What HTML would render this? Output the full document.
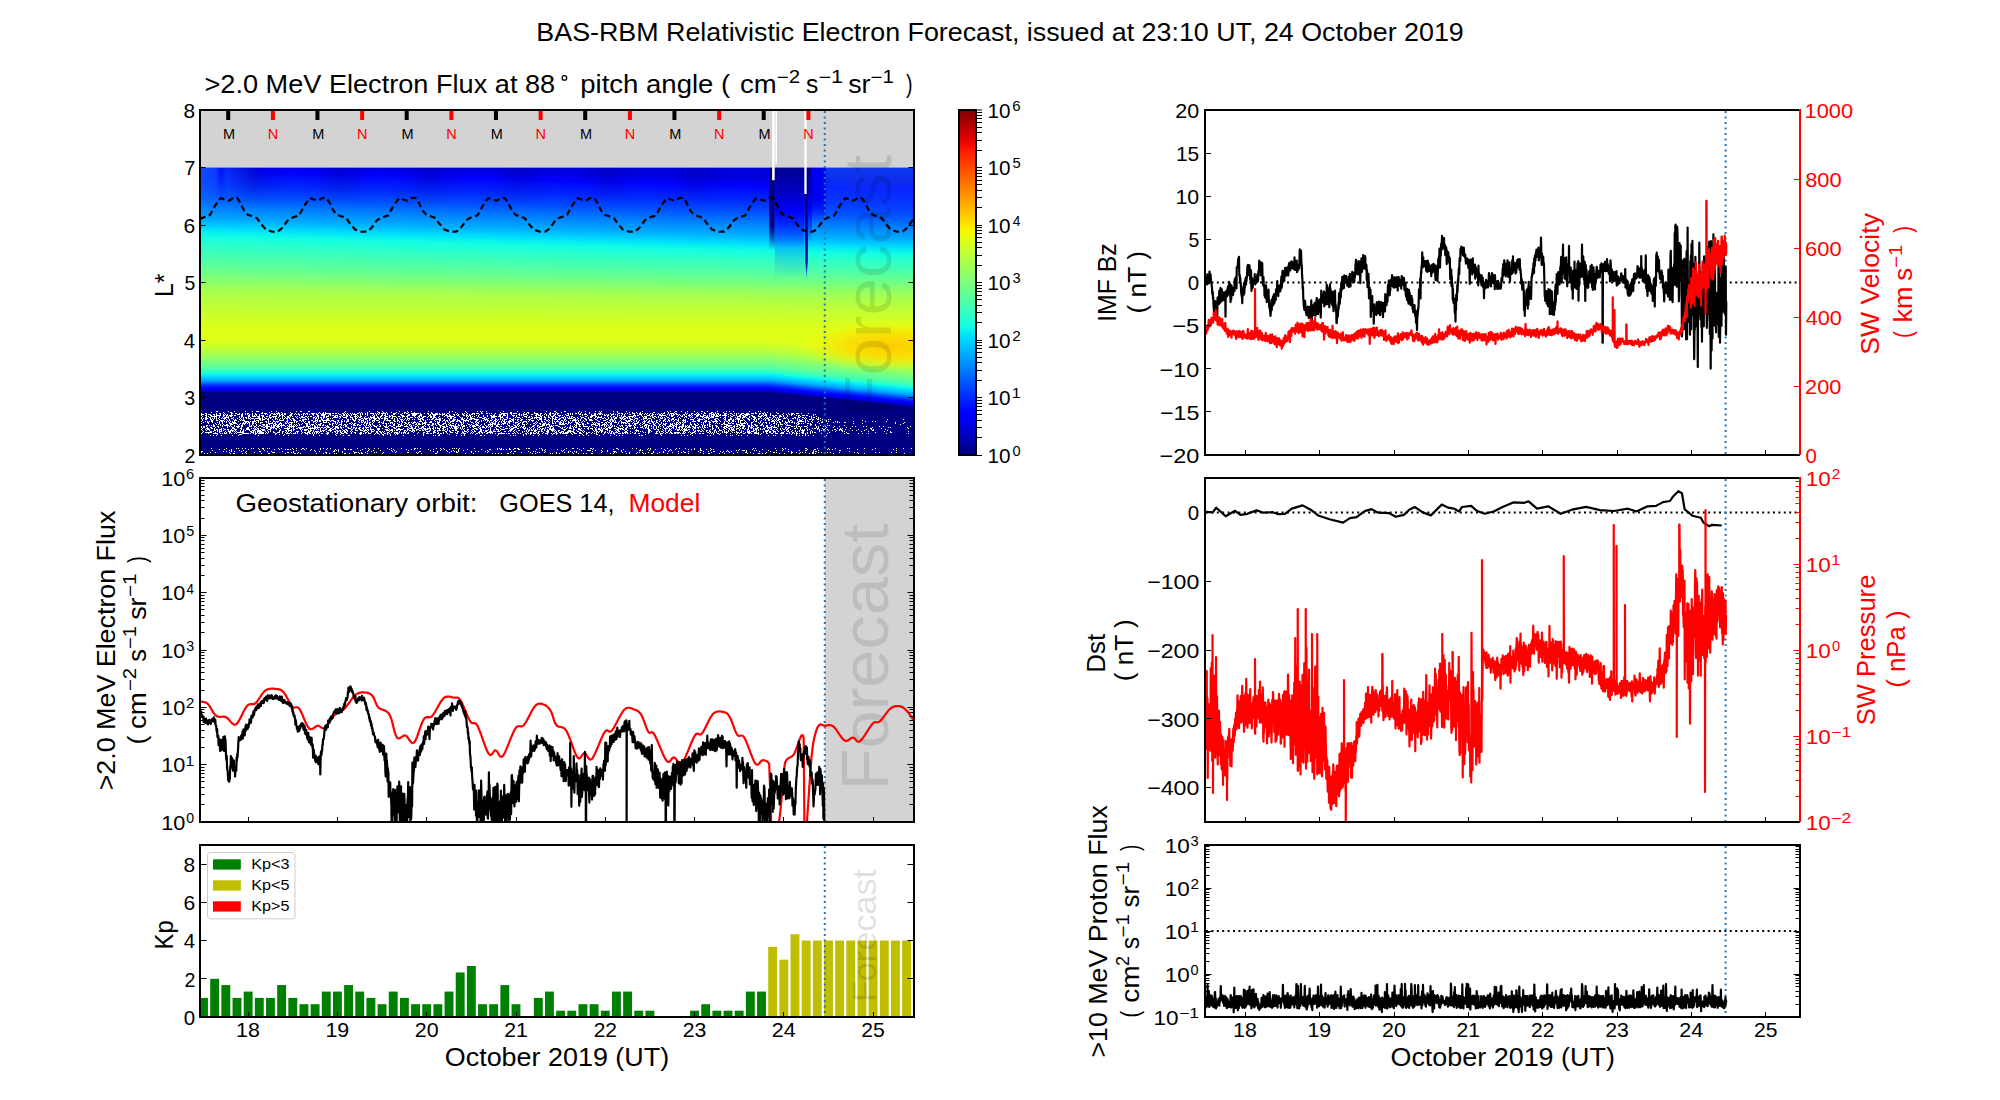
<!DOCTYPE html><html><head><meta charset="utf-8"><title>BAS-RBM Relativistic Electron Forecast</title><style>html,body{margin:0;padding:0;background:#fff;overflow:hidden}svg{display:block}text{font-family:"Liberation Sans",sans-serif}</style></head><body><svg width="2000" height="1100" viewBox="0 0 2000 1100" font-family="Liberation Sans, sans-serif"><defs><linearGradient id="gbase" gradientUnits="userSpaceOnUse" x1="0" y1="167.5" x2="0" y2="455"><stop offset="0.0000" stop-color="#0000e2"/><stop offset="0.0165" stop-color="#0000ff"/><stop offset="0.0261" stop-color="#0000ff"/><stop offset="0.0322" stop-color="#000aff"/><stop offset="0.0730" stop-color="#0028ff"/><stop offset="0.1148" stop-color="#0050ff"/><stop offset="0.1557" stop-color="#0081ff"/><stop offset="0.1965" stop-color="#00afff"/><stop offset="0.2243" stop-color="#00dbff"/><stop offset="0.2313" stop-color="#00e6f7"/><stop offset="0.2383" stop-color="#08f0ef"/><stop offset="0.2557" stop-color="#15ffe2"/><stop offset="0.2791" stop-color="#28ffce"/><stop offset="0.3617" stop-color="#64ff93"/><stop offset="0.4357" stop-color="#aaff4c"/><stop offset="0.5374" stop-color="#d6ff21"/><stop offset="0.5757" stop-color="#e1ff16"/><stop offset="0.6000" stop-color="#deff19"/><stop offset="0.6157" stop-color="#d2ff25"/><stop offset="0.6417" stop-color="#b3ff44"/><stop offset="0.6922" stop-color="#5fff98"/><stop offset="0.7070" stop-color="#3bffbb"/><stop offset="0.7165" stop-color="#15ffe2"/><stop offset="0.7243" stop-color="#00e5f7"/><stop offset="0.7278" stop-color="#00d9ff"/><stop offset="0.7426" stop-color="#009eff"/><stop offset="0.7548" stop-color="#0042ff"/><stop offset="0.7670" stop-color="#0000ff"/><stop offset="0.7696" stop-color="#0000ff"/><stop offset="0.7774" stop-color="#0000d1"/><stop offset="0.7826" stop-color="#000085"/><stop offset="0.7835" stop-color="#000080"/><stop offset="1.0000" stop-color="#000080"/></linearGradient><linearGradient id="gupm" gradientUnits="userSpaceOnUse" x1="0" y1="167.5" x2="0" y2="320"><stop offset="0" stop-color="#fff"/><stop offset="0.5" stop-color="#fff"/><stop offset="1" stop-color="#fff" stop-opacity="0"/></linearGradient><mask id="mupper" maskContentUnits="userSpaceOnUse"><rect x="200" y="167.5" width="714" height="155" fill="url(#gupm)"/></mask><clipPath id="cp1"><rect x="200" y="110" width="714" height="345"/></clipPath><linearGradient id="gper" gradientUnits="userSpaceOnUse" x1="200" y1="0" x2="289.25" y2="0" spreadMethod="repeat"><stop offset="0" stop-color="#0000a0" stop-opacity="0.05"/><stop offset="0.3" stop-color="#0000a0" stop-opacity="0.1"/><stop offset="0.55" stop-color="#0000a0" stop-opacity="0.45"/><stop offset="0.8" stop-color="#0000a0" stop-opacity="0.2"/><stop offset="1" stop-color="#0000a0" stop-opacity="0.05"/></linearGradient><linearGradient id="gvfade" x1="0" y1="0" x2="0" y2="1"><stop offset="0" stop-color="#fff"/><stop offset="0.35" stop-color="#fff" stop-opacity="0.6"/><stop offset="1" stop-color="#fff" stop-opacity="0"/></linearGradient><mask id="mtop" maskContentUnits="userSpaceOnUse"><rect x="200" y="167.5" width="714" height="40" fill="url(#gvfade)"/></mask><linearGradient id="gleft" x1="0" y1="0" x2="1" y2="0"><stop offset="0" stop-color="#2090ff" stop-opacity="0.55"/><stop offset="0.25" stop-color="#2090ff" stop-opacity="0.45"/><stop offset="0.35" stop-color="#2090ff" stop-opacity="0.1"/><stop offset="0.45" stop-color="#2090ff" stop-opacity="0.3"/><stop offset="1" stop-color="#2090ff" stop-opacity="0"/></linearGradient><linearGradient id="gvfade2" x1="0" y1="0" x2="0" y2="1"><stop offset="0" stop-color="#fff"/><stop offset="1" stop-color="#fff" stop-opacity="0"/></linearGradient><mask id="mleft" maskContentUnits="userSpaceOnUse"><rect x="200" y="167.5" width="60" height="60" fill="url(#gvfade2)"/></mask><radialGradient id="gorange"><stop offset="0" stop-color="#ffcc00" stop-opacity="1"/><stop offset="0.45" stop-color="#ffd800" stop-opacity="0.8"/><stop offset="0.75" stop-color="#ffe800" stop-opacity="0.35"/><stop offset="1" stop-color="#f0ff10" stop-opacity="0"/></radialGradient><linearGradient id="gd1" x1="0" y1="0" x2="0" y2="1"><stop offset="0" stop-color="#000080" stop-opacity="1"/><stop offset="0.7" stop-color="#000080" stop-opacity="1"/><stop offset="1" stop-color="#000080" stop-opacity="0"/></linearGradient><linearGradient id="gd2" x1="0" y1="0" x2="0" y2="1"><stop offset="0" stop-color="#000090"/><stop offset="0.3" stop-color="#0000c0"/><stop offset="0.55" stop-color="#0000ff"/><stop offset="1" stop-color="#0020ff" stop-opacity="0"/></linearGradient><linearGradient id="gd2b" x1="0" y1="0" x2="0" y2="1"><stop offset="0" stop-color="#0050ff" stop-opacity="0.75"/><stop offset="1" stop-color="#0050ff" stop-opacity="0"/></linearGradient><linearGradient id="gd3" x1="0" y1="0" x2="0" y2="1"><stop offset="0" stop-color="#000080"/><stop offset="0.75" stop-color="#000090"/><stop offset="0.88" stop-color="#0010e0" stop-opacity="0.9"/><stop offset="1" stop-color="#0050ff" stop-opacity="0.3"/></linearGradient><linearGradient id="gd4" x1="0" y1="0" x2="0" y2="1"><stop offset="0" stop-color="#0000f0" stop-opacity="1"/><stop offset="0.55" stop-color="#0000f0" stop-opacity="1"/><stop offset="1" stop-color="#0000f0" stop-opacity="0"/></linearGradient><linearGradient id="gftop" x1="0" y1="0" x2="0" y2="1"><stop offset="0" stop-color="#2080ff" stop-opacity="0.45"/><stop offset="0.6" stop-color="#2080ff" stop-opacity="0.2"/><stop offset="1" stop-color="#2080ff" stop-opacity="0"/></linearGradient><linearGradient id="gcb" x1="0" y1="0" x2="0" y2="1"><stop offset="0.000" stop-color="#800000"/><stop offset="0.025" stop-color="#9c0000"/><stop offset="0.050" stop-color="#b90000"/><stop offset="0.075" stop-color="#d60000"/><stop offset="0.100" stop-color="#f30900"/><stop offset="0.125" stop-color="#ff2100"/><stop offset="0.150" stop-color="#ff3900"/><stop offset="0.175" stop-color="#ff5000"/><stop offset="0.200" stop-color="#ff6800"/><stop offset="0.225" stop-color="#ff8000"/><stop offset="0.250" stop-color="#ff9700"/><stop offset="0.275" stop-color="#ffaf00"/><stop offset="0.300" stop-color="#ffc600"/><stop offset="0.325" stop-color="#ffde00"/><stop offset="0.350" stop-color="#f7f600"/><stop offset="0.375" stop-color="#e2ff15"/><stop offset="0.400" stop-color="#ceff29"/><stop offset="0.425" stop-color="#b9ff3e"/><stop offset="0.450" stop-color="#a5ff52"/><stop offset="0.475" stop-color="#90ff67"/><stop offset="0.500" stop-color="#7bff7b"/><stop offset="0.525" stop-color="#67ff90"/><stop offset="0.550" stop-color="#52ffa5"/><stop offset="0.575" stop-color="#3effb9"/><stop offset="0.600" stop-color="#29ffce"/><stop offset="0.625" stop-color="#15ffe2"/><stop offset="0.650" stop-color="#00e5f7"/><stop offset="0.675" stop-color="#00ccff"/><stop offset="0.700" stop-color="#00b3ff"/><stop offset="0.725" stop-color="#0099ff"/><stop offset="0.750" stop-color="#0080ff"/><stop offset="0.775" stop-color="#0066ff"/><stop offset="0.800" stop-color="#004cff"/><stop offset="0.825" stop-color="#0033ff"/><stop offset="0.850" stop-color="#001aff"/><stop offset="0.875" stop-color="#0000ff"/><stop offset="0.900" stop-color="#0000f3"/><stop offset="0.925" stop-color="#0000d6"/><stop offset="0.950" stop-color="#0000b9"/><stop offset="0.975" stop-color="#00009c"/><stop offset="1.000" stop-color="#000080"/></linearGradient><clipPath id="cp2"><rect x="200" y="478" width="714" height="344"/></clipPath><clipPath id="cp3"><rect x="200" y="845" width="714" height="172"/></clipPath><clipPath id="cp4"><rect x="1205" y="110" width="595" height="345"/></clipPath><clipPath id="cp5"><rect x="1205" y="478" width="595" height="344"/></clipPath><clipPath id="cp6"><rect x="1205" y="845" width="595" height="172"/></clipPath></defs><rect width="2000" height="1100" fill="#fff"/><text x="536.35" y="40.7" font-size="25.8" fill="#000" textLength="927.39" lengthAdjust="spacingAndGlyphs">BAS-RBM Relativistic Electron Forecast, issued at 23:10 UT, 24 October 2019</text><g clip-path="url(#cp1)"><rect x="200" y="167.5" width="714" height="287.5" fill="url(#gbase)"/><g mask="url(#mupper)"><g transform="translate(0,-4) translate(200,0) skewY(1.58) translate(-200,0)"><rect x="200" y="150" width="714" height="180" fill="url(#gbase)"/></g></g><g transform="translate(770,0) skewY(5.71) translate(-770,0)"><rect x="770" y="335" width="145" height="140" fill="url(#gbase)"/></g><ellipse cx="890" cy="346" rx="95" ry="26" fill="url(#gorange)"/><rect x="200" y="167.5" width="625" height="40" fill="url(#gper)" mask="url(#mtop)"/><rect x="200" y="167.5" width="60" height="60" fill="url(#gleft)" mask="url(#mleft)"/><rect x="825" y="167.5" width="89" height="55" fill="url(#gftop)"/><rect x="769.3" y="167.5" width="5.5" height="82.5" fill="url(#gd1)"/><rect x="774.8" y="200" width="29.7" height="80" fill="url(#gd2b)"/><rect x="774.8" y="167.5" width="29.7" height="80" fill="url(#gd2)"/><rect x="807.5" y="167.5" width="4.5" height="75" fill="url(#gd2)"/><path d="M804.3 167.5H807.8V262L806.5 280L805.3 262Z" fill="url(#gd3)"/><rect x="811.5" y="167.5" width="14.5" height="55" fill="url(#gd4)"/><rect x="200" y="110" width="714" height="57.5" fill="#d3d3d3"/></g><g clip-path="url(#cp1)"><path d="M216 411.5h1m0 0h1m10 0h1m5 0h1m10 0h1m6 0h1m3 0h1m0 0h1m0 0h1m12 0h1m4 0h1m19 0h1m3 0h1m0 0h1m6 0h1m0 0h1m35 0h1m23 0h1m7 0h1m4 0h1m16 0h1m7 0h1m3 0h1m16 0h1m20 0h1m2 0h1m12 0h1m11 0h1m2 0h1m1 0h1m3 0h1m16 0h1m13 0h1m28 0h1m7 0h1m0 0h1m8 0h1m0 0h1m13 0h1m5 0h1m9 0h1m3 0h1m1 0h1m11 0h1m3 0h1m8 0h1m15 0h1m24 0h1m2 0h1m4 0h1m0 0h1m4 0h1m5 0h1m6 0h1m6 0h1m0 0h1m4 0h1m9 0h1m8 0h1m2 0h1m3 0h1m15 0h1m8 0h1m1 0h1M211 412.5h1m11 0h1m6 0h1m0 0h1m30 0h1m6 0h1m8 0h1m2 0h1m8 0h1m28 0h1m3 0h1m1 0h1m18 0h1m14 0h1m1 0h1m5 0h1m10 0h1m0 0h1m3 0h1m2 0h1m4 0h1m4 0h1m7 0h1m0 0h1m2 0h1m5 0h1m16 0h1m17 0h1m5 0h1m10 0h1m14 0h1m18 0h1m9 0h1m0 0h1m12 0h1m2 0h1m0 0h1m5 0h1m15 0h1m5 0h1m4 0h1m16 0h1m2 0h1m7 0h1m10 0h1m16 0h1m11 0h1m2 0h1m3 0h1m3 0h1m12 0h1m0 0h1m9 0h1m3 0h1m5 0h1m10 0h1m11 0h1m6 0h1m6 0h1m0 0h1m2 0h1m7 0h1m31 0h1m8 0h1m2 0h1m8 0h1M201 413.5h1m3 0h1m0 0h1m9 0h1m2 0h1m0 0h1m3 0h1m6 0h1m0 0h1m2 0h1m0 0h1m2 0h1m2 0h1m2 0h1m1 0h1m0 0h1m3 0h1m2 0h1m5 0h1m0 0h1m1 0h1m0 0h1m0 0h1m4 0h1m0 0h1m1 0h1m1 0h1m0 0h1m0 0h1m0 0h1m2 0h1m1 0h1m0 0h1m5 0h1m0 0h1m2 0h1m2 0h1m4 0h1m0 0h1m1 0h1m0 0h1m3 0h1m0 0h1m0 0h1m0 0h1m1 0h1m1 0h1m1 0h1m1 0h1m0 0h1m1 0h1m0 0h1m0 0h1m0 0h1m0 0h1m0 0h1m1 0h1m0 0h1m1 0h1m0 0h1m1 0h1m3 0h1m0 0h1m1 0h1m1 0h1m2 0h1m1 0h1m1 0h1m2 0h1m0 0h1m1 0h1m1 0h1m2 0h1m1 0h1m2 0h1m0 0h1m0 0h1m0 0h1m1 0h1m1 0h1m1 0h1m1 0h1m0 0h1m0 0h1m0 0h1m0 0h1m1 0h1m5 0h1m0 0h1m0 0h1m2 0h1m3 0h1m1 0h1m1 0h1m0 0h1m3 0h1m0 0h1m0 0h1m0 0h1m0 0h1m0 0h1m0 0h1m0 0h1m1 0h1m3 0h1m2 0h1m0 0h1m2 0h1m0 0h1m2 0h1m0 0h1m0 0h1m1 0h1m2 0h1m1 0h1m2 0h1m0 0h1m8 0h1m4 0h1m1 0h1m2 0h1m4 0h1m0 0h1m0 0h1m1 0h1m0 0h1m0 0h1m2 0h1m0 0h1m3 0h1m0 0h1m1 0h1m1 0h1m3 0h1m5 0h1m0 0h1m0 0h1m0 0h1m0 0h1m0 0h1m0 0h1m2 0h1m0 0h1m1 0h1m0 0h1m0 0h1m0 0h1m2 0h1m3 0h1m2 0h1m1 0h1m5 0h1m0 0h1m0 0h1m0 0h1m2 0h1m0 0h1m3 0h1m3 0h1m0 0h1m1 0h1m0 0h1m1 0h1m1 0h1m0 0h1m8 0h1m0 0h1m1 0h1m1 0h1m2 0h1m0 0h1m1 0h1m1 0h1m4 0h1m3 0h1m4 0h1m0 0h1m2 0h1m0 0h1m0 0h1m0 0h1m8 0h1m2 0h1m4 0h1m0 0h1m1 0h1m0 0h1m2 0h1m1 0h1m4 0h1m0 0h1m0 0h1m2 0h1m1 0h1m0 0h1m1 0h1m2 0h1m1 0h1m2 0h1m1 0h1m5 0h1m2 0h1m1 0h1m0 0h1m3 0h1m1 0h1m0 0h1m0 0h1m0 0h1m1 0h1m0 0h1m8 0h1m1 0h1m3 0h1m0 0h1m3 0h1m1 0h1m2 0h1m2 0h1m0 0h1m3 0h1m0 0h1m0 0h1m1 0h1m1 0h1m1 0h1m0 0h1m5 0h1m0 0h1m0 0h1m3 0h1m0 0h1m2 0h1m1 0h1m1 0h1m2 0h1m0 0h1m0 0h1m2 0h1m0 0h1m0 0h1m2 0h1m0 0h1m0 0h1m1 0h1m0 0h1m2 0h1m0 0h1m1 0h1m0 0h1m1 0h1m4 0h1m6 0h1m0 0h1m4 0h1m4 0h1m2 0h1m0 0h1m0 0h1m2 0h1m0 0h1m0 0h1m2 0h1m6 0h1M201 414.5h1m0 0h1m0 0h1m2 0h1m1 0h1m0 0h1m0 0h1m2 0h1m0 0h1m1 0h1m3 0h1m2 0h1m1 0h1m1 0h1m3 0h1m5 0h1m0 0h1m0 0h1m1 0h1m0 0h1m2 0h1m1 0h1m1 0h1m2 0h1m2 0h1m0 0h1m2 0h1m5 0h1m1 0h1m2 0h1m2 0h1m0 0h1m0 0h1m1 0h1m1 0h1m1 0h1m0 0h1m1 0h1m0 0h1m4 0h1m0 0h1m2 0h1m1 0h1m1 0h1m0 0h1m1 0h1m1 0h1m1 0h1m1 0h1m1 0h1m2 0h1m0 0h1m2 0h1m0 0h1m3 0h1m0 0h1m0 0h1m0 0h1m0 0h1m3 0h1m0 0h1m8 0h1m0 0h1m2 0h1m0 0h1m1 0h1m1 0h1m2 0h1m1 0h1m0 0h1m0 0h1m0 0h1m3 0h1m1 0h1m2 0h1m1 0h1m5 0h1m2 0h1m1 0h1m3 0h1m2 0h1m1 0h1m5 0h1m0 0h1m5 0h1m0 0h1m6 0h1m0 0h1m2 0h1m0 0h1m0 0h1m0 0h1m0 0h1m3 0h1m0 0h1m6 0h1m1 0h1m1 0h1m0 0h1m0 0h1m0 0h1m0 0h1m0 0h1m1 0h1m0 0h1m1 0h1m0 0h1m0 0h1m1 0h1m2 0h1m3 0h1m0 0h1m1 0h1m1 0h1m3 0h1m0 0h1m2 0h1m2 0h1m1 0h1m0 0h1m1 0h1m4 0h1m14 0h1m4 0h1m0 0h1m0 0h1m1 0h1m0 0h1m2 0h1m3 0h1m6 0h1m0 0h1m1 0h1m1 0h1m0 0h1m0 0h1m0 0h1m4 0h1m0 0h1m3 0h1m0 0h1m0 0h1m1 0h1m3 0h1m1 0h1m2 0h1m0 0h1m3 0h1m0 0h1m1 0h1m7 0h1m2 0h1m1 0h1m1 0h1m6 0h1m0 0h1m1 0h1m1 0h1m0 0h1m0 0h1m4 0h1m2 0h1m0 0h1m1 0h1m1 0h1m0 0h1m1 0h1m1 0h1m1 0h1m1 0h1m2 0h1m0 0h1m0 0h1m1 0h1m1 0h1m4 0h1m1 0h1m4 0h1m0 0h1m3 0h1m4 0h1m0 0h1m0 0h1m2 0h1m1 0h1m2 0h1m2 0h1m0 0h1m1 0h1m1 0h1m1 0h1m0 0h1m1 0h1m4 0h1m1 0h1m1 0h1m1 0h1m0 0h1m1 0h1m0 0h1m1 0h1m3 0h1m0 0h1m1 0h1m2 0h1m1 0h1m2 0h1m0 0h1m1 0h1m0 0h1m0 0h1m3 0h1m5 0h1m1 0h1m0 0h1m0 0h1m0 0h1m1 0h1m1 0h1m1 0h1m3 0h1m0 0h1m2 0h1m3 0h1m3 0h1m3 0h1m0 0h1m2 0h1m0 0h1m0 0h1m0 0h1m0 0h1m0 0h1m9 0h1m3 0h1m1 0h1m0 0h1m3 0h1m11 0h1m3 0h1m2 0h1m1 0h1m0 0h1m1 0h1m18 0h1m1 0h1M201 415.5h1m3 0h1m0 0h1m3 0h1m0 0h1m2 0h1m1 0h1m0 0h1m0 0h1m0 0h1m0 0h1m2 0h1m0 0h1m1 0h1m0 0h1m1 0h1m0 0h1m0 0h1m0 0h1m1 0h1m0 0h1m5 0h1m0 0h1m5 0h1m0 0h1m2 0h1m1 0h1m1 0h1m2 0h1m1 0h1m0 0h1m0 0h1m5 0h1m0 0h1m5 0h1m2 0h1m0 0h1m1 0h1m0 0h1m5 0h1m0 0h1m0 0h1m7 0h1m3 0h1m9 0h1m3 0h1m0 0h1m2 0h1m0 0h1m0 0h1m0 0h1m3 0h1m1 0h1m1 0h1m0 0h1m1 0h1m0 0h1m0 0h1m3 0h1m1 0h1m0 0h1m1 0h1m0 0h1m1 0h1m1 0h1m3 0h1m1 0h1m2 0h1m6 0h1m4 0h1m1 0h1m1 0h1m4 0h1m0 0h1m1 0h1m0 0h1m3 0h1m1 0h1m0 0h1m8 0h1m0 0h1m0 0h1m3 0h1m0 0h1m0 0h1m2 0h1m0 0h1m0 0h1m0 0h1m3 0h1m0 0h1m0 0h1m7 0h1m0 0h1m2 0h1m0 0h1m0 0h1m6 0h1m2 0h1m0 0h1m0 0h1m1 0h1m0 0h1m3 0h1m2 0h1m0 0h1m4 0h1m0 0h1m1 0h1m0 0h1m1 0h1m0 0h1m5 0h1m1 0h1m4 0h1m3 0h1m2 0h1m0 0h1m1 0h1m0 0h1m4 0h1m0 0h1m2 0h1m0 0h1m0 0h1m1 0h1m4 0h1m0 0h1m0 0h1m1 0h1m2 0h1m1 0h1m1 0h1m3 0h1m7 0h1m0 0h1m1 0h1m0 0h1m0 0h1m1 0h1m3 0h1m1 0h1m1 0h1m2 0h1m0 0h1m3 0h1m0 0h1m0 0h1m1 0h1m3 0h1m0 0h1m0 0h1m13 0h1m4 0h1m3 0h1m0 0h1m0 0h1m0 0h1m0 0h1m8 0h1m0 0h1m1 0h1m0 0h1m2 0h1m5 0h1m1 0h1m1 0h1m2 0h1m8 0h1m0 0h1m0 0h1m1 0h1m0 0h1m2 0h1m5 0h1m0 0h1m0 0h1m1 0h1m0 0h1m6 0h1m0 0h1m0 0h1m0 0h1m0 0h1m0 0h1m0 0h1m3 0h1m1 0h1m0 0h1m0 0h1m4 0h1m1 0h1m1 0h1m1 0h1m3 0h1m0 0h1m0 0h1m1 0h1m3 0h1m0 0h1m0 0h1m1 0h1m2 0h1m0 0h1m0 0h1m1 0h1m1 0h1m1 0h1m1 0h1m0 0h1m1 0h1m0 0h1m1 0h1m0 0h1m1 0h1m0 0h1m0 0h1m0 0h1m0 0h1m3 0h1m2 0h1m0 0h1m1 0h1m2 0h1m0 0h1m1 0h1m0 0h1m1 0h1m0 0h1m0 0h1m3 0h1m0 0h1m5 0h1m2 0h1m0 0h1m1 0h1m0 0h1m0 0h1m3 0h1m1 0h1m0 0h1m1 0h1m0 0h1m2 0h1m0 0h1m2 0h1m3 0h1m3 0h1m4 0h1m1 0h1m0 0h1m2 0h1m0 0h1m0 0h1m1 0h1m0 0h1m5 0h1M202 416.5h1m3 0h1m1 0h1m2 0h1m0 0h1m0 0h1m0 0h1m0 0h1m0 0h1m2 0h1m3 0h1m2 0h1m1 0h1m1 0h1m0 0h1m7 0h1m1 0h1m0 0h1m5 0h1m0 0h1m2 0h1m0 0h1m0 0h1m0 0h1m1 0h1m0 0h1m0 0h1m2 0h1m0 0h1m2 0h1m0 0h1m1 0h1m2 0h1m0 0h1m0 0h1m0 0h1m0 0h1m2 0h1m2 0h1m1 0h1m2 0h1m0 0h1m1 0h1m1 0h1m2 0h1m1 0h1m3 0h1m0 0h1m2 0h1m0 0h1m1 0h1m1 0h1m0 0h1m3 0h1m1 0h1m0 0h1m4 0h1m0 0h1m1 0h1m0 0h1m0 0h1m5 0h1m0 0h1m1 0h1m1 0h1m0 0h1m1 0h1m3 0h1m0 0h1m2 0h1m3 0h1m0 0h1m0 0h1m1 0h1m1 0h1m0 0h1m3 0h1m4 0h1m2 0h1m0 0h1m2 0h1m2 0h1m0 0h1m3 0h1m0 0h1m0 0h1m1 0h1m0 0h1m1 0h1m0 0h1m0 0h1m0 0h1m2 0h1m0 0h1m2 0h1m0 0h1m0 0h1m1 0h1m0 0h1m6 0h1m3 0h1m0 0h1m1 0h1m1 0h1m0 0h1m0 0h1m2 0h1m1 0h1m0 0h1m1 0h1m0 0h1m4 0h1m4 0h1m2 0h1m0 0h1m0 0h1m0 0h1m0 0h1m0 0h1m0 0h1m5 0h1m6 0h1m1 0h1m1 0h1m1 0h1m1 0h1m3 0h1m4 0h1m3 0h1m3 0h1m0 0h1m0 0h1m0 0h1m0 0h1m0 0h1m1 0h1m0 0h1m0 0h1m1 0h1m4 0h1m5 0h1m2 0h1m7 0h1m0 0h1m0 0h1m2 0h1m1 0h1m4 0h1m3 0h1m0 0h1m2 0h1m3 0h1m2 0h1m0 0h1m0 0h1m1 0h1m3 0h1m4 0h1m4 0h1m1 0h1m0 0h1m7 0h1m4 0h1m0 0h1m3 0h1m0 0h1m0 0h1m2 0h1m0 0h1m1 0h1m2 0h1m5 0h1m2 0h1m2 0h1m0 0h1m2 0h1m3 0h1m1 0h1m0 0h1m0 0h1m2 0h1m0 0h1m0 0h1m0 0h1m0 0h1m0 0h1m1 0h1m6 0h1m1 0h1m0 0h1m0 0h1m3 0h1m1 0h1m1 0h1m0 0h1m2 0h1m2 0h1m4 0h1m4 0h1m0 0h1m4 0h1m3 0h1m0 0h1m2 0h1m0 0h1m2 0h1m1 0h1m4 0h1m0 0h1m2 0h1m0 0h1m0 0h1m0 0h1m2 0h1m0 0h1m1 0h1m1 0h1m0 0h1m0 0h1m1 0h1m0 0h1m0 0h1m0 0h1m6 0h1m2 0h1m2 0h1m0 0h1m4 0h1m0 0h1m0 0h1m0 0h1m2 0h1m0 0h1m0 0h1m3 0h1m2 0h1m0 0h1m0 0h1m3 0h1m0 0h1m0 0h1m0 0h1m1 0h1m2 0h1m6 0h1m0 0h1m4 0h1m0 0h1m0 0h1m1 0h1m3 0h1m10 0h1m1 0h1m8 0h1m1 0h1m4 0h1M201 417.5h1m3 0h1m0 0h1m2 0h1m0 0h1m3 0h1m1 0h1m2 0h1m2 0h1m1 0h1m0 0h1m0 0h1m0 0h1m0 0h1m4 0h1m5 0h1m1 0h1m1 0h1m1 0h1m0 0h1m1 0h1m1 0h1m7 0h1m0 0h1m2 0h1m1 0h1m4 0h1m0 0h1m0 0h1m1 0h1m1 0h1m2 0h1m3 0h1m2 0h1m1 0h1m0 0h1m0 0h1m6 0h1m2 0h1m1 0h1m0 0h1m0 0h1m0 0h1m2 0h1m5 0h1m0 0h1m1 0h1m1 0h1m1 0h1m0 0h1m1 0h1m0 0h1m1 0h1m6 0h1m0 0h1m0 0h1m0 0h1m0 0h1m2 0h1m2 0h1m0 0h1m0 0h1m0 0h1m3 0h1m0 0h1m0 0h1m2 0h1m1 0h1m1 0h1m0 0h1m3 0h1m3 0h1m1 0h1m0 0h1m0 0h1m0 0h1m0 0h1m2 0h1m0 0h1m1 0h1m3 0h1m0 0h1m3 0h1m2 0h1m3 0h1m3 0h1m1 0h1m4 0h1m2 0h1m0 0h1m0 0h1m2 0h1m1 0h1m1 0h1m2 0h1m0 0h1m3 0h1m2 0h1m0 0h1m1 0h1m0 0h1m0 0h1m2 0h1m8 0h1m2 0h1m0 0h1m2 0h1m0 0h1m4 0h1m1 0h1m4 0h1m2 0h1m0 0h1m5 0h1m1 0h1m0 0h1m0 0h1m2 0h1m0 0h1m5 0h1m0 0h1m0 0h1m0 0h1m5 0h1m0 0h1m0 0h1m3 0h1m0 0h1m7 0h1m1 0h1m0 0h1m0 0h1m2 0h1m3 0h1m1 0h1m0 0h1m2 0h1m1 0h1m0 0h1m0 0h1m0 0h1m0 0h1m0 0h1m1 0h1m2 0h1m0 0h1m2 0h1m0 0h1m2 0h1m2 0h1m0 0h1m0 0h1m3 0h1m0 0h1m0 0h1m1 0h1m1 0h1m1 0h1m1 0h1m1 0h1m0 0h1m2 0h1m3 0h1m0 0h1m0 0h1m4 0h1m1 0h1m0 0h1m3 0h1m1 0h1m0 0h1m0 0h1m0 0h1m0 0h1m2 0h1m3 0h1m2 0h1m1 0h1m1 0h1m0 0h1m2 0h1m0 0h1m1 0h1m0 0h1m2 0h1m0 0h1m1 0h1m2 0h1m1 0h1m4 0h1m3 0h1m1 0h1m0 0h1m5 0h1m0 0h1m2 0h1m1 0h1m1 0h1m1 0h1m1 0h1m2 0h1m0 0h1m5 0h1m4 0h1m4 0h1m1 0h1m3 0h1m1 0h1m2 0h1m6 0h1m1 0h1m0 0h1m0 0h1m0 0h1m0 0h1m1 0h1m0 0h1m0 0h1m0 0h1m6 0h1m3 0h1m0 0h1m4 0h1m4 0h1m1 0h1m2 0h1m1 0h1m0 0h1m0 0h1m1 0h1m2 0h1m3 0h1m0 0h1m0 0h1m4 0h1m4 0h1m1 0h1m1 0h1m0 0h1m2 0h1m1 0h1m1 0h1m1 0h1m4 0h1m1 0h1m7 0h1m0 0h1m2 0h1m0 0h1m2 0h1m0 0h1m1 0h1m5 0h1m1 0h1m0 0h1m3 0h1M201 418.5h1m1 0h1m1 0h1m0 0h1m0 0h1m2 0h1m1 0h1m1 0h1m1 0h1m1 0h1m2 0h1m1 0h1m0 0h1m0 0h1m2 0h1m2 0h1m0 0h1m4 0h1m2 0h1m2 0h1m2 0h1m1 0h1m0 0h1m1 0h1m0 0h1m0 0h1m1 0h1m0 0h1m0 0h1m0 0h1m0 0h1m0 0h1m1 0h1m2 0h1m0 0h1m1 0h1m1 0h1m4 0h1m0 0h1m3 0h1m1 0h1m1 0h1m1 0h1m0 0h1m1 0h1m2 0h1m0 0h1m3 0h1m2 0h1m4 0h1m2 0h1m4 0h1m1 0h1m0 0h1m1 0h1m2 0h1m1 0h1m3 0h1m0 0h1m1 0h1m1 0h1m6 0h1m6 0h1m5 0h1m2 0h1m0 0h1m4 0h1m0 0h1m1 0h1m0 0h1m0 0h1m0 0h1m1 0h1m1 0h1m1 0h1m0 0h1m0 0h1m0 0h1m1 0h1m0 0h1m1 0h1m0 0h1m1 0h1m0 0h1m0 0h1m0 0h1m3 0h1m0 0h1m1 0h1m2 0h1m1 0h1m5 0h1m1 0h1m0 0h1m0 0h1m8 0h1m1 0h1m0 0h1m0 0h1m9 0h1m0 0h1m2 0h1m2 0h1m0 0h1m1 0h1m5 0h1m1 0h1m0 0h1m1 0h1m7 0h1m0 0h1m1 0h1m2 0h1m2 0h1m0 0h1m0 0h1m0 0h1m0 0h1m7 0h1m0 0h1m0 0h1m1 0h1m1 0h1m2 0h1m3 0h1m4 0h1m2 0h1m3 0h1m1 0h1m0 0h1m2 0h1m6 0h1m10 0h1m0 0h1m1 0h1m1 0h1m2 0h1m0 0h1m0 0h1m3 0h1m4 0h1m1 0h1m0 0h1m1 0h1m3 0h1m0 0h1m2 0h1m1 0h1m2 0h1m0 0h1m0 0h1m0 0h1m0 0h1m2 0h1m2 0h1m2 0h1m2 0h1m0 0h1m2 0h1m5 0h1m2 0h1m4 0h1m0 0h1m1 0h1m2 0h1m2 0h1m2 0h1m0 0h1m0 0h1m3 0h1m0 0h1m0 0h1m1 0h1m0 0h1m1 0h1m1 0h1m0 0h1m4 0h1m0 0h1m0 0h1m5 0h1m0 0h1m0 0h1m0 0h1m1 0h1m0 0h1m0 0h1m3 0h1m5 0h1m0 0h1m0 0h1m2 0h1m3 0h1m2 0h1m0 0h1m4 0h1m1 0h1m7 0h1m5 0h1m2 0h1m1 0h1m3 0h1m2 0h1m1 0h1m0 0h1m5 0h1m0 0h1m0 0h1m5 0h1m1 0h1m4 0h1m0 0h1m4 0h1m0 0h1m0 0h1m0 0h1m2 0h1m4 0h1m0 0h1m2 0h1m2 0h1m0 0h1m2 0h1m0 0h1m1 0h1m2 0h1m1 0h1m0 0h1m0 0h1m3 0h1m3 0h1m1 0h1m4 0h1m0 0h1m0 0h1m1 0h1m4 0h1m0 0h1m1 0h1m1 0h1m6 0h1m1 0h1m4 0h1m4 0h1m1 0h1m1 0h1M202 419.5h1m2 0h1m0 0h1m3 0h1m0 0h1m1 0h1m2 0h1m2 0h1m4 0h1m1 0h1m2 0h1m3 0h1m1 0h1m3 0h1m1 0h1m1 0h1m6 0h1m3 0h1m4 0h1m0 0h1m1 0h1m0 0h1m0 0h1m2 0h1m0 0h1m3 0h1m2 0h1m1 0h1m1 0h1m3 0h1m3 0h1m2 0h1m2 0h1m0 0h1m7 0h1m0 0h1m0 0h1m0 0h1m0 0h1m1 0h1m6 0h1m1 0h1m3 0h1m0 0h1m3 0h1m0 0h1m0 0h1m13 0h1m4 0h1m0 0h1m1 0h1m1 0h1m0 0h1m1 0h1m2 0h1m0 0h1m0 0h1m2 0h1m1 0h1m0 0h1m2 0h1m0 0h1m3 0h1m0 0h1m3 0h1m4 0h1m0 0h1m1 0h1m6 0h1m2 0h1m2 0h1m0 0h1m0 0h1m1 0h1m2 0h1m1 0h1m2 0h1m1 0h1m3 0h1m0 0h1m0 0h1m1 0h1m0 0h1m3 0h1m1 0h1m1 0h1m0 0h1m2 0h1m0 0h1m0 0h1m0 0h1m0 0h1m0 0h1m3 0h1m4 0h1m3 0h1m0 0h1m0 0h1m1 0h1m3 0h1m0 0h1m0 0h1m2 0h1m2 0h1m0 0h1m0 0h1m2 0h1m0 0h1m0 0h1m0 0h1m0 0h1m5 0h1m0 0h1m0 0h1m0 0h1m4 0h1m2 0h1m0 0h1m1 0h1m1 0h1m1 0h1m1 0h1m0 0h1m0 0h1m4 0h1m0 0h1m0 0h1m1 0h1m1 0h1m0 0h1m2 0h1m0 0h1m3 0h1m1 0h1m0 0h1m0 0h1m6 0h1m1 0h1m0 0h1m0 0h1m2 0h1m0 0h1m2 0h1m3 0h1m1 0h1m0 0h1m0 0h1m1 0h1m0 0h1m4 0h1m0 0h1m7 0h1m0 0h1m0 0h1m1 0h1m2 0h1m4 0h1m0 0h1m2 0h1m0 0h1m0 0h1m3 0h1m0 0h1m3 0h1m5 0h1m0 0h1m2 0h1m0 0h1m0 0h1m1 0h1m6 0h1m1 0h1m0 0h1m5 0h1m0 0h1m0 0h1m1 0h1m2 0h1m3 0h1m1 0h1m3 0h1m3 0h1m7 0h1m4 0h1m0 0h1m2 0h1m2 0h1m0 0h1m0 0h1m1 0h1m0 0h1m1 0h1m4 0h1m1 0h1m4 0h1m0 0h1m0 0h1m0 0h1m4 0h1m0 0h1m0 0h1m0 0h1m0 0h1m1 0h1m3 0h1m5 0h1m0 0h1m2 0h1m5 0h1m0 0h1m2 0h1m0 0h1m0 0h1m0 0h1m1 0h1m1 0h1m1 0h1m0 0h1m0 0h1m3 0h1m4 0h1m0 0h1m3 0h1m0 0h1m1 0h1m1 0h1m4 0h1m1 0h1m2 0h1m0 0h1m1 0h1m2 0h1m1 0h1m1 0h1m0 0h1m0 0h1m7 0h1m8 0h1m1 0h1m2 0h1m2 0h1m3 0h1m0 0h1m1 0h1m0 0h1m3 0h1m0 0h1m3 0h1m5 0h1m1 0h1m56 0h1m15 0h1M202 420.5h1m8 0h1m0 0h1m3 0h1m0 0h1m2 0h1m0 0h1m0 0h1m0 0h1m3 0h1m1 0h1m4 0h1m0 0h1m0 0h1m3 0h1m1 0h1m0 0h1m0 0h1m9 0h1m1 0h1m0 0h1m0 0h1m1 0h1m1 0h1m5 0h1m4 0h1m5 0h1m0 0h1m0 0h1m0 0h1m0 0h1m3 0h1m3 0h1m1 0h1m0 0h1m0 0h1m3 0h1m0 0h1m1 0h1m0 0h1m7 0h1m0 0h1m2 0h1m0 0h1m0 0h1m1 0h1m0 0h1m1 0h1m0 0h1m0 0h1m0 0h1m0 0h1m0 0h1m0 0h1m0 0h1m1 0h1m0 0h1m0 0h1m3 0h1m0 0h1m2 0h1m2 0h1m2 0h1m0 0h1m4 0h1m0 0h1m0 0h1m3 0h1m1 0h1m0 0h1m0 0h1m3 0h1m1 0h1m2 0h1m0 0h1m0 0h1m1 0h1m0 0h1m0 0h1m5 0h1m1 0h1m0 0h1m0 0h1m0 0h1m0 0h1m2 0h1m0 0h1m2 0h1m0 0h1m2 0h1m1 0h1m2 0h1m1 0h1m11 0h1m2 0h1m1 0h1m8 0h1m4 0h1m0 0h1m2 0h1m0 0h1m1 0h1m0 0h1m1 0h1m2 0h1m0 0h1m0 0h1m2 0h1m0 0h1m0 0h1m3 0h1m0 0h1m0 0h1m0 0h1m0 0h1m0 0h1m7 0h1m0 0h1m3 0h1m1 0h1m1 0h1m1 0h1m0 0h1m1 0h1m0 0h1m2 0h1m0 0h1m1 0h1m4 0h1m1 0h1m4 0h1m0 0h1m1 0h1m0 0h1m3 0h1m2 0h1m0 0h1m7 0h1m1 0h1m0 0h1m0 0h1m4 0h1m2 0h1m4 0h1m0 0h1m1 0h1m2 0h1m4 0h1m3 0h1m0 0h1m1 0h1m1 0h1m3 0h1m1 0h1m0 0h1m0 0h1m0 0h1m0 0h1m1 0h1m1 0h1m2 0h1m2 0h1m2 0h1m0 0h1m0 0h1m0 0h1m4 0h1m5 0h1m0 0h1m0 0h1m3 0h1m0 0h1m1 0h1m0 0h1m1 0h1m4 0h1m4 0h1m0 0h1m1 0h1m0 0h1m0 0h1m2 0h1m2 0h1m2 0h1m4 0h1m1 0h1m2 0h1m1 0h1m4 0h1m0 0h1m2 0h1m2 0h1m0 0h1m3 0h1m0 0h1m1 0h1m2 0h1m2 0h1m0 0h1m3 0h1m0 0h1m0 0h1m0 0h1m7 0h1m3 0h1m0 0h1m0 0h1m5 0h1m0 0h1m4 0h1m3 0h1m0 0h1m2 0h1m5 0h1m2 0h1m0 0h1m2 0h1m0 0h1m4 0h1m1 0h1m0 0h1m0 0h1m1 0h1m4 0h1m4 0h1m1 0h1m4 0h1m3 0h1m2 0h1m0 0h1m2 0h1m0 0h1m1 0h1m1 0h1m0 0h1m3 0h1m5 0h1m1 0h1m0 0h1m5 0h1m1 0h1m0 0h1m0 0h1m3 0h1m1 0h1m4 0h1m7 0h1m5 0h1m35 0h1M201 421.5h1m3 0h1m1 0h1m1 0h1m1 0h1m0 0h1m6 0h1m1 0h1m0 0h1m1 0h1m1 0h1m1 0h1m1 0h1m1 0h1m1 0h1m3 0h1m5 0h1m0 0h1m0 0h1m0 0h1m0 0h1m1 0h1m1 0h1m0 0h1m0 0h1m0 0h1m2 0h1m6 0h1m0 0h1m1 0h1m1 0h1m2 0h1m0 0h1m1 0h1m0 0h1m0 0h1m7 0h1m0 0h1m6 0h1m1 0h1m0 0h1m3 0h1m1 0h1m1 0h1m2 0h1m0 0h1m3 0h1m0 0h1m0 0h1m1 0h1m1 0h1m0 0h1m2 0h1m2 0h1m3 0h1m2 0h1m0 0h1m0 0h1m2 0h1m2 0h1m0 0h1m1 0h1m1 0h1m0 0h1m0 0h1m5 0h1m3 0h1m2 0h1m1 0h1m1 0h1m1 0h1m4 0h1m1 0h1m4 0h1m3 0h1m5 0h1m4 0h1m0 0h1m1 0h1m1 0h1m1 0h1m0 0h1m11 0h1m4 0h1m0 0h1m0 0h1m3 0h1m4 0h1m0 0h1m3 0h1m1 0h1m1 0h1m2 0h1m2 0h1m1 0h1m2 0h1m0 0h1m0 0h1m0 0h1m2 0h1m0 0h1m1 0h1m0 0h1m2 0h1m1 0h1m2 0h1m1 0h1m4 0h1m0 0h1m2 0h1m1 0h1m5 0h1m1 0h1m3 0h1m1 0h1m0 0h1m2 0h1m1 0h1m1 0h1m0 0h1m1 0h1m1 0h1m0 0h1m0 0h1m0 0h1m1 0h1m4 0h1m4 0h1m0 0h1m0 0h1m0 0h1m1 0h1m3 0h1m3 0h1m4 0h1m0 0h1m1 0h1m3 0h1m3 0h1m1 0h1m1 0h1m0 0h1m0 0h1m1 0h1m2 0h1m1 0h1m2 0h1m3 0h1m2 0h1m2 0h1m3 0h1m1 0h1m13 0h1m0 0h1m7 0h1m2 0h1m1 0h1m0 0h1m1 0h1m3 0h1m1 0h1m4 0h1m0 0h1m0 0h1m0 0h1m1 0h1m2 0h1m1 0h1m1 0h1m4 0h1m0 0h1m0 0h1m2 0h1m0 0h1m1 0h1m0 0h1m1 0h1m1 0h1m2 0h1m3 0h1m1 0h1m1 0h1m1 0h1m3 0h1m4 0h1m4 0h1m1 0h1m1 0h1m4 0h1m0 0h1m0 0h1m0 0h1m2 0h1m0 0h1m4 0h1m0 0h1m0 0h1m1 0h1m0 0h1m2 0h1m0 0h1m0 0h1m0 0h1m0 0h1m0 0h1m2 0h1m3 0h1m1 0h1m0 0h1m1 0h1m2 0h1m0 0h1m1 0h1m2 0h1m1 0h1m4 0h1m7 0h1m1 0h1m0 0h1m3 0h1m10 0h1m0 0h1m0 0h1m0 0h1m1 0h1m2 0h1m2 0h1m2 0h1m2 0h1m0 0h1m2 0h1m5 0h1m0 0h1m0 0h1m0 0h1m0 0h1m0 0h1m1 0h1m2 0h1m2 0h1m6 0h1m3 0h1m3 0h1m1 0h1m6 0h1m1 0h1m15 0h1m11 0h1m6 0h1m2 0h1m10 0h1M203 422.5h1m3 0h1m0 0h1m3 0h1m4 0h1m1 0h1m2 0h1m3 0h1m2 0h1m2 0h1m0 0h1m0 0h1m0 0h1m7 0h1m1 0h1m0 0h1m1 0h1m0 0h1m2 0h1m0 0h1m2 0h1m1 0h1m1 0h1m0 0h1m0 0h1m3 0h1m1 0h1m3 0h1m2 0h1m1 0h1m2 0h1m4 0h1m1 0h1m1 0h1m0 0h1m0 0h1m0 0h1m1 0h1m1 0h1m7 0h1m3 0h1m0 0h1m3 0h1m2 0h1m6 0h1m0 0h1m0 0h1m0 0h1m1 0h1m6 0h1m1 0h1m1 0h1m1 0h1m4 0h1m4 0h1m7 0h1m1 0h1m0 0h1m1 0h1m0 0h1m1 0h1m1 0h1m0 0h1m2 0h1m4 0h1m0 0h1m1 0h1m1 0h1m6 0h1m0 0h1m0 0h1m6 0h1m2 0h1m1 0h1m0 0h1m2 0h1m0 0h1m1 0h1m1 0h1m0 0h1m0 0h1m1 0h1m4 0h1m1 0h1m0 0h1m0 0h1m2 0h1m0 0h1m0 0h1m5 0h1m0 0h1m0 0h1m5 0h1m2 0h1m1 0h1m9 0h1m0 0h1m1 0h1m7 0h1m0 0h1m2 0h1m1 0h1m0 0h1m7 0h1m2 0h1m1 0h1m0 0h1m2 0h1m2 0h1m2 0h1m2 0h1m0 0h1m2 0h1m0 0h1m3 0h1m1 0h1m0 0h1m0 0h1m2 0h1m1 0h1m0 0h1m2 0h1m8 0h1m1 0h1m4 0h1m2 0h1m3 0h1m2 0h1m2 0h1m3 0h1m0 0h1m0 0h1m1 0h1m4 0h1m0 0h1m1 0h1m3 0h1m0 0h1m0 0h1m1 0h1m1 0h1m5 0h1m4 0h1m1 0h1m1 0h1m4 0h1m0 0h1m2 0h1m0 0h1m1 0h1m0 0h1m1 0h1m2 0h1m0 0h1m0 0h1m1 0h1m2 0h1m0 0h1m0 0h1m0 0h1m0 0h1m1 0h1m5 0h1m3 0h1m0 0h1m3 0h1m1 0h1m2 0h1m0 0h1m3 0h1m0 0h1m2 0h1m0 0h1m3 0h1m14 0h1m0 0h1m1 0h1m0 0h1m1 0h1m1 0h1m0 0h1m4 0h1m10 0h1m1 0h1m1 0h1m3 0h1m0 0h1m2 0h1m2 0h1m7 0h1m3 0h1m2 0h1m6 0h1m1 0h1m3 0h1m1 0h1m4 0h1m0 0h1m5 0h1m1 0h1m2 0h1m1 0h1m0 0h1m2 0h1m4 0h1m2 0h1m1 0h1m0 0h1m4 0h1m0 0h1m0 0h1m1 0h1m1 0h1m0 0h1m1 0h1m2 0h1m0 0h1m6 0h1m6 0h1m4 0h1m3 0h1m0 0h1m10 0h1m3 0h1m1 0h1m4 0h1m0 0h1m49 0h1m8 0h1M201 423.5h1m6 0h1m6 0h1m3 0h1m2 0h1m6 0h1m0 0h1m0 0h1m1 0h1m0 0h1m0 0h1m0 0h1m3 0h1m1 0h1m0 0h1m0 0h1m0 0h1m1 0h1m1 0h1m2 0h1m0 0h1m1 0h1m4 0h1m7 0h1m0 0h1m0 0h1m0 0h1m0 0h1m1 0h1m0 0h1m3 0h1m0 0h1m0 0h1m3 0h1m0 0h1m1 0h1m2 0h1m6 0h1m3 0h1m2 0h1m0 0h1m0 0h1m1 0h1m5 0h1m4 0h1m0 0h1m7 0h1m2 0h1m0 0h1m1 0h1m1 0h1m3 0h1m7 0h1m0 0h1m1 0h1m1 0h1m0 0h1m8 0h1m1 0h1m0 0h1m1 0h1m2 0h1m9 0h1m0 0h1m1 0h1m0 0h1m1 0h1m1 0h1m1 0h1m1 0h1m2 0h1m3 0h1m3 0h1m0 0h1m1 0h1m3 0h1m0 0h1m2 0h1m1 0h1m0 0h1m2 0h1m0 0h1m0 0h1m0 0h1m6 0h1m0 0h1m1 0h1m1 0h1m0 0h1m4 0h1m0 0h1m0 0h1m3 0h1m2 0h1m0 0h1m2 0h1m4 0h1m1 0h1m3 0h1m5 0h1m2 0h1m1 0h1m5 0h1m5 0h1m1 0h1m0 0h1m0 0h1m0 0h1m2 0h1m3 0h1m0 0h1m0 0h1m0 0h1m1 0h1m1 0h1m5 0h1m2 0h1m0 0h1m2 0h1m4 0h1m5 0h1m0 0h1m1 0h1m2 0h1m0 0h1m2 0h1m0 0h1m0 0h1m2 0h1m3 0h1m0 0h1m1 0h1m3 0h1m0 0h1m1 0h1m0 0h1m1 0h1m0 0h1m1 0h1m1 0h1m5 0h1m0 0h1m0 0h1m3 0h1m0 0h1m3 0h1m0 0h1m4 0h1m1 0h1m1 0h1m0 0h1m0 0h1m4 0h1m1 0h1m3 0h1m0 0h1m6 0h1m2 0h1m1 0h1m1 0h1m0 0h1m1 0h1m0 0h1m2 0h1m1 0h1m0 0h1m0 0h1m0 0h1m2 0h1m2 0h1m0 0h1m4 0h1m0 0h1m2 0h1m1 0h1m2 0h1m2 0h1m1 0h1m1 0h1m0 0h1m3 0h1m1 0h1m1 0h1m1 0h1m1 0h1m1 0h1m2 0h1m6 0h1m3 0h1m2 0h1m5 0h1m5 0h1m5 0h1m1 0h1m1 0h1m3 0h1m0 0h1m3 0h1m0 0h1m0 0h1m1 0h1m0 0h1m2 0h1m3 0h1m0 0h1m0 0h1m0 0h1m0 0h1m0 0h1m1 0h1m3 0h1m7 0h1m2 0h1m3 0h1m2 0h1m3 0h1m0 0h1m1 0h1m3 0h1m3 0h1m1 0h1m7 0h1m1 0h1m1 0h1m0 0h1m1 0h1m1 0h1m3 0h1m0 0h1m1 0h1m8 0h1m7 0h1m25 0h1m8 0h1m32 0h1m7 0h1M213 424.5h1m2 0h1m1 0h1m1 0h1m2 0h1m2 0h1m0 0h1m2 0h1m0 0h1m0 0h1m4 0h1m1 0h1m2 0h1m1 0h1m4 0h1m2 0h1m3 0h1m5 0h1m0 0h1m0 0h1m1 0h1m0 0h1m1 0h1m3 0h1m1 0h1m0 0h1m1 0h1m0 0h1m1 0h1m1 0h1m5 0h1m0 0h1m0 0h1m2 0h1m1 0h1m2 0h1m1 0h1m4 0h1m0 0h1m1 0h1m1 0h1m0 0h1m0 0h1m2 0h1m1 0h1m0 0h1m0 0h1m2 0h1m5 0h1m0 0h1m1 0h1m3 0h1m2 0h1m0 0h1m0 0h1m2 0h1m0 0h1m1 0h1m3 0h1m1 0h1m0 0h1m2 0h1m0 0h1m2 0h1m1 0h1m2 0h1m2 0h1m0 0h1m1 0h1m6 0h1m6 0h1m6 0h1m0 0h1m3 0h1m0 0h1m1 0h1m2 0h1m2 0h1m1 0h1m0 0h1m4 0h1m0 0h1m1 0h1m0 0h1m0 0h1m1 0h1m2 0h1m1 0h1m0 0h1m0 0h1m2 0h1m0 0h1m1 0h1m2 0h1m0 0h1m2 0h1m0 0h1m2 0h1m1 0h1m1 0h1m4 0h1m2 0h1m2 0h1m0 0h1m5 0h1m0 0h1m1 0h1m3 0h1m0 0h1m0 0h1m3 0h1m2 0h1m3 0h1m0 0h1m0 0h1m0 0h1m0 0h1m1 0h1m0 0h1m1 0h1m0 0h1m0 0h1m1 0h1m1 0h1m3 0h1m5 0h1m3 0h1m0 0h1m3 0h1m0 0h1m0 0h1m1 0h1m3 0h1m4 0h1m4 0h1m1 0h1m0 0h1m0 0h1m1 0h1m0 0h1m0 0h1m0 0h1m9 0h1m0 0h1m0 0h1m0 0h1m0 0h1m0 0h1m2 0h1m6 0h1m1 0h1m1 0h1m0 0h1m0 0h1m1 0h1m0 0h1m1 0h1m5 0h1m0 0h1m0 0h1m0 0h1m0 0h1m2 0h1m0 0h1m2 0h1m0 0h1m0 0h1m0 0h1m1 0h1m2 0h1m0 0h1m5 0h1m11 0h1m4 0h1m0 0h1m3 0h1m2 0h1m2 0h1m0 0h1m0 0h1m5 0h1m0 0h1m4 0h1m0 0h1m2 0h1m0 0h1m0 0h1m4 0h1m0 0h1m0 0h1m2 0h1m0 0h1m0 0h1m1 0h1m2 0h1m0 0h1m6 0h1m0 0h1m2 0h1m0 0h1m2 0h1m2 0h1m1 0h1m3 0h1m1 0h1m0 0h1m10 0h1m0 0h1m1 0h1m0 0h1m0 0h1m0 0h1m8 0h1m0 0h1m0 0h1m0 0h1m1 0h1m0 0h1m4 0h1m3 0h1m2 0h1m0 0h1m5 0h1m0 0h1m8 0h1m4 0h1m1 0h1m1 0h1m0 0h1m0 0h1m2 0h1m1 0h1m9 0h1m0 0h1m11 0h1m0 0h1m3 0h1m84 0h1M206 425.5h1m0 0h1m1 0h1m1 0h1m1 0h1m0 0h1m5 0h1m1 0h1m1 0h1m0 0h1m0 0h1m0 0h1m0 0h1m1 0h1m3 0h1m3 0h1m2 0h1m0 0h1m6 0h1m1 0h1m1 0h1m2 0h1m2 0h1m0 0h1m2 0h1m0 0h1m1 0h1m0 0h1m3 0h1m1 0h1m0 0h1m0 0h1m1 0h1m0 0h1m1 0h1m0 0h1m0 0h1m0 0h1m0 0h1m2 0h1m1 0h1m1 0h1m1 0h1m1 0h1m1 0h1m1 0h1m6 0h1m0 0h1m2 0h1m1 0h1m1 0h1m2 0h1m1 0h1m0 0h1m1 0h1m0 0h1m1 0h1m1 0h1m4 0h1m5 0h1m2 0h1m1 0h1m1 0h1m0 0h1m6 0h1m0 0h1m0 0h1m1 0h1m1 0h1m0 0h1m3 0h1m1 0h1m1 0h1m1 0h1m2 0h1m0 0h1m2 0h1m2 0h1m2 0h1m2 0h1m2 0h1m0 0h1m2 0h1m0 0h1m3 0h1m1 0h1m0 0h1m0 0h1m3 0h1m2 0h1m1 0h1m1 0h1m3 0h1m6 0h1m3 0h1m2 0h1m0 0h1m3 0h1m2 0h1m0 0h1m0 0h1m4 0h1m2 0h1m0 0h1m0 0h1m0 0h1m0 0h1m1 0h1m2 0h1m0 0h1m1 0h1m1 0h1m0 0h1m1 0h1m3 0h1m1 0h1m0 0h1m0 0h1m1 0h1m0 0h1m0 0h1m1 0h1m4 0h1m2 0h1m1 0h1m1 0h1m3 0h1m0 0h1m10 0h1m0 0h1m4 0h1m0 0h1m1 0h1m1 0h1m4 0h1m8 0h1m0 0h1m2 0h1m0 0h1m3 0h1m0 0h1m0 0h1m1 0h1m2 0h1m1 0h1m1 0h1m1 0h1m0 0h1m0 0h1m12 0h1m4 0h1m0 0h1m2 0h1m3 0h1m7 0h1m3 0h1m0 0h1m0 0h1m1 0h1m1 0h1m0 0h1m1 0h1m1 0h1m1 0h1m1 0h1m1 0h1m1 0h1m4 0h1m1 0h1m0 0h1m2 0h1m0 0h1m1 0h1m0 0h1m0 0h1m0 0h1m1 0h1m1 0h1m4 0h1m3 0h1m0 0h1m0 0h1m1 0h1m0 0h1m1 0h1m2 0h1m0 0h1m3 0h1m2 0h1m2 0h1m3 0h1m0 0h1m1 0h1m0 0h1m0 0h1m1 0h1m5 0h1m0 0h1m1 0h1m1 0h1m1 0h1m1 0h1m3 0h1m0 0h1m0 0h1m4 0h1m1 0h1m0 0h1m1 0h1m1 0h1m2 0h1m2 0h1m0 0h1m9 0h1m0 0h1m0 0h1m0 0h1m0 0h1m0 0h1m2 0h1m2 0h1m1 0h1m0 0h1m0 0h1m0 0h1m0 0h1m0 0h1m3 0h1m0 0h1m1 0h1m0 0h1m2 0h1m0 0h1m0 0h1m2 0h1m0 0h1m1 0h1m2 0h1m0 0h1m2 0h1m3 0h1m3 0h1m7 0h1m0 0h1m0 0h1m0 0h1m0 0h1m5 0h1m10 0h1m2 0h1m4 0h1m4 0h1m6 0h1m1 0h1m14 0h1M201 426.5h1m1 0h1m0 0h1m1 0h1m6 0h1m0 0h1m2 0h1m0 0h1m3 0h1m4 0h1m1 0h1m1 0h1m2 0h1m1 0h1m0 0h1m0 0h1m0 0h1m1 0h1m0 0h1m6 0h1m0 0h1m0 0h1m2 0h1m0 0h1m2 0h1m2 0h1m0 0h1m2 0h1m0 0h1m0 0h1m0 0h1m0 0h1m1 0h1m1 0h1m0 0h1m1 0h1m0 0h1m0 0h1m0 0h1m1 0h1m3 0h1m2 0h1m0 0h1m0 0h1m0 0h1m0 0h1m0 0h1m0 0h1m1 0h1m6 0h1m0 0h1m1 0h1m0 0h1m0 0h1m0 0h1m4 0h1m0 0h1m1 0h1m8 0h1m0 0h1m0 0h1m4 0h1m1 0h1m0 0h1m0 0h1m2 0h1m4 0h1m0 0h1m4 0h1m13 0h1m3 0h1m1 0h1m2 0h1m0 0h1m0 0h1m2 0h1m0 0h1m3 0h1m0 0h1m0 0h1m1 0h1m2 0h1m0 0h1m3 0h1m0 0h1m0 0h1m0 0h1m0 0h1m3 0h1m0 0h1m0 0h1m0 0h1m2 0h1m0 0h1m3 0h1m0 0h1m1 0h1m3 0h1m0 0h1m1 0h1m3 0h1m3 0h1m6 0h1m1 0h1m0 0h1m0 0h1m1 0h1m0 0h1m3 0h1m1 0h1m0 0h1m0 0h1m0 0h1m0 0h1m4 0h1m0 0h1m0 0h1m4 0h1m2 0h1m0 0h1m0 0h1m0 0h1m3 0h1m2 0h1m0 0h1m2 0h1m0 0h1m1 0h1m1 0h1m0 0h1m3 0h1m0 0h1m0 0h1m1 0h1m0 0h1m4 0h1m2 0h1m1 0h1m0 0h1m2 0h1m0 0h1m1 0h1m2 0h1m1 0h1m0 0h1m7 0h1m0 0h1m3 0h1m1 0h1m0 0h1m0 0h1m0 0h1m6 0h1m0 0h1m0 0h1m0 0h1m5 0h1m0 0h1m5 0h1m4 0h1m1 0h1m1 0h1m1 0h1m2 0h1m0 0h1m2 0h1m0 0h1m0 0h1m0 0h1m0 0h1m1 0h1m2 0h1m6 0h1m4 0h1m1 0h1m2 0h1m1 0h1m0 0h1m1 0h1m1 0h1m3 0h1m1 0h1m4 0h1m1 0h1m0 0h1m3 0h1m7 0h1m1 0h1m1 0h1m1 0h1m2 0h1m1 0h1m2 0h1m1 0h1m1 0h1m2 0h1m3 0h1m0 0h1m0 0h1m0 0h1m0 0h1m1 0h1m1 0h1m0 0h1m2 0h1m0 0h1m0 0h1m0 0h1m0 0h1m1 0h1m0 0h1m1 0h1m0 0h1m2 0h1m0 0h1m1 0h1m3 0h1m2 0h1m1 0h1m4 0h1m0 0h1m1 0h1m3 0h1m0 0h1m3 0h1m2 0h1m0 0h1m0 0h1m1 0h1m0 0h1m3 0h1m0 0h1m1 0h1m0 0h1m2 0h1m2 0h1m0 0h1m3 0h1m0 0h1m1 0h1m1 0h1m2 0h1m6 0h1m2 0h1m0 0h1m3 0h1m0 0h1m1 0h1m3 0h1m2 0h1m9 0h1m0 0h1m1 0h1m1 0h1m1 0h1m0 0h1m1 0h1m2 0h1m0 0h1m0 0h1m9 0h1m1 0h1m4 0h1m1 0h1m8 0h1m4 0h1m12 0h1m2 0h1m7 0h1m2 0h1m12 0h1m3 0h1m26 0h1M201 427.5h1m1 0h1m0 0h1m2 0h1m2 0h1m0 0h1m3 0h1m2 0h1m8 0h1m4 0h1m0 0h1m3 0h1m0 0h1m2 0h1m5 0h1m0 0h1m5 0h1m1 0h1m6 0h1m0 0h1m1 0h1m0 0h1m2 0h1m0 0h1m0 0h1m0 0h1m0 0h1m2 0h1m0 0h1m2 0h1m5 0h1m1 0h1m1 0h1m1 0h1m4 0h1m0 0h1m0 0h1m0 0h1m0 0h1m0 0h1m1 0h1m2 0h1m1 0h1m1 0h1m1 0h1m0 0h1m0 0h1m0 0h1m0 0h1m0 0h1m1 0h1m0 0h1m1 0h1m0 0h1m1 0h1m0 0h1m0 0h1m2 0h1m2 0h1m0 0h1m0 0h1m0 0h1m1 0h1m0 0h1m1 0h1m3 0h1m0 0h1m2 0h1m1 0h1m0 0h1m1 0h1m2 0h1m0 0h1m2 0h1m1 0h1m0 0h1m0 0h1m0 0h1m1 0h1m5 0h1m8 0h1m0 0h1m0 0h1m5 0h1m0 0h1m1 0h1m11 0h1m2 0h1m0 0h1m2 0h1m2 0h1m2 0h1m0 0h1m0 0h1m5 0h1m3 0h1m1 0h1m1 0h1m2 0h1m2 0h1m0 0h1m0 0h1m3 0h1m1 0h1m2 0h1m0 0h1m0 0h1m1 0h1m1 0h1m1 0h1m4 0h1m2 0h1m2 0h1m4 0h1m1 0h1m1 0h1m0 0h1m0 0h1m1 0h1m1 0h1m1 0h1m4 0h1m3 0h1m3 0h1m6 0h1m2 0h1m0 0h1m0 0h1m0 0h1m3 0h1m1 0h1m0 0h1m1 0h1m3 0h1m1 0h1m2 0h1m3 0h1m0 0h1m5 0h1m1 0h1m0 0h1m1 0h1m2 0h1m6 0h1m1 0h1m1 0h1m2 0h1m1 0h1m0 0h1m2 0h1m1 0h1m0 0h1m11 0h1m5 0h1m1 0h1m4 0h1m3 0h1m2 0h1m0 0h1m0 0h1m0 0h1m5 0h1m0 0h1m4 0h1m2 0h1m0 0h1m6 0h1m0 0h1m1 0h1m2 0h1m0 0h1m0 0h1m2 0h1m0 0h1m1 0h1m4 0h1m2 0h1m1 0h1m4 0h1m2 0h1m1 0h1m3 0h1m0 0h1m2 0h1m1 0h1m0 0h1m1 0h1m0 0h1m2 0h1m1 0h1m0 0h1m0 0h1m0 0h1m2 0h1m0 0h1m0 0h1m1 0h1m0 0h1m1 0h1m1 0h1m1 0h1m0 0h1m1 0h1m4 0h1m3 0h1m1 0h1m4 0h1m0 0h1m1 0h1m0 0h1m2 0h1m0 0h1m0 0h1m1 0h1m4 0h1m2 0h1m0 0h1m4 0h1m1 0h1m0 0h1m0 0h1m4 0h1m0 0h1m6 0h1m1 0h1m0 0h1m0 0h1m0 0h1m0 0h1m1 0h1m0 0h1m0 0h1m0 0h1m8 0h1m0 0h1m1 0h1m0 0h1m6 0h1m3 0h1m6 0h1m8 0h1m1 0h1m7 0h1m6 0h1m12 0h1m25 0h1m15 0h1m1 0h1m16 0h1M202 428.5h1m3 0h1m0 0h1m0 0h1m2 0h1m0 0h1m1 0h1m6 0h1m1 0h1m8 0h1m0 0h1m0 0h1m5 0h1m0 0h1m4 0h1m0 0h1m0 0h1m2 0h1m1 0h1m1 0h1m1 0h1m0 0h1m1 0h1m5 0h1m0 0h1m2 0h1m0 0h1m1 0h1m1 0h1m0 0h1m2 0h1m4 0h1m0 0h1m0 0h1m0 0h1m0 0h1m0 0h1m3 0h1m2 0h1m0 0h1m1 0h1m0 0h1m0 0h1m6 0h1m0 0h1m0 0h1m0 0h1m0 0h1m0 0h1m0 0h1m0 0h1m1 0h1m2 0h1m2 0h1m2 0h1m3 0h1m0 0h1m2 0h1m0 0h1m1 0h1m0 0h1m2 0h1m6 0h1m0 0h1m0 0h1m2 0h1m1 0h1m0 0h1m1 0h1m0 0h1m2 0h1m0 0h1m2 0h1m3 0h1m6 0h1m0 0h1m0 0h1m2 0h1m5 0h1m5 0h1m0 0h1m2 0h1m0 0h1m3 0h1m3 0h1m1 0h1m0 0h1m0 0h1m0 0h1m1 0h1m0 0h1m3 0h1m0 0h1m0 0h1m1 0h1m0 0h1m0 0h1m1 0h1m0 0h1m0 0h1m0 0h1m1 0h1m0 0h1m1 0h1m1 0h1m0 0h1m0 0h1m2 0h1m0 0h1m3 0h1m2 0h1m1 0h1m1 0h1m0 0h1m0 0h1m0 0h1m2 0h1m1 0h1m1 0h1m9 0h1m0 0h1m0 0h1m2 0h1m0 0h1m4 0h1m4 0h1m5 0h1m3 0h1m4 0h1m0 0h1m0 0h1m1 0h1m1 0h1m0 0h1m0 0h1m3 0h1m0 0h1m4 0h1m0 0h1m0 0h1m1 0h1m2 0h1m2 0h1m3 0h1m2 0h1m1 0h1m0 0h1m1 0h1m3 0h1m0 0h1m1 0h1m0 0h1m7 0h1m0 0h1m3 0h1m2 0h1m0 0h1m0 0h1m1 0h1m4 0h1m0 0h1m1 0h1m2 0h1m2 0h1m0 0h1m1 0h1m0 0h1m0 0h1m2 0h1m2 0h1m0 0h1m1 0h1m1 0h1m0 0h1m1 0h1m0 0h1m1 0h1m0 0h1m3 0h1m0 0h1m2 0h1m0 0h1m0 0h1m0 0h1m0 0h1m2 0h1m0 0h1m3 0h1m1 0h1m1 0h1m8 0h1m1 0h1m1 0h1m0 0h1m2 0h1m1 0h1m2 0h1m3 0h1m3 0h1m0 0h1m0 0h1m0 0h1m1 0h1m1 0h1m1 0h1m2 0h1m2 0h1m2 0h1m1 0h1m1 0h1m5 0h1m1 0h1m0 0h1m2 0h1m4 0h1m8 0h1m0 0h1m4 0h1m5 0h1m0 0h1m2 0h1m0 0h1m1 0h1m1 0h1m2 0h1m0 0h1m0 0h1m1 0h1m1 0h1m0 0h1m1 0h1m2 0h1m2 0h1m1 0h1m1 0h1m0 0h1m0 0h1m2 0h1m2 0h1m0 0h1m2 0h1m1 0h1m1 0h1m5 0h1m2 0h1m1 0h1m2 0h1m1 0h1m0 0h1m5 0h1m0 0h1m1 0h1m2 0h1m5 0h1m5 0h1m1 0h1m0 0h1m1 0h1m0 0h1m3 0h1m2 0h1m11 0h1m2 0h1m1 0h1m7 0h1m19 0h1m0 0h1m9 0h1m26 0h1M201 429.5h1m3 0h1m1 0h1m0 0h1m0 0h1m4 0h1m1 0h1m0 0h1m1 0h1m0 0h1m0 0h1m2 0h1m0 0h1m1 0h1m0 0h1m2 0h1m2 0h1m0 0h1m0 0h1m4 0h1m1 0h1m2 0h1m0 0h1m0 0h1m0 0h1m4 0h1m0 0h1m0 0h1m1 0h1m2 0h1m0 0h1m0 0h1m0 0h1m3 0h1m0 0h1m0 0h1m5 0h1m3 0h1m6 0h1m0 0h1m2 0h1m1 0h1m0 0h1m5 0h1m1 0h1m1 0h1m0 0h1m0 0h1m0 0h1m2 0h1m3 0h1m1 0h1m1 0h1m1 0h1m4 0h1m0 0h1m2 0h1m0 0h1m1 0h1m0 0h1m1 0h1m6 0h1m2 0h1m0 0h1m4 0h1m0 0h1m2 0h1m3 0h1m0 0h1m2 0h1m1 0h1m1 0h1m0 0h1m1 0h1m0 0h1m0 0h1m0 0h1m3 0h1m0 0h1m0 0h1m5 0h1m0 0h1m0 0h1m1 0h1m1 0h1m0 0h1m3 0h1m0 0h1m0 0h1m0 0h1m0 0h1m0 0h1m0 0h1m4 0h1m0 0h1m3 0h1m0 0h1m2 0h1m0 0h1m0 0h1m3 0h1m1 0h1m0 0h1m0 0h1m0 0h1m2 0h1m2 0h1m5 0h1m3 0h1m1 0h1m1 0h1m7 0h1m0 0h1m4 0h1m1 0h1m3 0h1m0 0h1m3 0h1m0 0h1m2 0h1m0 0h1m2 0h1m0 0h1m6 0h1m1 0h1m3 0h1m1 0h1m0 0h1m0 0h1m2 0h1m0 0h1m0 0h1m0 0h1m5 0h1m0 0h1m0 0h1m2 0h1m8 0h1m2 0h1m1 0h1m1 0h1m1 0h1m1 0h1m1 0h1m1 0h1m1 0h1m0 0h1m1 0h1m2 0h1m1 0h1m0 0h1m0 0h1m0 0h1m0 0h1m0 0h1m8 0h1m0 0h1m0 0h1m7 0h1m0 0h1m3 0h1m0 0h1m0 0h1m7 0h1m3 0h1m2 0h1m0 0h1m1 0h1m0 0h1m0 0h1m1 0h1m2 0h1m0 0h1m0 0h1m8 0h1m0 0h1m0 0h1m1 0h1m1 0h1m0 0h1m1 0h1m0 0h1m9 0h1m11 0h1m0 0h1m4 0h1m0 0h1m1 0h1m0 0h1m3 0h1m2 0h1m3 0h1m0 0h1m4 0h1m1 0h1m0 0h1m0 0h1m1 0h1m1 0h1m0 0h1m0 0h1m0 0h1m1 0h1m0 0h1m3 0h1m7 0h1m2 0h1m5 0h1m1 0h1m2 0h1m3 0h1m3 0h1m2 0h1m2 0h1m1 0h1m0 0h1m0 0h1m2 0h1m2 0h1m4 0h1m2 0h1m0 0h1m4 0h1m1 0h1m0 0h1m1 0h1m1 0h1m1 0h1m1 0h1m3 0h1m1 0h1m0 0h1m2 0h1m1 0h1m3 0h1m2 0h1m0 0h1m1 0h1m0 0h1m2 0h1m9 0h1m1 0h1m1 0h1m2 0h1m1 0h1m7 0h1m1 0h1m3 0h1m0 0h1m2 0h1m6 0h1m0 0h1m3 0h1m0 0h1m0 0h1m3 0h1m12 0h1m7 0h1m4 0h1m1 0h1m11 0h1M202 430.5h1m3 0h1m2 0h1m4 0h1m0 0h1m1 0h1m1 0h1m1 0h1m1 0h1m4 0h1m1 0h1m0 0h1m0 0h1m0 0h1m1 0h1m4 0h1m2 0h1m1 0h1m3 0h1m2 0h1m0 0h1m0 0h1m2 0h1m0 0h1m0 0h1m0 0h1m1 0h1m0 0h1m0 0h1m2 0h1m2 0h1m8 0h1m0 0h1m4 0h1m0 0h1m1 0h1m0 0h1m0 0h1m0 0h1m1 0h1m7 0h1m2 0h1m0 0h1m0 0h1m1 0h1m1 0h1m0 0h1m1 0h1m6 0h1m1 0h1m0 0h1m0 0h1m3 0h1m0 0h1m0 0h1m0 0h1m4 0h1m0 0h1m1 0h1m0 0h1m2 0h1m0 0h1m1 0h1m0 0h1m3 0h1m3 0h1m0 0h1m0 0h1m2 0h1m0 0h1m0 0h1m1 0h1m0 0h1m0 0h1m1 0h1m2 0h1m2 0h1m3 0h1m7 0h1m0 0h1m0 0h1m1 0h1m0 0h1m0 0h1m1 0h1m1 0h1m0 0h1m2 0h1m3 0h1m0 0h1m1 0h1m1 0h1m0 0h1m1 0h1m0 0h1m0 0h1m1 0h1m2 0h1m0 0h1m1 0h1m0 0h1m1 0h1m3 0h1m0 0h1m3 0h1m0 0h1m1 0h1m0 0h1m0 0h1m0 0h1m1 0h1m0 0h1m0 0h1m2 0h1m1 0h1m2 0h1m0 0h1m1 0h1m0 0h1m7 0h1m2 0h1m3 0h1m2 0h1m5 0h1m0 0h1m1 0h1m1 0h1m0 0h1m0 0h1m2 0h1m2 0h1m4 0h1m1 0h1m8 0h1m0 0h1m0 0h1m2 0h1m3 0h1m0 0h1m6 0h1m1 0h1m0 0h1m1 0h1m0 0h1m1 0h1m0 0h1m0 0h1m4 0h1m2 0h1m2 0h1m0 0h1m2 0h1m0 0h1m0 0h1m1 0h1m2 0h1m0 0h1m4 0h1m3 0h1m0 0h1m0 0h1m2 0h1m2 0h1m3 0h1m0 0h1m1 0h1m9 0h1m1 0h1m0 0h1m3 0h1m0 0h1m0 0h1m4 0h1m1 0h1m0 0h1m4 0h1m1 0h1m0 0h1m5 0h1m2 0h1m7 0h1m0 0h1m0 0h1m0 0h1m9 0h1m0 0h1m0 0h1m7 0h1m4 0h1m1 0h1m2 0h1m0 0h1m1 0h1m5 0h1m0 0h1m1 0h1m1 0h1m1 0h1m0 0h1m0 0h1m0 0h1m5 0h1m1 0h1m1 0h1m0 0h1m0 0h1m2 0h1m3 0h1m0 0h1m1 0h1m4 0h1m0 0h1m3 0h1m0 0h1m0 0h1m2 0h1m3 0h1m1 0h1m1 0h1m0 0h1m0 0h1m4 0h1m1 0h1m5 0h1m1 0h1m3 0h1m0 0h1m1 0h1m1 0h1m6 0h1m0 0h1m0 0h1m0 0h1m3 0h1m0 0h1m3 0h1m3 0h1m4 0h1m1 0h1m3 0h1m2 0h1m3 0h1m1 0h1m0 0h1m0 0h1m0 0h1m2 0h1m3 0h1m7 0h1m1 0h1m1 0h1m4 0h1m3 0h1m3 0h1m2 0h1m1 0h1m0 0h1m9 0h1m3 0h1m7 0h1m7 0h1m0 0h1m13 0h1M203 431.5h1m6 0h1m0 0h1m1 0h1m3 0h1m1 0h1m0 0h1m0 0h1m3 0h1m2 0h1m0 0h1m0 0h1m1 0h1m1 0h1m1 0h1m3 0h1m1 0h1m0 0h1m6 0h1m0 0h1m1 0h1m1 0h1m1 0h1m0 0h1m0 0h1m0 0h1m0 0h1m3 0h1m2 0h1m1 0h1m2 0h1m5 0h1m2 0h1m0 0h1m2 0h1m1 0h1m2 0h1m4 0h1m0 0h1m0 0h1m2 0h1m6 0h1m0 0h1m0 0h1m2 0h1m1 0h1m0 0h1m0 0h1m0 0h1m1 0h1m0 0h1m1 0h1m2 0h1m3 0h1m3 0h1m0 0h1m1 0h1m0 0h1m1 0h1m1 0h1m1 0h1m0 0h1m1 0h1m2 0h1m1 0h1m10 0h1m0 0h1m2 0h1m3 0h1m0 0h1m0 0h1m2 0h1m0 0h1m1 0h1m0 0h1m1 0h1m1 0h1m4 0h1m2 0h1m6 0h1m4 0h1m1 0h1m4 0h1m0 0h1m1 0h1m11 0h1m0 0h1m0 0h1m0 0h1m3 0h1m0 0h1m2 0h1m7 0h1m0 0h1m2 0h1m0 0h1m6 0h1m0 0h1m3 0h1m1 0h1m0 0h1m0 0h1m1 0h1m3 0h1m1 0h1m0 0h1m3 0h1m0 0h1m0 0h1m3 0h1m0 0h1m2 0h1m0 0h1m0 0h1m1 0h1m0 0h1m0 0h1m1 0h1m0 0h1m0 0h1m4 0h1m0 0h1m2 0h1m1 0h1m2 0h1m2 0h1m5 0h1m1 0h1m1 0h1m1 0h1m5 0h1m0 0h1m2 0h1m0 0h1m1 0h1m0 0h1m3 0h1m0 0h1m0 0h1m3 0h1m1 0h1m1 0h1m1 0h1m2 0h1m0 0h1m0 0h1m3 0h1m0 0h1m0 0h1m0 0h1m0 0h1m0 0h1m0 0h1m3 0h1m0 0h1m3 0h1m1 0h1m9 0h1m1 0h1m0 0h1m1 0h1m1 0h1m0 0h1m2 0h1m3 0h1m1 0h1m0 0h1m3 0h1m1 0h1m0 0h1m5 0h1m0 0h1m3 0h1m5 0h1m1 0h1m1 0h1m1 0h1m5 0h1m0 0h1m1 0h1m4 0h1m0 0h1m1 0h1m1 0h1m0 0h1m2 0h1m2 0h1m1 0h1m12 0h1m0 0h1m4 0h1m4 0h1m0 0h1m2 0h1m1 0h1m0 0h1m1 0h1m2 0h1m2 0h1m0 0h1m3 0h1m1 0h1m1 0h1m3 0h1m1 0h1m1 0h1m1 0h1m2 0h1m4 0h1m4 0h1m1 0h1m3 0h1m0 0h1m0 0h1m1 0h1m0 0h1m0 0h1m2 0h1m6 0h1m1 0h1m0 0h1m0 0h1m1 0h1m0 0h1m2 0h1m0 0h1m0 0h1m2 0h1m5 0h1m2 0h1m0 0h1m2 0h1m3 0h1m1 0h1m1 0h1m2 0h1m0 0h1m6 0h1m1 0h1m6 0h1m15 0h1m6 0h1m1 0h1m16 0h1m6 0h1m15 0h1m5 0h1m17 0h1M202 432.5h1m2 0h1m0 0h1m0 0h1m0 0h1m0 0h1m0 0h1m0 0h1m3 0h1m3 0h1m4 0h1m1 0h1m2 0h1m0 0h1m4 0h1m1 0h1m0 0h1m0 0h1m0 0h1m0 0h1m0 0h1m0 0h1m7 0h1m0 0h1m0 0h1m1 0h1m1 0h1m1 0h1m0 0h1m0 0h1m0 0h1m0 0h1m2 0h1m1 0h1m4 0h1m0 0h1m2 0h1m0 0h1m0 0h1m2 0h1m2 0h1m1 0h1m2 0h1m4 0h1m1 0h1m4 0h1m1 0h1m0 0h1m1 0h1m0 0h1m0 0h1m2 0h1m1 0h1m1 0h1m0 0h1m1 0h1m7 0h1m0 0h1m3 0h1m2 0h1m1 0h1m2 0h1m0 0h1m2 0h1m0 0h1m0 0h1m4 0h1m2 0h1m0 0h1m4 0h1m0 0h1m3 0h1m0 0h1m1 0h1m2 0h1m4 0h1m0 0h1m2 0h1m0 0h1m1 0h1m3 0h1m0 0h1m2 0h1m2 0h1m0 0h1m0 0h1m0 0h1m1 0h1m1 0h1m1 0h1m0 0h1m0 0h1m2 0h1m4 0h1m4 0h1m4 0h1m0 0h1m2 0h1m5 0h1m0 0h1m0 0h1m2 0h1m4 0h1m2 0h1m3 0h1m0 0h1m0 0h1m2 0h1m1 0h1m4 0h1m0 0h1m3 0h1m3 0h1m1 0h1m4 0h1m0 0h1m1 0h1m0 0h1m1 0h1m2 0h1m0 0h1m0 0h1m0 0h1m0 0h1m0 0h1m8 0h1m12 0h1m2 0h1m4 0h1m4 0h1m2 0h1m0 0h1m1 0h1m2 0h1m1 0h1m4 0h1m3 0h1m0 0h1m6 0h1m0 0h1m2 0h1m0 0h1m0 0h1m1 0h1m1 0h1m0 0h1m0 0h1m0 0h1m1 0h1m2 0h1m0 0h1m4 0h1m0 0h1m2 0h1m2 0h1m1 0h1m0 0h1m2 0h1m3 0h1m1 0h1m2 0h1m2 0h1m0 0h1m1 0h1m1 0h1m1 0h1m1 0h1m1 0h1m0 0h1m0 0h1m4 0h1m1 0h1m0 0h1m0 0h1m0 0h1m4 0h1m2 0h1m7 0h1m1 0h1m2 0h1m0 0h1m6 0h1m2 0h1m3 0h1m2 0h1m0 0h1m2 0h1m0 0h1m2 0h1m0 0h1m0 0h1m0 0h1m0 0h1m0 0h1m3 0h1m1 0h1m2 0h1m1 0h1m1 0h1m0 0h1m0 0h1m12 0h1m0 0h1m1 0h1m1 0h1m1 0h1m1 0h1m5 0h1m1 0h1m0 0h1m0 0h1m0 0h1m4 0h1m1 0h1m1 0h1m0 0h1m0 0h1m1 0h1m0 0h1m3 0h1m1 0h1m0 0h1m0 0h1m0 0h1m3 0h1m0 0h1m0 0h1m1 0h1m4 0h1m2 0h1m2 0h1m0 0h1m2 0h1m1 0h1m5 0h1m0 0h1m0 0h1m5 0h1m2 0h1m0 0h1m2 0h1m4 0h1m0 0h1m0 0h1m3 0h1m2 0h1m1 0h1m1 0h1m0 0h1m13 0h1m16 0h1m28 0h1m14 0h1m0 0h1M201 433.5h1m6 0h1m4 0h1m0 0h1m0 0h1m0 0h1m0 0h1m2 0h1m1 0h1m1 0h1m0 0h1m0 0h1m2 0h1m1 0h1m2 0h1m1 0h1m5 0h1m0 0h1m0 0h1m0 0h1m0 0h1m0 0h1m0 0h1m1 0h1m2 0h1m1 0h1m0 0h1m1 0h1m0 0h1m0 0h1m0 0h1m0 0h1m0 0h1m1 0h1m1 0h1m7 0h1m0 0h1m5 0h1m3 0h1m0 0h1m0 0h1m0 0h1m1 0h1m1 0h1m0 0h1m0 0h1m1 0h1m3 0h1m3 0h1m0 0h1m0 0h1m1 0h1m0 0h1m1 0h1m1 0h1m1 0h1m1 0h1m2 0h1m0 0h1m3 0h1m0 0h1m0 0h1m7 0h1m0 0h1m3 0h1m0 0h1m0 0h1m2 0h1m0 0h1m3 0h1m3 0h1m3 0h1m0 0h1m0 0h1m1 0h1m1 0h1m2 0h1m0 0h1m0 0h1m4 0h1m1 0h1m0 0h1m2 0h1m2 0h1m0 0h1m1 0h1m1 0h1m4 0h1m1 0h1m0 0h1m0 0h1m2 0h1m1 0h1m1 0h1m1 0h1m0 0h1m8 0h1m5 0h1m2 0h1m0 0h1m0 0h1m1 0h1m0 0h1m1 0h1m3 0h1m0 0h1m1 0h1m0 0h1m1 0h1m3 0h1m8 0h1m0 0h1m3 0h1m1 0h1m0 0h1m0 0h1m4 0h1m1 0h1m3 0h1m0 0h1m1 0h1m2 0h1m3 0h1m0 0h1m2 0h1m1 0h1m2 0h1m2 0h1m0 0h1m0 0h1m0 0h1m0 0h1m0 0h1m0 0h1m1 0h1m1 0h1m0 0h1m2 0h1m0 0h1m1 0h1m2 0h1m1 0h1m4 0h1m0 0h1m1 0h1m1 0h1m0 0h1m1 0h1m0 0h1m0 0h1m1 0h1m0 0h1m3 0h1m2 0h1m0 0h1m0 0h1m3 0h1m1 0h1m0 0h1m1 0h1m0 0h1m2 0h1m1 0h1m0 0h1m0 0h1m0 0h1m0 0h1m0 0h1m3 0h1m2 0h1m0 0h1m0 0h1m2 0h1m0 0h1m0 0h1m4 0h1m0 0h1m3 0h1m2 0h1m1 0h1m7 0h1m3 0h1m1 0h1m0 0h1m1 0h1m0 0h1m3 0h1m0 0h1m0 0h1m1 0h1m0 0h1m1 0h1m1 0h1m2 0h1m3 0h1m0 0h1m2 0h1m0 0h1m8 0h1m6 0h1m0 0h1m0 0h1m2 0h1m0 0h1m0 0h1m2 0h1m3 0h1m1 0h1m0 0h1m1 0h1m0 0h1m1 0h1m0 0h1m1 0h1m1 0h1m0 0h1m0 0h1m6 0h1m0 0h1m2 0h1m3 0h1m0 0h1m1 0h1m0 0h1m5 0h1m1 0h1m1 0h1m3 0h1m0 0h1m1 0h1m5 0h1m3 0h1m6 0h1m1 0h1m3 0h1m0 0h1m3 0h1m0 0h1m1 0h1m2 0h1m0 0h1m0 0h1m0 0h1m0 0h1m2 0h1m4 0h1m0 0h1m3 0h1m0 0h1m2 0h1m0 0h1m0 0h1m2 0h1m0 0h1m0 0h1m0 0h1m2 0h1m0 0h1m1 0h1m2 0h1m1 0h1m1 0h1m0 0h1m1 0h1m2 0h1m0 0h1m1 0h1m1 0h1m2 0h1m10 0h1m5 0h1m16 0h1m2 0h1m0 0h1m9 0h1m3 0h1m5 0h1m17 0h1m21 0h1M217 434.5h1m21 0h1m0 0h1m0 0h1m13 0h1m19 0h1m3 0h1m4 0h1m22 0h1m5 0h1m13 0h1m7 0h1m4 0h1m19 0h1m13 0h1m4 0h1m2 0h1m0 0h1m3 0h1m2 0h1m4 0h1m1 0h1m25 0h1m15 0h1m9 0h1m14 0h1m10 0h1m22 0h1m24 0h1m2 0h1m3 0h1m8 0h1m7 0h1m4 0h1m3 0h1m15 0h1m9 0h1m3 0h1m9 0h1m0 0h1m5 0h1m10 0h1m30 0h1m14 0h1m29 0h1m22 0h1m5 0h1m16 0h1m21 0h1m1 0h1m30 0h1m4 0h1m8 0h1M210 435.5h1m2 0h1m2 0h1m4 0h1m10 0h1m5 0h1m19 0h1m24 0h1m4 0h1m24 0h1m5 0h1m16 0h1m6 0h1m4 0h1m0 0h1m33 0h1m6 0h1m12 0h1m10 0h1m8 0h1m9 0h1m1 0h1m2 0h1m0 0h1m16 0h1m4 0h1m2 0h1m15 0h1m0 0h1m2 0h1m12 0h1m12 0h1m2 0h1m1 0h1m7 0h1m9 0h1m4 0h1m27 0h1m12 0h1m3 0h1m4 0h1m10 0h1m10 0h1m5 0h1m2 0h1m2 0h1m16 0h1m1 0h1m0 0h1m18 0h1m19 0h1m2 0h1m2 0h1m4 0h1m14 0h1m2 0h1m15 0h1m3 0h1m1 0h1m5 0h1m2 0h1m5 0h1m20 0h1m4 0h1m1 0h1m5 0h1m14 0h1m2 0h1m2 0h1m2 0h1m2 0h1m4 0h1m12 0h1" stroke="#fff" stroke-width="1" fill="none"/><path d="M211 448.5h1m14 0h1m9 0h1m1 0h1m3 0h1m2 0h1m5 0h1m1 0h1m4 0h1m3 0h1m0 0h1m3 0h1m1 0h1m8 0h1m2 0h1m10 0h1m3 0h1m5 0h1m0 0h1m2 0h1m13 0h1m2 0h1m3 0h1m2 0h1m13 0h1m12 0h1m7 0h1m2 0h1m5 0h1m3 0h1m8 0h1m3 0h1m9 0h1m12 0h1m0 0h1m1 0h1m2 0h1m15 0h1m3 0h1m2 0h1m8 0h1m1 0h1m1 0h1m2 0h1m14 0h1m22 0h1m1 0h1m1 0h1m7 0h1m4 0h1m0 0h1m1 0h1m0 0h1m7 0h1m1 0h1m0 0h1m9 0h1m1 0h1m24 0h1m5 0h1m0 0h1m3 0h1m5 0h1m6 0h1m0 0h1m1 0h1m8 0h1m13 0h1m0 0h1m14 0h1m3 0h1m11 0h1m1 0h1m10 0h1m5 0h1m8 0h1m2 0h1m5 0h1m8 0h1m5 0h1m9 0h1m42 0h1m1 0h1m19 0h1m6 0h1m2 0h1m19 0h1m0 0h1m10 0h1m10 0h1m6 0h1m11 0h1m1 0h1m14 0h1m10 0h1m20 0h1m6 0h1m7 0h1M219 449.5h1m4 0h1m6 0h1m16 0h1m10 0h1m3 0h1m10 0h1m4 0h1m5 0h1m1 0h1m0 0h1m1 0h1m2 0h1m7 0h1m2 0h1m6 0h1m8 0h1m5 0h1m8 0h1m2 0h1m5 0h1m0 0h1m2 0h1m1 0h1m0 0h1m10 0h1m6 0h1m19 0h1m3 0h1m12 0h1m4 0h1m2 0h1m13 0h1m4 0h1m7 0h1m2 0h1m4 0h1m8 0h1m8 0h1m13 0h1m7 0h1m0 0h1m6 0h1m2 0h1m0 0h1m1 0h1m2 0h1m2 0h1m0 0h1m2 0h1m4 0h1m0 0h1m16 0h1m5 0h1m2 0h1m11 0h1m6 0h1m14 0h1m12 0h1m20 0h1m4 0h1m4 0h1m16 0h1m6 0h1m2 0h1m4 0h1m8 0h1m5 0h1m4 0h1m12 0h1m2 0h1m2 0h1m5 0h1m5 0h1m4 0h1m1 0h1m25 0h1m12 0h1m9 0h1m20 0h1m4 0h1m18 0h1m6 0h1m0 0h1m11 0h1m1 0h1m2 0h1m24 0h1m14 0h1m20 0h1M212 450.5h1m16 0h1m1 0h1m7 0h1m3 0h1m20 0h1m31 0h1m13 0h1m3 0h1m19 0h1m1 0h1m1 0h1m21 0h1m7 0h1m4 0h1m6 0h1m10 0h1m2 0h1m13 0h1m21 0h1m9 0h1m5 0h1m6 0h1m4 0h1m4 0h1m23 0h1m54 0h1m1 0h1m16 0h1m1 0h1m17 0h1m5 0h1m0 0h1m0 0h1m0 0h1m4 0h1m5 0h1m5 0h1m13 0h1m17 0h1m0 0h1m1 0h1m6 0h1m15 0h1m3 0h1m1 0h1m28 0h1m0 0h1m8 0h1m16 0h1m8 0h1m1 0h1m3 0h1m0 0h1m0 0h1m1 0h1m7 0h1m1 0h1m11 0h1m7 0h1m5 0h1m16 0h1m5 0h1m0 0h1m6 0h1m4 0h1m20 0h1m0 0h1m55 0h1M201 451.5h1m0 0h1m20 0h1m2 0h1m4 0h1m2 0h1m6 0h1m4 0h1m12 0h1m0 0h1m6 0h1m3 0h1m10 0h1m10 0h1m21 0h1m3 0h1m13 0h1m0 0h1m2 0h1m0 0h1m3 0h1m10 0h1m13 0h1m3 0h1m20 0h1m3 0h1m22 0h1m0 0h1m12 0h1m3 0h1m9 0h1m3 0h1m2 0h1m1 0h1m1 0h1m12 0h1m3 0h1m2 0h1m6 0h1m2 0h1m22 0h1m2 0h1m0 0h1m12 0h1m4 0h1m1 0h1m9 0h1m16 0h1m5 0h1m1 0h1m3 0h1m1 0h1m15 0h1m9 0h1m4 0h1m5 0h1m0 0h1m0 0h1m5 0h1m3 0h1m27 0h1m9 0h1m4 0h1m9 0h1m4 0h1m4 0h1m9 0h1m4 0h1m4 0h1m4 0h1m0 0h1m5 0h1m2 0h1m2 0h1m1 0h1m2 0h1m14 0h1m12 0h1m10 0h1m17 0h1m2 0h1m21 0h1m1 0h1m0 0h1m32 0h1M201 452.5h1m8 0h1m4 0h1m13 0h1m15 0h1m8 0h1m17 0h1m0 0h1m0 0h1m12 0h1m0 0h1m2 0h1m1 0h1m4 0h1m26 0h1m0 0h1m15 0h1m11 0h1m0 0h1m0 0h1m1 0h1m2 0h1m3 0h1m8 0h1m1 0h1m6 0h1m11 0h1m11 0h1m0 0h1m7 0h1m1 0h1m18 0h1m11 0h1m6 0h1m0 0h1m13 0h1m15 0h1m22 0h1m10 0h1m8 0h1m6 0h1m1 0h1m4 0h1m11 0h1m7 0h1m3 0h1m3 0h1m3 0h1m24 0h1m12 0h1m1 0h1m5 0h1m6 0h1m7 0h1m1 0h1m2 0h1m5 0h1m4 0h1m5 0h1m3 0h1m8 0h1m8 0h1m2 0h1m0 0h1m14 0h1m10 0h1m10 0h1m6 0h1m7 0h1m7 0h1m0 0h1m3 0h1m15 0h1m6 0h1m0 0h1m1 0h1m14 0h1m0 0h1m3 0h1m3 0h1m1 0h1m2 0h1m6 0h1m0 0h1m4 0h1m2 0h1m5 0h1m2 0h1m8 0h1m14 0h1m2 0h1m17 0h1m3 0h1m11 0h1m4 0h1M204 453.5h1m2 0h1m22 0h1m2 0h1m0 0h1m7 0h1m3 0h1m14 0h1m6 0h1m0 0h1m15 0h1m8 0h1m0 0h1m1 0h1m2 0h1m15 0h1m6 0h1m2 0h1m2 0h1m4 0h1m1 0h1m0 0h1m6 0h1m0 0h1m3 0h1m4 0h1m4 0h1m1 0h1m0 0h1m4 0h1m14 0h1m34 0h1m3 0h1m13 0h1m0 0h1m28 0h1m7 0h1m18 0h1m2 0h1m2 0h1m2 0h1m5 0h1m0 0h1m4 0h1m18 0h1m2 0h1m14 0h1m1 0h1m3 0h1m2 0h1m13 0h1m4 0h1m4 0h1m2 0h1m4 0h1m0 0h1m17 0h1m2 0h1m12 0h1m2 0h1m6 0h1m6 0h1m1 0h1m5 0h1m0 0h1m4 0h1m9 0h1m10 0h1m9 0h1m14 0h1m4 0h1m0 0h1m9 0h1m4 0h1m8 0h1m13 0h1m5 0h1m4 0h1m0 0h1m2 0h1m2 0h1m13 0h1m4 0h1m6 0h1m7 0h1m9 0h1m2 0h1m0 0h1m1 0h1m17 0h1m24 0h1m5 0h1m39 0h1" stroke="#fff" stroke-width="1" fill="none"/></g><path d="M200,219.28 201,218.56 202,218.02 203,217.65 204,217.28 205,216.91 206,216.59 207,216.3 208,216 209,215.71 210,214.95 211,213.12 212,211.28 213,209.45 214,207.62 215,205.78 216,204.36 217,202.97 218,201.59 219,200.21 220,198.83 221,198.15 222,198.51 223,198.87 224,199.24 225,199.6 226,199.89 227,200.18 228,200.47 229,200.57 230,199.95 231,199.32 232,198.69 233,198.06 234,197.93 235,197.85 236,197.78 237,197.7 238,199.17 239,200.64 240,202.11 241,204.08 242,206.18 243,208.29 244,210.39 245,211.62 246,212.75 247,213.88 248,214.93 249,215.25 250,215.56 251,215.88 252,216.19 253,216.51 254,216.89 255,217.32 256,217.74 257,218.16 258,219.54 259,221.02 260,222.51 261,223.81 262,224.99 263,226.17 264,227.35 265,228.54 266,229.63 267,229.97 268,230.31 269,230.65 270,230.99 271,231.33 272,231.66 273,231.78 274,231.74 275,231.71 276,231.67 277,231.63 278,231.52 279,230.68 280,229.84 281,229 282,228.17 283,226.89 284,225.51 285,224.13 286,222.75 287,221.37 288,220.18 289,219.46 290,218.74 291,218.11 292,217.74 293,217.37 294,217 295,216.67 296,216.37 297,216.08 298,215.78 299,215.41 300,213.57 301,211.74 302,209.91 303,208.07 304,206.24 305,204.7 306,203.32 307,201.94 308,200.56 309,199.17 310,198.05 311,198.42 312,198.78 313,199.15 314,199.51 315,199.82 316,200.11 317,200.4 318,200.69 319,200.1 320,199.48 321,198.85 322,198.22 323,197.95 324,197.87 325,197.8 326,197.72 327,198.8 328,200.27 329,201.74 330,203.56 331,205.66 332,207.76 333,209.86 334,211.34 335,212.47 336,213.6 337,214.73 338,215.17 339,215.48 340,215.8 341,216.11 342,216.43 343,216.79 344,217.21 345,217.63 346,218.05 347,219.17 348,220.65 349,222.13 350,223.51 351,224.7 352,225.88 353,227.06 354,228.24 355,229.42 356,229.89 357,230.23 358,230.56 359,230.9 360,231.24 361,231.58 362,231.79 363,231.75 364,231.71 365,231.68 366,231.64 367,231.61 368,230.89 369,230.05 370,229.21 371,228.38 372,227.24 373,225.86 374,224.48 375,223.09 376,221.71 377,220.36 378,219.64 379,218.92 380,218.2 381,217.83 382,217.46 383,217.09 384,216.74 385,216.45 386,216.15 387,215.85 388,215.56 389,214.03 390,212.2 391,210.37 392,208.53 393,206.7 394,205.05 395,203.67 396,202.28 397,200.9 398,199.52 399,198.14 400,198.33 401,198.69 402,199.05 403,199.42 404,199.74 405,200.03 406,200.32 407,200.61 408,200.26 409,199.63 410,199 411,198.38 412,197.97 413,197.89 414,197.82 415,197.74 416,198.43 417,199.9 418,201.37 419,203.03 420,205.13 421,207.24 422,209.34 423,211.05 424,212.18 425,213.32 426,214.45 427,215.09 428,215.4 429,215.72 430,216.03 431,216.35 432,216.68 433,217.11 434,217.53 435,217.95 436,218.79 437,220.28 438,221.76 439,223.22 440,224.4 441,225.58 442,226.76 443,227.95 444,229.13 445,229.8 446,230.14 447,230.48 448,230.82 449,231.16 450,231.5 451,231.8 452,231.76 453,231.72 454,231.69 455,231.65 456,231.61 457,231.1 458,230.26 459,229.42 460,228.59 461,227.59 462,226.2 463,224.82 464,223.44 465,222.06 466,220.68 467,219.82 468,219.1 469,218.38 470,217.92 471,217.56 472,217.19 473,216.82 474,216.52 475,216.22 476,215.93 477,215.63 478,214.49 479,212.66 480,210.82 481,208.99 482,207.16 483,205.39 484,204.01 485,202.63 486,201.25 487,199.87 488,198.48 489,198.24 490,198.6 491,198.96 492,199.33 493,199.67 494,199.96 495,200.25 496,200.54 497,200.42 498,199.79 499,199.16 500,198.53 501,197.99 502,197.91 503,197.83 504,197.76 505,198.07 506,199.54 507,201 508,202.51 509,204.61 510,206.71 511,208.81 512,210.77 513,211.9 514,213.03 515,214.16 516,215.01 517,215.33 518,215.64 519,215.95 520,216.27 521,216.58 522,217 523,217.42 524,217.84 525,218.42 526,219.91 527,221.39 528,222.88 529,224.1 530,225.29 531,226.47 532,227.65 533,228.83 534,229.72 535,230.06 536,230.4 537,230.73 538,231.07 539,231.41 540,231.75 541,231.77 542,231.73 543,231.7 544,231.66 545,231.62 546,231.31 547,230.47 548,229.63 549,228.8 550,227.93 551,226.55 552,225.17 553,223.79 554,222.4 555,221.02 556,220 557,219.28 558,218.56 559,218.02 560,217.65 561,217.28 562,216.91 563,216.59 564,216.3 565,216 566,215.71 567,214.95 568,213.12 569,211.28 570,209.45 571,207.62 572,205.78 573,204.36 574,202.97 575,201.59 576,200.21 577,198.83 578,198.15 579,198.51 580,198.87 581,199.24 582,199.6 583,199.89 584,200.18 585,200.47 586,200.57 587,199.95 588,199.32 589,198.69 590,198.06 591,197.93 592,197.85 593,197.78 594,197.7 595,199.17 596,200.64 597,202.11 598,204.08 599,206.18 600,208.29 601,210.39 602,211.62 603,212.75 604,213.88 605,214.93 606,215.25 607,215.56 608,215.88 609,216.19 610,216.51 611,216.89 612,217.32 613,217.74 614,218.16 615,219.54 616,221.02 617,222.51 618,223.81 619,224.99 620,226.17 621,227.35 622,228.54 623,229.63 624,229.97 625,230.31 626,230.65 627,230.99 628,231.33 629,231.66 630,231.78 631,231.74 632,231.71 633,231.67 634,231.63 635,231.52 636,230.68 637,229.84 638,229 639,228.17 640,226.89 641,225.51 642,224.13 643,222.75 644,221.37 645,220.18 646,219.46 647,218.74 648,218.11 649,217.74 650,217.37 651,217 652,216.67 653,216.37 654,216.08 655,215.78 656,215.41 657,213.57 658,211.74 659,209.91 660,208.07 661,206.24 662,204.7 663,203.32 664,201.94 665,200.56 666,199.17 667,198.05 668,198.42 669,198.78 670,199.15 671,199.51 672,199.82 673,200.11 674,200.4 675,200.69 676,200.1 677,199.48 678,198.85 679,198.22 680,197.95 681,197.87 682,197.8 683,197.72 684,198.8 685,200.27 686,201.74 687,203.56 688,205.66 689,207.76 690,209.86 691,211.34 692,212.47 693,213.6 694,214.73 695,215.17 696,215.48 697,215.8 698,216.11 699,216.43 700,216.79 701,217.21 702,217.63 703,218.05 704,219.17 705,220.65 706,222.13 707,223.51 708,224.7 709,225.88 710,227.06 711,228.24 712,229.42 713,229.89 714,230.23 715,230.56 716,230.9 717,231.24 718,231.58 719,231.79 720,231.75 721,231.71 722,231.68 723,231.64 724,231.61 725,230.89 726,230.05 727,229.21 728,228.38 729,227.24 730,225.86 731,224.48 732,223.09 733,221.71 734,220.36 735,219.64 736,218.92 737,218.2 738,217.83 739,217.46 740,217.09 741,216.74 742,216.45 743,216.15 744,215.85 745,215.56 746,214.03 747,212.2 748,210.37 749,208.53 750,206.7 751,205.05 752,203.67 753,202.28 754,200.9 755,199.52 756,198.14 757,198.33 758,198.69 759,199.05 760,199.42 761,199.74 762,200.03 763,200.32 764,200.61 765,200.26 766,199.63 767,199 768,198.38 769,197.97 770,197.89 771,197.82 772,197.74 773,198.43 774,199.9 775,201.37 776,203.03 777,205.13 778,207.24 779,209.34 780,211.05 781,212.18 782,213.32 783,214.45 784,215.09 785,215.4 786,215.72 787,216.03 788,216.35 789,216.68 790,217.11 791,217.53 792,217.95 793,218.79 794,220.28 795,221.76 796,223.22 797,224.4 798,225.58 799,226.76 800,227.95 801,229.13 802,229.8 803,230.14 804,230.48 805,230.82 806,231.16 807,231.5 808,231.8 809,231.76 810,231.72 811,231.69 812,231.65 813,231.61 814,231.1 815,230.26 816,229.42 817,228.59 818,227.59 819,226.2 820,224.82 821,223.44 822,222.06 823,220.68 824,219.82 825,219.1 826,218.38 827,217.92 828,217.56 829,217.19 830,216.82 831,216.52 832,216.22 833,215.93 834,215.63 835,214.49 836,212.66 837,210.82 838,208.99 839,207.16 840,205.39 841,204.01 842,202.63 843,201.25 844,199.87 845,198.48 846,198.24 847,198.6 848,198.96 849,199.33 850,199.67 851,199.96 852,200.25 853,200.54 854,200.42 855,199.79 856,199.16 857,198.53 858,197.99 859,197.91 860,197.83 861,197.76 862,198.07 863,199.54 864,201 865,202.51 866,204.61 867,206.71 868,208.81 869,210.77 870,211.9 871,213.03 872,214.16 873,215.01 874,215.33 875,215.64 876,215.95 877,216.27 878,216.58 879,217 880,217.42 881,217.84 882,218.42 883,219.91 884,221.39 885,222.88 886,224.1 887,225.29 888,226.47 889,227.65 890,228.83 891,229.72 892,230.06 893,230.4 894,230.73 895,231.07 896,231.41 897,231.75 898,231.77 899,231.73 900,231.7 901,231.66 902,231.62 903,231.31 904,230.47 905,229.63 906,228.8 907,227.93 908,226.55 909,225.17 910,223.79 911,222.4 912,221.02 913,220 914,219.28" fill="none" stroke="#000" stroke-width="2.2" stroke-linejoin="round" stroke-dasharray="6 3.6"/><line x1="773.4" y1="110" x2="773.4" y2="180.2" stroke="#fff" stroke-width="2.6"/><line x1="776.2" y1="110" x2="776.2" y2="163.6" stroke="#fff" stroke-width="1.4"/><line x1="805.5" y1="110" x2="805.5" y2="194" stroke="#fff" stroke-width="2.3"/><g transform="translate(890.5,0) rotate(-90)"><text x="-416.38" y="0" font-size="66" fill="#000" textLength="261.57" lengthAdjust="spacingAndGlyphs" fill-opacity="0.11">Forecast</text></g><line x1="824.75" y1="111" x2="824.75" y2="454" stroke="#1f77b4" stroke-width="2" stroke-dasharray="2 3.5"/><rect x="226.2" y="111" width="4" height="9" fill="#000"/><text x="222.88" y="139" font-size="14.5" fill="#000">M</text><rect x="270.9" y="111" width="4" height="9" fill="#f00"/><text x="267.68" y="139" font-size="14.5" fill="#f00">N</text><rect x="315.45" y="111" width="4" height="9" fill="#000"/><text x="312.13" y="139" font-size="14.5" fill="#000">M</text><rect x="360.15" y="111" width="4" height="9" fill="#f00"/><text x="356.93" y="139" font-size="14.5" fill="#f00">N</text><rect x="404.7" y="111" width="4" height="9" fill="#000"/><text x="401.38" y="139" font-size="14.5" fill="#000">M</text><rect x="449.4" y="111" width="4" height="9" fill="#f00"/><text x="446.18" y="139" font-size="14.5" fill="#f00">N</text><rect x="493.95" y="111" width="4" height="9" fill="#000"/><text x="490.63" y="139" font-size="14.5" fill="#000">M</text><rect x="538.65" y="111" width="4" height="9" fill="#f00"/><text x="535.43" y="139" font-size="14.5" fill="#f00">N</text><rect x="583.2" y="111" width="4" height="9" fill="#000"/><text x="579.88" y="139" font-size="14.5" fill="#000">M</text><rect x="627.9" y="111" width="4" height="9" fill="#f00"/><text x="624.68" y="139" font-size="14.5" fill="#f00">N</text><rect x="672.45" y="111" width="4" height="9" fill="#000"/><text x="669.13" y="139" font-size="14.5" fill="#000">M</text><rect x="717.15" y="111" width="4" height="9" fill="#f00"/><text x="713.93" y="139" font-size="14.5" fill="#f00">N</text><rect x="761.7" y="111" width="4" height="9" fill="#000"/><text x="758.38" y="139" font-size="14.5" fill="#000">M</text><rect x="806.4" y="111" width="4" height="9" fill="#f00"/><text x="803.18" y="139" font-size="14.5" fill="#f00">N</text><rect x="200" y="110" width="714" height="345" fill="none" stroke="#000" stroke-width="2"/><path d="M201 397.5h4.5M913 397.5h-4.5M201 340.5h4.5M913 340.5h-4.5M201 282.5h4.5M913 282.5h-4.5M201 225.5h4.5M913 225.5h-4.5M201 167.5h4.5M913 167.5h-4.5M248.5 454v-4M337.5 454v-4M426.5 454v-4M516.5 454v-4M605.5 454v-4M694.5 454v-4M783.5 454v-4M873.5 454v-4" stroke="#000" stroke-width="1" fill="none"/><text x="184.47" y="462.8" font-size="20.6" fill="#000" textLength="10.93" lengthAdjust="spacingAndGlyphs">2</text><text x="184.28" y="405.3" font-size="20.6" fill="#000" textLength="10.93" lengthAdjust="spacingAndGlyphs">3</text><text x="183.69" y="347.8" font-size="20.6" fill="#000" textLength="11.35" lengthAdjust="spacingAndGlyphs">4</text><text x="184.39" y="290.3" font-size="20.6" fill="#000" textLength="10.81" lengthAdjust="spacingAndGlyphs">5</text><text x="183.53" y="232.8" font-size="20.6" fill="#000" textLength="11.74" lengthAdjust="spacingAndGlyphs">6</text><text x="184.26" y="175.3" font-size="20.6" fill="#000" textLength="11.17" lengthAdjust="spacingAndGlyphs">7</text><text x="183.64" y="117.8" font-size="20.6" fill="#000" textLength="11.62" lengthAdjust="spacingAndGlyphs">8</text><g transform="translate(172.8,0) rotate(-90)"><text x="-296.98" y="0" font-size="25.8" fill="#000" textLength="23.35" lengthAdjust="spacingAndGlyphs">L*</text></g><text x="204.44" y="92.8" font-size="25.8" fill="#000" textLength="350.74" lengthAdjust="spacingAndGlyphs">&gt;2.0 MeV Electron Flux at 88</text><circle cx="564.4" cy="77.9" r="2.3" fill="none" stroke="#000" stroke-width="1.3"/><text x="580.21" y="92.8" font-size="25.8" fill="#000" textLength="150.01" lengthAdjust="spacingAndGlyphs">pitch angle (</text><text x="739.9" y="92.8" font-size="25.8" fill="#000" textLength="36.63" lengthAdjust="spacingAndGlyphs">cm</text><text x="776.78" y="83.2" font-size="17.57" fill="#000" textLength="23.24" lengthAdjust="spacingAndGlyphs">−2</text><text x="806.06" y="92.8" font-size="25.8" fill="#000" textLength="12.3" lengthAdjust="spacingAndGlyphs">s</text><text x="818.41" y="83.2" font-size="17.57" fill="#000" textLength="24.77" lengthAdjust="spacingAndGlyphs">−1</text><text x="848.2" y="92.8" font-size="25.8" fill="#000" textLength="22.29" lengthAdjust="spacingAndGlyphs">sr</text><text x="870.47" y="83.2" font-size="17.57" fill="#000" textLength="23.46" lengthAdjust="spacingAndGlyphs">−1</text><text x="905.9" y="92.8" font-size="25.8" fill="#000" textLength="6.54" lengthAdjust="spacingAndGlyphs">)</text><rect x="959" y="110" width="17" height="345" fill="url(#gcb)" stroke="#000" stroke-width="2"/><path d="M977 455.5h5M977 437.5h5M977 427.5h5M977 420.5h5M977 414.5h5M977 410.5h5M977 406.5h5M977 403.5h5M977 400.5h5M977 397.5h5M977 380.5h5M977 370.5h5M977 362.5h5M977 357.5h5M977 352.5h5M977 348.5h5M977 345.5h5M977 342.5h5M977 340.5h5M977 322.5h5M977 312.5h5M977 305.5h5M977 299.5h5M977 295.5h5M977 291.5h5M977 288.5h5M977 285.5h5M977 282.5h5M977 265.5h5M977 255.5h5M977 247.5h5M977 242.5h5M977 237.5h5M977 233.5h5M977 230.5h5M977 227.5h5M977 225.5h5M977 207.5h5M977 197.5h5M977 190.5h5M977 184.5h5M977 180.5h5M977 176.5h5M977 173.5h5M977 170.5h5M977 167.5h5M977 150.5h5M977 140.5h5M977 132.5h5M977 127.5h5M977 122.5h5M977 118.5h5M977 115.5h5M977 112.5h5M977 110h5" stroke="#000" stroke-width="1" fill="none"/><text x="987.45" y="462.9" font-size="20.6" fill="#000" textLength="23.03" lengthAdjust="spacingAndGlyphs">10</text><text x="1012.42" y="455.6" font-size="14.4" fill="#000" textLength="8.11" lengthAdjust="spacingAndGlyphs">0</text><text x="987.45" y="405.4" font-size="20.6" fill="#000" textLength="23.03" lengthAdjust="spacingAndGlyphs">10</text><text x="1011.79" y="398.1" font-size="14.4" fill="#000" textLength="8.95" lengthAdjust="spacingAndGlyphs">1</text><text x="987.45" y="347.9" font-size="20.6" fill="#000" textLength="23.03" lengthAdjust="spacingAndGlyphs">10</text><text x="1012.23" y="340.6" font-size="14.4" fill="#000" textLength="8.56" lengthAdjust="spacingAndGlyphs">2</text><text x="987.45" y="290.4" font-size="20.6" fill="#000" textLength="23.03" lengthAdjust="spacingAndGlyphs">10</text><text x="1012.41" y="283.1" font-size="14.4" fill="#000" textLength="8.2" lengthAdjust="spacingAndGlyphs">3</text><text x="987.45" y="232.9" font-size="20.6" fill="#000" textLength="23.03" lengthAdjust="spacingAndGlyphs">10</text><text x="1012.72" y="225.6" font-size="14.4" fill="#000" textLength="7.71" lengthAdjust="spacingAndGlyphs">4</text><text x="987.45" y="175.4" font-size="20.6" fill="#000" textLength="23.03" lengthAdjust="spacingAndGlyphs">10</text><text x="1012.41" y="168.1" font-size="14.4" fill="#000" textLength="8.2" lengthAdjust="spacingAndGlyphs">5</text><text x="987.45" y="117.9" font-size="20.6" fill="#000" textLength="23.03" lengthAdjust="spacingAndGlyphs">10</text><text x="1012.25" y="110.6" font-size="14.4" fill="#000" textLength="8.37" lengthAdjust="spacingAndGlyphs">6</text><rect x="824.75" y="478" width="89.25" height="344" fill="#d3d3d3"/><g transform="translate(888.2,0) rotate(-90)"><text x="-790.48" y="0" font-size="66" fill="#000" textLength="266.69" lengthAdjust="spacingAndGlyphs" fill-opacity="0.1">Forecast</text></g><line x1="824.75" y1="479" x2="824.75" y2="821" stroke="#1f77b4" stroke-width="2" stroke-dasharray="2 3.5"/><g clip-path="url(#cp2)"><path d="M200,701.5 200.69,701.62 201.62,701.71 202.72,701.82 203.95,702.01 205.22,702.37 206.5,702.94 207.7,703.8 208.71,704.91 209.72,706.37 210.73,708.06 211.76,709.86 212.81,711.65 213.88,713.32 214.97,714.74 216.1,715.8 217.13,716.39 218.2,716.71 219.29,716.84 220.4,716.84 221.52,716.77 222.64,716.7 223.77,716.71 224.89,716.85 226,717.2 227.09,717.88 228.18,718.88 229.25,720.09 230.33,721.36 231.41,722.58 232.5,723.61 233.61,724.33 234.74,724.6 235.9,724.3 236.88,723.53 237.89,722.3 238.93,720.7 239.99,718.83 241.06,716.78 242.12,714.65 243.17,712.52 244.21,710.48 245.21,708.64 246.18,707.08 247.1,705.9 248.28,704.87 249.38,704.34 250.42,704.14 251.43,704.14 252.43,704.19 253.44,704.13 254.49,703.82 255.6,703.1 256.63,702.06 257.68,700.73 258.75,699.18 259.83,697.51 260.93,695.81 262.05,694.16 263.19,692.65 264.34,691.37 265.5,690.4 266.48,689.83 267.51,689.39 268.57,689.07 269.65,688.85 270.73,688.72 271.81,688.67 272.87,688.67 273.91,688.72 274.9,688.8 275.83,688.9 276.7,689 277.92,689.15 278.99,689.33 279.96,689.6 280.87,690 281.79,690.58 282.75,691.4 283.8,692.5 284.81,693.84 285.86,695.56 286.95,697.53 288.06,699.63 289.16,701.72 290.25,703.66 291.3,705.33 292.3,706.6 293.35,707.39 294.32,707.59 295.25,707.46 296.18,707.26 297.13,707.24 298.16,707.67 299.3,708.8 300.28,710.34 301.33,712.43 302.44,714.9 303.58,717.59 304.74,720.33 305.9,722.95 307.05,725.3 308.15,727.2 309.2,728.5 310.33,729.19 311.44,729.27 312.52,728.88 313.57,728.2 314.61,727.38 315.63,726.58 316.62,725.97 317.6,725.7 318.66,725.87 319.64,726.37 320.59,727.03 321.54,727.68 322.51,728.14 323.56,728.23 324.7,727.8 325.67,727 326.69,725.85 327.76,724.43 328.86,722.82 329.99,721.12 331.13,719.41 332.26,717.78 333.39,716.31 334.5,715.1 335.59,714.16 336.67,713.42 337.74,712.81 338.82,712.29 339.9,711.78 340.99,711.24 342.1,710.6 343.24,709.81 344.4,708.8 345.38,707.77 346.39,706.55 347.42,705.2 348.47,703.75 349.53,702.25 350.59,700.74 351.64,699.28 352.69,697.9 353.72,696.64 354.72,695.56 355.7,694.7 356.87,693.9 358.03,693.3 359.18,692.87 360.31,692.59 361.41,692.43 362.49,692.36 363.53,692.37 364.54,692.42 365.5,692.5 366.67,692.64 367.77,692.88 368.81,693.24 369.8,693.72 370.76,694.35 371.69,695.14 372.6,696.1 373.77,697.96 374.81,700.36 375.82,702.95 376.92,705.38 378.2,707.3 379.15,708.15 380.22,708.81 381.36,709.33 382.53,709.75 383.69,710.14 384.8,710.54 385.82,711.01 386.7,711.6 388.03,712.74 389.01,713.84 389.9,715.42 391,718 391.87,720.75 392.78,724.36 393.74,728.33 394.75,732.19 395.84,735.44 397,737.6 397.94,738.31 398.95,738.39 400,738 401.09,737.33 402.2,736.57 403.32,735.89 404.42,735.47 405.5,735.5 406.55,736.16 407.59,737.34 408.63,738.82 409.67,740.38 410.72,741.76 411.78,742.75 412.88,743.1 414,742.6 415.04,741.24 416.12,739.09 417.22,736.35 418.34,733.24 419.46,729.97 420.58,726.73 421.68,723.73 422.76,721.19 423.8,719.3 424.91,718.01 425.95,717.36 426.96,717.16 427.96,717.19 428.96,717.28 430.01,717.2 431.11,716.78 432.3,715.8 433.23,714.67 434.2,713.23 435.22,711.56 436.27,709.73 437.33,707.8 438.41,705.85 439.48,703.95 440.55,702.16 441.6,700.56 442.62,699.22 443.6,698.2 444.77,697.36 445.93,696.84 447.08,696.59 448.21,696.54 449.31,696.64 450.39,696.85 451.43,697.1 452.44,697.33 453.4,697.5 454.53,697.56 455.55,697.51 456.49,697.49 457.41,697.64 458.35,698.06 459.37,698.91 460.5,700.3 461.49,701.93 462.55,704.08 463.67,706.6 464.82,709.34 465.98,712.17 467.13,714.93 468.25,717.49 469.31,719.69 470.3,721.4 471.42,722.69 472.4,723.16 473.31,723.17 474.2,723.07 475.14,723.23 476.19,723.98 477.4,725.7 478.29,727.48 479.26,729.79 480.3,732.5 481.38,735.5 482.49,738.64 483.62,741.82 484.73,744.91 485.81,747.77 486.85,750.29 487.82,752.34 488.7,753.8 489.92,754.88 491.01,754.83 492,754.03 492.92,752.81 493.82,751.55 494.73,750.59 495.7,750.3 496.66,750.92 497.56,752.23 498.45,753.84 499.37,755.4 500.37,756.52 501.5,756.85 502.8,756 503.67,754.79 504.63,753.06 505.66,750.9 506.74,748.4 507.87,745.68 509.01,742.83 510.16,739.94 511.3,737.12 512.41,734.47 513.47,732.08 514.48,730.06 515.4,728.5 516.64,727.02 517.75,726.3 518.76,726.12 519.73,726.23 520.69,726.4 521.67,726.41 522.73,726.02 523.9,725 524.83,723.78 525.82,722.24 526.86,720.44 527.92,718.46 529.01,716.38 530.1,714.26 531.19,712.2 532.25,710.25 533.28,708.51 534.27,707.03 535.2,705.9 536.4,704.82 537.53,704.12 538.62,703.74 539.66,703.61 540.67,703.68 541.66,703.89 542.63,704.18 543.6,704.5 544.7,704.94 545.77,705.54 546.81,706.29 547.83,707.21 548.82,708.28 549.78,709.51 550.7,710.9 551.85,713.36 552.84,716.39 553.82,719.6 554.93,722.6 556.3,725 557.2,725.88 558.18,726.41 559.23,726.71 560.33,726.91 561.47,727.12 562.64,727.48 563.82,728.09 565.01,729.09 566.2,730.6 567.19,732.36 568.23,734.6 569.3,737.22 570.39,740.09 571.48,743.1 572.58,746.13 573.65,749.05 574.69,751.76 575.69,754.13 576.63,756.05 577.5,757.4 578.72,758.33 579.8,758.15 580.77,757.21 581.69,755.88 582.59,754.51 583.51,753.46 584.5,753.1 585.5,753.67 586.45,754.95 587.41,756.55 588.4,758.11 589.46,759.25 590.65,759.6 592,758.8 592.89,757.62 593.88,755.92 594.94,753.79 596.06,751.33 597.21,748.65 598.38,745.84 599.54,743.01 600.69,740.26 601.8,737.68 602.85,735.37 603.82,733.45 604.7,732 605.96,730.64 606.97,730.32 607.84,730.66 608.66,731.25 609.53,731.7 610.54,731.61 611.8,730.6 612.67,729.46 613.63,727.98 614.65,726.22 615.73,724.24 616.84,722.14 617.98,719.96 619.13,717.79 620.27,715.7 621.4,713.75 622.49,712.02 623.53,710.58 624.5,709.5 625.73,708.54 626.92,707.97 628.08,707.73 629.2,707.75 630.29,707.96 631.34,708.3 632.36,708.72 633.35,709.14 634.3,709.5 635.46,709.91 636.53,710.36 637.54,710.92 638.51,711.62 639.46,712.51 640.41,713.66 641.4,715.1 642.42,717.05 643.45,719.54 644.48,722.33 645.5,725.2 646.5,727.92 647.47,730.26 648.4,732 649.51,732.97 650.44,732.72 651.39,732.19 652.54,732.34 654.1,734.1 654.93,735.56 655.86,737.49 656.89,739.77 657.99,742.33 659.14,745.05 660.31,747.85 661.49,750.63 662.65,753.3 663.78,755.75 664.84,757.9 665.82,759.65 666.7,760.9 667.99,761.92 669.09,761.86 670.05,761.08 670.95,759.9 671.83,758.67 672.76,757.72 673.8,757.4 674.77,757.83 675.73,758.78 676.7,760.02 677.71,761.31 678.75,762.42 679.85,763.11 681.03,763.15 682.3,762.3 683.22,761.1 684.23,759.38 685.29,757.25 686.4,754.8 687.54,752.13 688.69,749.34 689.83,746.52 690.96,743.78 692.04,741.21 693.07,738.9 694.03,736.97 694.9,735.5 696.17,734.06 697.21,733.61 698.11,733.8 698.95,734.24 699.83,734.56 700.81,734.41 702,733.4 702.87,732.2 703.8,730.64 704.78,728.8 705.8,726.76 706.86,724.6 707.93,722.41 709.02,720.26 710.11,718.23 711.19,716.41 712.26,714.87 713.3,713.7 714.34,712.86 715.42,712.24 716.51,711.81 717.61,711.55 718.71,711.43 719.79,711.43 720.84,711.52 721.84,711.68 722.8,711.88 723.69,712.1 724.5,712.3 725.97,712.79 727.11,713.49 728.09,714.51 729.06,715.94 730.2,717.9 731.13,719.84 732.1,722.32 733.1,725.09 734.12,727.95 735.15,730.67 736.18,733.03 737.2,734.8 738.17,735.74 739.1,735.95 740.02,735.76 740.97,735.51 741.97,735.51 743.07,736.1 744.3,737.6 745.18,739.21 746.14,741.33 747.17,743.84 748.24,746.62 749.34,749.56 750.46,752.52 751.56,755.41 752.63,758.09 753.66,760.44 754.62,762.35 755.5,763.7 756.73,764.69 757.84,764.63 758.86,763.87 759.81,762.71 760.73,761.5 761.65,760.55 762.6,760.2 763.8,760.29 765.06,760.51 766.3,760.94 767.46,761.67 768.45,762.79 769.2,764.4 769.9,782.7 771.3,826 772.15,828.91 773.26,830.5 774.52,830.88 775.83,830.18 777.05,828.52 778.1,826 779.37,819.59 780.46,810.36 781.42,800.25 782.3,791.2 783.36,775.46 785,763 785.8,761.05 786.75,759.67 787.8,758.71 788.95,758 790.15,757.39 791.38,756.7 792.61,755.8 793.8,754.5 794.9,752.47 796.1,749.42 797.36,745.82 798.63,742.13 799.87,738.8 801.04,736.29 802.1,735.06 803,735.58 803.7,738.3 804.4,826 805.18,835.77 806.5,826 807.34,815.93 808.36,801.28 809.47,784.81 810.55,769.26 811.5,757.4 812.75,746.05 813.84,739.84 815,735 815.97,731.38 816.97,728.56 818.04,726.46 819.2,725 820.18,724.46 821.2,724.51 822.28,724.91 823.47,725.39 824.8,725.7 825.7,725.7 826.66,725.56 827.65,725.37 828.69,725.21 829.78,725.16 830.91,725.28 832.08,725.67 833.3,726.4 834.23,727.24 835.22,728.38 836.26,729.74 837.32,731.26 838.41,732.86 839.5,734.49 840.59,736.06 841.65,737.52 842.68,738.79 843.67,739.81 844.6,740.5 845.8,740.91 846.94,740.82 848.02,740.37 849.07,739.71 850.08,738.96 851.07,738.27 852.04,737.77 853,737.6 854.02,737.96 854.93,738.78 855.79,739.81 856.67,740.81 857.62,741.53 858.71,741.75 860,741.2 860.88,740.42 861.86,739.3 862.93,737.91 864.05,736.3 865.22,734.55 866.4,732.71 867.58,730.85 868.75,729.03 869.87,727.33 870.94,725.79 871.92,724.5 872.8,723.5 874.07,722.48 875.1,722.09 875.98,722.1 876.8,722.27 877.66,722.37 878.63,722.16 879.8,721.4 880.67,720.56 881.61,719.49 882.61,718.24 883.65,716.85 884.72,715.4 885.82,713.92 886.91,712.46 888,711.09 889.07,709.86 890.11,708.81 891.1,708 892.28,707.28 893.45,706.75 894.61,706.38 895.76,706.17 896.88,706.08 897.97,706.1 899.02,706.2 900.03,706.38 901,706.6 902.16,707.02 903.24,707.62 904.26,708.39 905.22,709.27 906.16,710.25 907.08,711.27 908,712.3 909.13,713.68 910.3,715.3 911.44,717.01 912.48,718.63 913.36,720.02 914,721" fill="none" stroke="#f00" stroke-width="2.2" stroke-linejoin="round"/><path d="M200,712.16 200.3,713.42 200.6,712.23 200.9,712.94 201.2,711.56 201.5,716.48 201.8,717.07 202.1,716.12 202.4,715.47 202.7,716.96 203,717.08 203.3,717.04 203.6,721.87 203.9,718.2 204.2,719.26 204.5,721.65 204.8,722.23 205.1,722.4 205.4,722.89 205.7,722.78 206,718.56 206.3,721.47 206.6,721.55 206.9,723.35 207.2,721.42 207.5,720.79 207.8,721.53 208.1,724.41 208.4,720.47 208.7,721.7 209,721.13 209.3,722.87 209.6,719.8 209.9,721.01 210.2,723.18 210.5,720.48 210.8,723.92 211.1,722.37 211.4,721.54 211.7,720.22 212,719.11 212.3,719.2 212.6,720.78 212.9,718.72 213.2,721.07 213.5,721.32 213.8,717.39 214.1,718.68 214.4,720.31 214.7,722.44 215,723.2 215.3,719.52 215.6,725.06 215.9,725.49 216.2,726.34 216.5,730.17 216.8,731.43 217.1,728.74 217.4,736.94 217.7,737.12 218,736.36 218.3,735.72 218.6,745.27 218.9,742.15 219.2,742.57 219.5,739.21 219.8,745.39 220.1,751 220.4,748.21 220.7,745.18 221,750.36 221.3,743.73 221.6,739.86 221.9,749.95 222.2,745.59 222.5,748.35 222.8,747.16 223.1,742 223.4,736.79 223.7,739.96 224,750.88 224.3,750.81 224.6,740.26 224.9,736.29 225.2,747.17 225.5,739.54 225.8,749.26 226.1,758.11 226.4,760.03 226.7,755.84 227,765.58 227.3,769.92 227.6,770.37 227.9,774.78 228.2,780.55 228.5,778.23 228.8,773.34 229.1,781.76 229.4,779.55 229.7,780.07 230,773.52 230.3,765.89 230.6,768.39 230.9,756.11 231.2,763.54 231.5,762.74 231.8,766.36 232.1,758.18 232.4,760.68 232.7,763.84 233,770.67 233.3,761.63 233.6,760.78 233.9,760.4 234.2,770.14 234.5,770.97 234.8,767.83 235.1,776.54 235.4,770.76 235.7,767.9 236,771.16 236.3,770.39 236.6,757.54 236.9,761.01 237.2,754.41 237.5,757.09 237.8,753.19 238.1,748.39 238.4,741.9 238.7,737.05 239,738.27 239.3,739.89 239.6,739.76 239.9,740.38 240.2,739 240.5,737.9 240.8,739.66 241.1,735.8 241.4,739.44 241.7,734.92 242,735.62 242.3,735.03 242.6,731.41 242.9,738.35 243.2,733.8 243.5,729.35 243.8,730.65 244.1,732.41 244.4,729.87 244.7,735.51 245,729.09 245.3,728.24 245.6,725.92 245.9,730.56 246.2,724.68 246.5,725.82 246.8,729.11 247.1,728.1 247.4,725.62 247.7,728.95 248,724.92 248.3,725.07 248.6,727.06 248.9,723.7 249.2,724.46 249.5,719.29 249.8,721.08 250.1,720.89 250.4,719.69 250.7,721.6 251,722.62 251.3,716.14 251.6,715.57 251.9,716.09 252.2,715.71 252.5,717.52 252.8,716.87 253.1,713.84 253.4,711.72 253.7,710.94 254,715.03 254.3,713.17 254.6,710.5 254.9,710.82 255.2,709.15 255.5,707.8 255.8,710.02 256.1,710.13 256.4,706.52 256.7,709.01 257,708.16 257.3,708.41 257.6,707.7 257.9,704.44 258.2,706.28 258.5,705.78 258.8,704.25 259.1,707.82 259.4,705.99 259.7,706.17 260,703.35 260.3,705.3 260.6,705.05 260.9,705.87 261.2,701.65 261.5,703.37 261.8,702.99 262.1,702.6 262.4,700.87 262.7,702.72 263,700.59 263.3,703.16 263.6,700.68 263.9,702.58 264.2,698.66 264.5,699.26 264.8,698.24 265.1,699.49 265.4,699.72 265.7,699.04 266,696.71 266.3,698.47 266.6,697.6 266.9,698.15 267.2,700.79 267.5,698.45 267.8,695.39 268.1,696.71 268.4,695.85 268.7,696.08 269,696.8 269.3,695.4 269.6,698.3 269.9,697.5 270.2,698.28 270.5,696.52 270.8,696.46 271.1,696.1 271.4,695.8 271.7,695.21 272,697.34 272.3,698.62 272.6,696.61 272.9,698.83 273.2,698.36 273.5,697.93 273.8,699 274.1,698.45 274.4,698.21 274.7,698.26 275,696.34 275.3,696.35 275.6,695.7 275.9,695.25 276.2,698.3 276.5,696.87 276.8,696.88 277.1,696.07 277.4,696.85 277.7,698.88 278,698.61 278.3,697.73 278.6,698.4 278.9,699.9 279.2,698.33 279.5,699.18 279.8,696.26 280.1,699.43 280.4,697.86 280.7,700.65 281,700.11 281.3,697.85 281.6,697.78 281.9,696.6 282.2,700.82 282.5,702.15 282.8,701.29 283.1,703.04 283.4,702.19 283.7,700.27 284,699.97 284.3,701.05 284.6,700.56 284.9,700.91 285.2,702.76 285.5,702.63 285.8,702.23 286.1,703.38 286.4,702.78 286.7,702.43 287,702.08 287.3,703.35 287.6,703.95 287.9,704.28 288.2,703.04 288.5,702.98 288.8,704.9 289.1,702.73 289.4,705.1 289.7,705.25 290,706.06 290.3,702.95 290.6,704.05 290.9,704.31 291.2,704.21 291.5,706.26 291.8,708.8 292.1,706.84 292.4,711.45 292.7,709.87 293,713.5 293.3,712.17 293.6,715.24 293.9,716.44 294.2,716.63 294.5,715.4 294.8,717.47 295.1,719.29 295.4,724.65 295.7,719.96 296,721.95 296.3,725.2 296.6,725.46 296.9,728.95 297.2,727.59 297.5,728.64 297.8,731.59 298.1,726.99 298.4,729.38 298.7,729.8 299,730.36 299.3,730.92 299.6,725.83 299.9,728.87 300.2,728.31 300.5,725.3 300.8,726.79 301.1,723.91 301.4,724.9 301.7,726.24 302,725.08 302.3,723.1 302.6,724.31 302.9,725.65 303.2,724.08 303.5,729.6 303.8,729.4 304.1,725.36 304.4,729.12 304.7,726.37 305,733.41 305.3,729.59 305.6,734.15 305.9,731.3 306.2,729.86 306.5,735.16 306.8,733.91 307.1,738.04 307.4,736.86 307.7,739.51 308,733.91 308.3,732.76 308.6,737.68 308.9,742.08 309.2,741.8 309.5,737.13 309.8,741.6 310.1,742.78 310.4,739.19 310.7,737.46 311,744.84 311.3,739.43 311.6,737.9 311.9,744.74 312.2,743.7 312.5,747.87 312.8,745.14 313.1,757.65 313.4,749.91 313.7,749.54 314,751.57 314.3,754.58 314.6,755.81 314.9,757.85 315.2,760.58 315.5,759.38 315.8,762.09 316.1,756.12 316.4,762.13 316.7,761.81 317,757.52 317.3,759.87 317.6,758.36 317.9,760.61 318.2,763.92 318.5,757.53 318.8,760.64 319.1,756.69 319.4,757.42 319.7,765.39 320,755.99 320.3,774.43 320.6,760.84 320.9,752.77 321.2,750.99 321.5,755.04 321.8,750.9 322.1,751.11 322.4,744.59 322.7,745.38 323,739.39 323.3,739.1 323.6,739.31 323.9,737.95 324.2,734.51 324.5,730.42 324.8,727.23 325.1,727.05 325.4,725.66 325.7,729.92 326,729.3 326.3,728.46 326.6,725.51 326.9,724.88 327.2,725.85 327.5,727.51 327.8,727.27 328.1,720.72 328.4,720.98 328.7,720.81 329,721.2 329.3,722.96 329.6,718.9 329.9,721.6 330.2,720.77 330.5,717.76 330.8,716.75 331.1,718.03 331.4,716.36 331.7,717.39 332,718.7 332.3,716.06 332.6,718.08 332.9,715.51 333.2,713.98 333.5,713.28 333.8,712.77 334.1,711.94 334.4,711.68 334.7,710.8 335,711.24 335.3,711.03 335.6,709.44 335.9,712.17 336.2,710.92 336.5,713.63 336.8,710.35 337.1,711.43 337.4,709.04 337.7,710.76 338,710.16 338.3,712.99 338.6,713.38 338.9,710.33 339.2,713.09 339.5,712.06 339.8,707.84 340.1,709.96 340.4,709.87 340.7,711.54 341,710.1 341.3,710.47 341.6,712.06 341.9,709.68 342.2,708.98 342.5,709.62 342.8,709.22 343.1,708.18 343.4,706.6 343.7,707.94 344,705.57 344.3,703.73 344.6,704.8 344.9,705.11 345.2,702.46 345.5,701.03 345.8,700.88 346.1,698.13 346.4,700.21 346.7,698.96 347,699.5 347.3,697.7 347.6,697.2 347.9,692.15 348.2,692.84 348.5,687.53 348.8,691.4 349.1,691.89 349.4,689.12 349.7,690.84 350,688.23 350.3,686.32 350.6,687.51 350.9,687.22 351.2,688.43 351.5,688.63 351.8,689.39 352.1,692.08 352.4,690.85 352.7,692.27 353,692.8 353.3,693.67 353.6,695.81 353.9,697.66 354.2,698.06 354.5,696.09 354.8,698.47 355.1,699.69 355.4,696.33 355.7,701.61 356,701.21 356.3,700.64 356.6,703.02 356.9,701.76 357.2,702.24 357.5,699.49 357.8,700.27 358.1,698.3 358.4,700.58 358.7,700.48 359,699.21 359.3,697.2 359.6,698.05 359.9,698.37 360.2,699.22 360.5,697.84 360.8,697.61 361.1,697.2 361.4,699.23 361.7,700.51 362,695.95 362.3,699.87 362.6,698.9 362.9,700.2 363.2,697.74 363.5,698.28 363.8,697.74 364.1,698.21 364.4,699.67 364.7,700.45 365,703.18 365.3,703.91 365.6,705.09 365.9,702.9 366.2,705.44 366.5,709.95 366.8,707.08 367.1,710.35 367.4,709.35 367.7,712.03 368,711.19 368.3,714.5 368.6,713.96 368.9,714.4 369.2,718.72 369.5,716.54 369.8,721.13 370.1,719.57 370.4,722.29 370.7,720.93 371,725.54 371.3,722.9 371.6,724.55 371.9,728.82 372.2,727.68 372.5,728.33 372.8,732.36 373.1,734.25 373.4,734 373.7,732.68 374,735.02 374.3,735.39 374.6,736.19 374.9,736.38 375.2,739.13 375.5,742.09 375.8,741.82 376.1,740.23 376.4,742.2 376.7,743.18 377,743.78 377.3,744.45 377.6,746.89 377.9,739.77 378.2,739.81 378.5,746.41 378.8,748.6 379.1,745.4 379.4,744.66 379.7,751.89 380,749.22 380.3,750.62 380.6,742.49 380.9,745.1 381.2,744.67 381.5,751.02 381.8,744.8 382.1,744.81 382.4,751.61 382.7,744.8 383,754.64 383.3,751.46 383.6,747.77 383.9,746.09 384.2,750.95 384.5,760.34 384.8,758.88 385.1,761.69 385.4,771.81 385.7,776.39 386,761.86 386.3,753.62 386.6,765.72 386.9,760.44 387.2,766.05 387.5,781.52 387.8,767.86 388.1,771.67 388.4,772.12 388.7,796.81 389,792.84 389.3,794.65 389.6,783.71 389.9,793.78 390.2,782.29 390.5,794.65 390.8,791.85 391.1,799.49 391.4,805.94 391.7,840.84 392,809.75 392.3,795.08 392.6,799.73 392.9,799.04 393.2,789.07 393.5,815.26 393.8,814.21 394.1,791.96 394.4,813.92 394.7,823.12 395,789.8 395.3,804.44 395.6,827.46 395.9,825.29 396.2,807.74 396.5,828.62 396.8,809.51 397.1,808.76 397.4,786.3 397.7,798.84 398,809.45 398.3,798.15 398.6,812.5 398.9,806.64 399.2,781.72 399.5,797.59 399.8,820.37 400.1,800.28 400.4,790.01 400.7,789.08 401,786.23 401.3,808 401.6,815.75 401.9,834.99 402.2,818.85 402.5,817.01 402.8,793.64 403.1,797.53 403.4,823.94 403.7,806.55 404,822.75 404.3,793.78 404.6,803.47 404.9,824.08 405.2,831.82 405.5,804.62 405.8,820.11 406.1,832.93 406.4,806.37 406.7,810.88 407,829.75 407.3,814.07 407.6,798.47 407.9,799.59 408.2,782.2 408.5,817.25 408.8,800.4 409.1,808.3 409.4,816.52 409.7,802.66 410,787.21 410.3,822.85 410.6,805.92 410.9,792.28 411.2,819.14 411.5,807.34 411.8,806.97 412.1,805.97 412.4,762.56 412.7,784 413,783.16 413.3,777.48 413.6,772.51 413.9,770.41 414.2,760.12 414.5,757.45 414.8,759.61 415.1,763.59 415.4,767.18 415.7,763.03 416,758.84 416.3,757.16 416.6,756.62 416.9,750.44 417.2,760.52 417.5,758.25 417.8,753.97 418.1,760.55 418.4,753.46 418.7,751.75 419,752.16 419.3,752.09 419.6,749.33 419.9,755.05 420.2,747.47 420.5,745.92 420.8,745.67 421.1,751.64 421.4,750.13 421.7,744.47 422,746.59 422.3,749.21 422.6,745.77 422.9,744.56 423.2,741.67 423.5,744.01 423.8,736.11 424.1,744.02 424.4,740.61 424.7,735.69 425,734.63 425.3,731.37 425.6,739.22 425.9,732.48 426.2,734.07 426.5,731.21 426.8,733.09 427.1,734.7 427.4,732.48 427.7,730.25 428,730.91 428.3,726.48 428.6,730.73 428.9,732.53 429.2,732.2 429.5,739.11 429.8,731.19 430.1,726.93 430.4,726.91 430.7,727.71 431,727.08 431.3,723.84 431.6,725.85 431.9,725.36 432.2,726.64 432.5,724.17 432.8,727.37 433.1,729.44 433.4,725.43 433.7,725.18 434,725.51 434.3,722.97 434.6,720.78 434.9,722.05 435.2,718.38 435.5,722.5 435.8,718.14 436.1,724.05 436.4,722.72 436.7,724.03 437,720.49 437.3,720.04 437.6,719.22 437.9,719.88 438.2,718.19 438.5,723.85 438.8,721.04 439.1,719.26 439.4,720.15 439.7,716.28 440,717.18 440.3,718.81 440.6,714.75 440.9,718.59 441.2,714.63 441.5,715.54 441.8,719.26 442.1,718.61 442.4,717.65 442.7,714.54 443,713.3 443.3,716.99 443.6,715.12 443.9,712.6 444.2,715.71 444.5,715.94 444.8,714.51 445.1,710.87 445.4,712.63 445.7,712.88 446,713.77 446.3,711.5 446.6,710.32 446.9,714.1 447.2,710.59 447.5,713.75 447.8,710.12 448.1,709.82 448.4,712.25 448.7,711.38 449,711.65 449.3,708.68 449.6,709.88 449.9,711.72 450.2,709.92 450.5,715.56 450.8,707.18 451.1,708.34 451.4,709.27 451.7,709.04 452,703.44 452.3,707.03 452.6,706.12 452.9,710.99 453.2,708.27 453.5,706.56 453.8,707.68 454.1,707.31 454.4,707.54 454.7,706.64 455,707.52 455.3,708.19 455.6,706.61 455.9,707.65 456.2,709.94 456.5,707.83 456.8,708.42 457.1,705.74 457.4,704.55 457.7,703.5 458,701.69 458.3,704.07 458.6,702.95 458.9,700.95 459.2,702.59 459.5,701.23 459.8,700.67 460.1,701.18 460.4,703.8 460.7,704.23 461,702.64 461.3,703.19 461.6,706.14 461.9,705.66 462.2,706.67 462.5,708.18 462.8,708.26 463.1,709.88 463.4,711.16 463.7,712.48 464,711.48 464.3,713.84 464.6,713.05 464.9,715.81 465.2,711.2 465.5,717.31 465.8,715.8 466.1,718.28 466.4,719.89 466.7,723.51 467,727.16 467.3,726.46 467.6,728.05 467.9,734 468.2,732.14 468.5,739.28 468.8,737.44 469.1,739.84 469.4,744.07 469.7,741.04 470,754.65 470.3,755.66 470.6,758.97 470.9,767.29 471.2,767.55 471.5,771.06 471.8,767.21 472.1,775.95 472.4,779.3 472.7,784.33 473,789.38 473.3,786.12 473.6,784.78 473.9,792.76 474.2,809.53 474.5,784.92 474.8,799.69 475.1,802.91 475.4,800.18 475.7,790.74 476,815.8 476.3,790.64 476.6,806.59 476.9,809.97 477.2,870.84 477.5,802.11 477.8,812.23 478.1,807 478.4,804.86 478.7,816.87 479,790.33 479.3,810.08 479.6,791.36 479.9,799 480.2,808.64 480.5,811.18 480.8,834.67 481.1,780.48 481.4,791.89 481.7,806.88 482,800.31 482.3,824.44 482.6,834.34 482.9,825.32 483.2,820.97 483.5,806.18 483.8,822.8 484.1,797.26 484.4,814.71 484.7,796.54 485,812.99 485.3,804.13 485.6,808.26 485.9,804.68 486.2,814.7 486.5,806.59 486.8,810.65 487.1,796.18 487.4,791.54 487.7,817.64 488,818.65 488.3,793.45 488.6,801.67 488.9,772.47 489.2,809.09 489.5,784.63 489.8,797.04 490.1,796.91 490.4,805.67 490.7,810.65 491,815.86 491.3,799.64 491.6,817.13 491.9,822.49 492.2,803.35 492.5,831.17 492.8,797.8 493.1,824.95 493.4,787.76 493.7,798.87 494,820.39 494.3,822.35 494.6,830.74 494.9,801.09 495.2,786.81 495.5,821.38 495.8,813.24 496.1,802.22 496.4,826.15 496.7,816.86 497,824.91 497.3,783.63 497.6,785.44 497.9,815.58 498.2,817.88 498.5,830.02 498.8,804.5 499.1,822.83 499.4,823.09 499.7,807.23 500,801.39 500.3,817.55 500.6,817.6 500.9,790.62 501.2,815.01 501.5,796.22 501.8,829.08 502.1,796.3 502.4,813.2 502.7,808.07 503,811.79 503.3,797.89 503.6,817.46 503.9,811.94 504.2,784.8 504.5,805.5 504.8,796.11 505.1,829.03 505.4,794.34 505.7,803.27 506,799.93 506.3,858.61 506.6,812.32 506.9,798.49 507.2,809.19 507.5,795.27 507.8,806.67 508.1,793.9 508.4,817.65 508.7,794.8 509,820.34 509.3,798.84 509.6,799.28 509.9,819.7 510.2,803.51 510.5,799.38 510.8,792.09 511.1,814.21 511.4,795.59 511.7,775.29 512,774.98 512.3,786.28 512.6,796.58 512.9,800.71 513.2,803.24 513.5,780.94 513.8,797.61 514.1,792.68 514.4,806.37 514.7,797.1 515,794.53 515.3,785.38 515.6,785.25 515.9,789.85 516.2,801.84 516.5,782.63 516.8,781.79 517.1,799.34 517.4,787.19 517.7,796.74 518,781.04 518.3,778.11 518.6,775.42 518.9,801.31 519.2,785.95 519.5,770.45 519.8,783.67 520.1,780.36 520.4,766.46 520.7,774.15 521,780.3 521.3,767.25 521.6,768.43 521.9,781.37 522.2,782.71 522.5,769.98 522.8,773.51 523.1,771.49 523.4,766.7 523.7,759.39 524,762.02 524.3,768.45 524.6,765.02 524.9,771.78 525.2,757.37 525.5,756.96 525.8,762.53 526.1,760.58 526.4,760.66 526.7,759.48 527,760.38 527.3,763.32 527.6,758.15 527.9,756.98 528.2,762.71 528.5,756.14 528.8,760.16 529.1,754.43 529.4,758.19 529.7,753.7 530,753.36 530.3,752.64 530.6,740.57 530.9,750 531.2,756.45 531.5,751.2 531.8,746.39 532.1,746.65 532.4,746.45 532.7,751.01 533,746.44 533.3,749.2 533.6,745.36 533.9,750.21 534.2,750.95 534.5,749.86 534.8,749.3 535.1,748.98 535.4,745.76 535.7,741.39 536,741.36 536.3,747.49 536.6,743.23 536.9,735.61 537.2,742.28 537.5,739.8 537.8,743.7 538.1,742.41 538.4,739.93 538.7,743.08 539,743.66 539.3,740.62 539.6,742.15 539.9,742.41 540.2,743.44 540.5,740.66 540.8,740.09 541.1,742.94 541.4,740.61 541.7,737.81 542,740.08 542.3,739.09 542.6,740.82 542.9,738.49 543.2,743.56 543.5,739.23 543.8,745.14 544.1,741.34 544.4,743.55 544.7,742.53 545,742.12 545.3,742.95 545.6,741.9 545.9,745.62 546.2,743.44 546.5,747.14 546.8,749.14 547.1,744.59 547.4,749.49 547.7,749.34 548,748.13 548.3,751.12 548.6,750.17 548.9,746.9 549.2,746.32 549.5,745.48 549.8,755.64 550.1,752.02 550.4,752.66 550.7,761.07 551,746.68 551.3,753.31 551.6,752.03 551.9,751.09 552.2,755.63 552.5,747.14 552.8,754.4 553.1,752.36 553.4,751.39 553.7,760.47 554,752.04 554.3,754.51 554.6,757.35 554.9,759.65 555.2,756.3 555.5,758.64 555.8,760.06 556.1,762.99 556.4,761.23 556.7,765.42 557,765.45 557.3,759.15 557.6,753.08 557.9,760.52 558.2,765.32 558.5,758.2 558.8,761.44 559.1,756.4 559.4,760.61 559.7,760.53 560,763.73 560.3,765.2 560.6,770.05 560.9,767.49 561.2,762.19 561.5,776.33 561.8,759.24 562.1,759.27 562.4,766.05 562.7,768.37 563,765.04 563.3,767.77 563.6,781.25 563.9,766.46 564.2,762.01 564.5,776.49 564.8,774.92 565.1,764.22 565.4,775.7 565.7,781.19 566,777.14 566.3,775.21 566.6,771.03 566.9,770.07 567.2,772.04 567.5,770.12 567.8,770.35 568.1,775.33 568.4,773.56 568.7,785.64 569,767.29 569.3,778.2 569.6,777.6 569.9,777.58 570.2,742.93 570.5,776.91 570.8,785.09 571.1,768.7 571.4,806.79 571.7,776.78 572,771.33 572.3,778.1 572.6,779.27 572.9,788.36 573.2,786.94 573.5,779.1 573.8,756.18 574.1,786.49 574.4,792.76 574.7,775.72 575,776.15 575.3,775.67 575.6,781.23 575.9,778.05 576.2,774.53 576.5,763.27 576.8,774.28 577.1,769.71 577.4,777.97 577.7,794.25 578,776.57 578.3,775.1 578.6,789.59 578.9,789 579.2,805.72 579.5,795.73 579.8,796.83 580.1,801.79 580.4,799.18 580.7,775.36 581,793.54 581.3,776.37 581.6,768.69 581.9,796.99 582.2,792.98 582.5,787.58 582.8,787.88 583.1,786.09 583.4,788.84 583.7,773.62 584,789.47 584.3,773.29 584.6,790.29 584.9,751.95 585.2,779.73 585.5,780.31 585.8,778.58 585.8,830 586,778.58 586.1,766.43 586.1,830 586.3,766.43 586.4,772.13 586.7,774.4 587,781.26 587.3,788.39 587.6,789.26 587.9,790.02 588.2,783.68 588.5,778.44 588.8,777.62 589.1,794.27 589.4,802.58 589.7,791.46 590,779.34 590.3,794.12 590.6,793.92 590.9,787.37 591.2,782.79 591.5,790.81 591.8,789.21 592.1,799.58 592.4,778.58 592.7,775.77 593,775.89 593.3,781.6 593.6,790.07 593.9,796.01 594.2,789.5 594.5,784.57 594.8,794.81 595.1,793.5 595.4,777.46 595.7,779.77 596,782.92 596.3,781.92 596.6,766.89 596.9,785 597.2,784.27 597.5,782.97 597.8,769.91 598.1,785.28 598.4,770.29 598.7,787.14 599,786.71 599.3,774.71 599.6,775.19 599.9,779.2 600.2,768.47 600.5,771.01 600.8,769.61 601.1,769.73 601.4,775.69 601.7,769.99 602,772.59 602.3,773.12 602.6,772.93 602.9,779.77 603.2,769.56 603.5,763.97 603.8,765.22 604.1,760.59 604.4,761.12 604.7,766.86 605,770.68 605.3,742.91 605.6,765.41 605.9,761.38 606.2,742.63 606.5,755.44 606.8,760.99 607.1,758.81 607.4,750.26 607.7,761.41 608,746.11 608.3,752.97 608.6,749.06 608.9,748.96 609.2,750.26 609.5,747.74 609.8,747.69 610.1,736.69 610.4,738.94 610.7,746.25 611,737.04 611.3,735.81 611.6,744.27 611.9,741.01 612.2,735.25 612.5,736.99 612.8,740.02 613.1,738.09 613.4,739.29 613.7,741.89 614,737.57 614.3,734.1 614.6,738.6 614.9,738.2 615.2,735.48 615.5,739.77 615.8,731.44 616.1,739.27 616.4,738.93 616.7,734.49 617,733.46 617.3,727.68 617.6,737.01 617.9,732.19 618.2,735.49 618.5,735.6 618.8,730.9 619.1,733.14 619.4,731.17 619.7,733.4 620,736.9 620.3,732.62 620.6,730.13 620.9,732.07 621.2,729.87 621.5,731.31 621.8,727.28 622.1,730.77 622.4,731.27 622.7,726.04 623,727.66 623.3,729.8 623.6,727.18 623.9,729.9 624.2,731.46 624.5,722.73 624.8,721.47 625.1,729.58 625.4,722.65 625.7,724.27 626,722.48 626.3,720.29 626.6,723.45 626.6,830 626.8,723.45 626.9,724.48 627.2,727.68 627.5,727.23 627.8,730.1 628.1,725.86 628.4,729.07 628.7,726.74 629,726.81 629.3,720.9 629.6,729.65 629.9,730.05 630.2,730.43 630.5,729.02 630.8,734.56 631.1,734.34 631.4,731.99 631.7,731.46 632,733.15 632.3,737.23 632.6,742.21 632.9,736.61 633.2,732.09 633.5,742.09 633.8,735.67 634.1,736.23 634.4,736.17 634.7,738.81 635,740.82 635.3,741.94 635.6,748.21 635.9,744.54 636.2,746.26 636.5,743.17 636.8,743.24 637.1,748.58 637.4,742.24 637.7,745.28 638,747.44 638.3,741.95 638.6,745.87 638.9,746.92 639.2,746.87 639.5,746.56 639.8,747.92 640.1,747.8 640.4,743.17 640.7,748.83 641,750.57 641.3,743.56 641.6,747.36 641.9,753.5 642.2,753.92 642.5,750.69 642.8,747.81 643.1,748.35 643.4,745.48 643.7,753.27 644,752.39 644.3,746.83 644.6,756.45 644.9,753.4 645.2,753.53 645.5,754.27 645.8,751.72 646.1,748.89 646.4,755.68 646.7,757.55 647,751.15 647.3,752.54 647.6,747.49 647.9,756.9 648.2,753.59 648.5,759.59 648.8,755.74 649.1,747.19 649.4,759.21 649.7,753.5 650,760.21 650.3,763.32 650.6,750.6 650.9,759.78 651.2,770.67 651.5,767.59 651.8,744.98 652.1,766.09 652.4,771.53 652.7,777.89 653,775.43 653.3,779.16 653.6,775.36 653.9,774.48 654.2,777.19 654.5,780.66 654.8,762.75 655.1,773.01 655.4,784.13 655.7,777.08 656,775.35 656.3,765.54 656.6,787.8 656.9,772.12 657.2,771.74 657.5,774.04 657.8,769.36 658.1,770.8 658.4,784.13 658.7,787.94 659,786.65 659.3,777.61 659.6,772.95 659.9,781.69 660.2,797.5 660.5,786.28 660.8,782.87 661.1,798.17 661.4,785.97 661.7,779.4 662,790.96 662.3,792.88 662.6,800.76 662.9,778.01 663.2,780.15 663.5,773.79 663.8,798.36 664.1,790.5 664.4,788.88 664.7,773.5 665,772.45 665.3,799.75 665.6,779.47 665.6,830 665.8,779.47 665.9,784.63 665.9,830 666.1,784.63 666.2,784.52 666.5,790.72 666.8,771.72 667.1,786.52 667.4,786.94 667.7,775.65 668,783.83 668.3,805.41 668.6,788.27 668.9,785.87 669.2,791.44 669.5,784.9 669.8,776.65 670.1,776.74 670.4,782.3 670.7,788.86 671,788.83 671.3,785.79 671.6,781.34 671.9,772.8 672.2,775.94 672.5,781.73 672.8,766.43 673.1,770.38 673.4,763.94 673.7,785.63 674,779.01 674.3,779.67 674.3,830 674.5,779.67 674.6,780.42 674.6,830 674.8,780.42 674.9,771.02 675.2,765.19 675.5,782.6 675.8,779.63 676.1,772.79 676.4,768.62 676.7,766.98 677,761.65 677.3,764.36 677.6,769.75 677.9,773.7 678.2,763.24 678.5,769.62 678.8,783.3 679.1,774.41 679.4,782.94 679.7,779.5 680,762.09 680.3,772.65 680.6,784.61 680.9,778.19 681.2,766.08 681.5,783.4 681.8,773.17 682.1,760.1 682.4,763.37 682.7,766.72 683,772.39 683.3,775.52 683.6,770.08 683.9,772.23 684.2,760.03 684.5,760.94 684.8,774.66 685.1,773.6 685.4,771.54 685.7,770.97 686,759.59 686.3,762.78 686.6,770.9 686.9,759.39 687.2,764.41 687.5,768.11 687.8,758.57 688.1,759.98 688.4,766.44 688.7,760.75 689,757.16 689.3,760.36 689.6,764.49 689.9,764.28 690.2,767.23 690.5,767.56 690.8,758.88 691.1,762.35 691.4,759.05 691.7,762.67 692,759.83 692.3,757.69 692.6,753.27 692.9,765.13 693.2,765.95 693.5,760.68 693.8,770.98 694.1,756.17 694.4,750.37 694.7,753.91 695,753.23 695.3,752 695.6,761.94 695.9,759.72 696.2,758.31 696.5,756.52 696.8,762.71 697.1,756.97 697.4,754.91 697.7,757.35 698,758.98 698.3,757.96 698.6,760.74 698.9,748.47 699.2,751.66 699.5,759.8 699.8,755.02 700.1,751.13 700.4,750.66 700.7,752.49 701,752.73 701.3,746.82 701.6,753.67 701.9,750.63 702.2,754.78 702.5,755.27 702.8,750.6 703.1,742.27 703.4,752.38 703.7,754.43 704,745.18 704.3,753.6 704.6,752.44 704.9,745.37 705.2,743.15 705.5,753.51 705.8,754.75 706.1,745.04 706.4,745.08 706.7,741.98 707,748.24 707.3,735.7 707.6,747.72 707.9,745.02 708.2,742.31 708.5,748.09 708.8,744.71 709.1,748.11 709.4,747.65 709.7,746.43 710,746.87 710.3,750.25 710.6,741.8 710.9,739.32 711.2,749.31 711.5,746.91 711.8,748.12 712.1,745.7 712.4,739.33 712.7,746.64 713,750.08 713.3,742.99 713.6,743.53 713.9,745.57 714.2,744.64 714.5,739.97 714.8,739.89 715.1,751.24 715.4,743.46 715.7,740.26 716,738.92 716.3,745.89 716.6,750.47 716.9,747.87 717.2,738.5 717.5,738.8 717.8,741.36 718.1,735.19 718.4,744.73 718.7,745.49 719,742.85 719.3,746.69 719.6,743.5 719.9,737.83 720.2,741.5 720.5,741.89 720.8,744.32 721.1,747.55 721.4,744.62 721.7,740.1 722,735.95 722.3,742.24 722.6,736.56 722.9,748.27 723.2,742.68 723.5,740.88 723.8,746.25 724.1,747.04 724.4,747.46 724.7,744.49 725,741.09 725.3,748.04 725.6,742.99 725.9,742.17 726.2,749.73 726.5,766.42 726.8,750.55 727.1,744.78 727.4,747 727.7,742.62 728,750.47 728.3,746.09 728.6,751.7 728.9,754.52 729.2,741.34 729.5,748.61 729.8,743.57 730.1,744.08 730.4,747.75 730.7,754.39 731,748.5 731.3,747.44 731.6,751.46 731.9,748.85 732.2,754.75 732.5,759.42 732.8,755.32 733.1,751.47 733.4,752.55 733.7,753.72 734,754.58 734.3,755.41 734.6,751.52 734.9,750.16 735.2,749.09 735.5,760.48 735.8,757.32 736.1,752.47 736.4,757.66 736.7,787.73 737,757.54 737.3,763.07 737.6,755.9 737.9,759 738.2,758.81 738.5,767.74 738.8,761.55 739.1,760.73 739.4,767.9 739.7,764.27 740,771.06 740.3,766 740.6,764.81 740.9,769.13 741.2,769.62 741.5,769.46 741.8,766 742.1,767.33 742.4,757.88 742.7,767.03 743,762.18 743.3,774.73 743.6,783.24 743.9,766.95 744.2,768.88 744.5,775.2 744.8,774.78 745.1,773.32 745.4,776.11 745.7,777.54 746,781.88 746.3,787.78 746.6,768.44 746.9,764.17 747.2,770.68 747.5,765.84 747.8,763.07 748.1,773.73 748.4,767.91 748.7,777.83 749,772.06 749.3,777.55 749.6,767.42 749.9,784.51 750.2,776.68 750.5,778.71 750.8,777.3 751.1,782.63 751.4,785.51 751.7,797.63 752,770.01 752.3,797.48 752.6,801.32 752.9,799.32 753.2,798.81 753.5,784.86 753.8,805.08 754.1,792.36 754.4,788.13 754.7,797.2 755,797.23 755.3,781.13 755.6,780.41 755.9,784.2 756.2,810.97 756.5,798.09 756.8,797.85 757.1,782.68 757.4,802.01 757.7,781.16 758,788.48 758.3,808.26 758.6,802.11 758.9,832.36 759.2,792.66 759.5,807.39 759.8,822.63 760.1,802.29 760.4,795.63 760.7,813.61 761,798.13 761.3,802.95 761.6,802.01 761.9,800.43 762.2,801.71 762.5,826.1 762.8,810.73 763.1,816.65 763.4,800.1 763.7,805.01 764,785.62 764.3,786.55 764.6,793.03 764.9,818.55 765.2,822.56 765.5,812.14 765.8,803.71 766.1,809.18 766.4,814.75 766.7,824.19 767,821.96 767.3,816.77 767.6,804.34 767.9,797.99 768.2,804.45 768.5,808.49 768.8,812.67 769.1,789.67 769.4,809.83 769.7,821.41 770,803.72 770.3,791.95 770.6,789.93 770.9,773.58 771.2,781.21 771.5,775.04 771.8,804.57 772.1,797 772.4,794.59 772.7,811.95 773,780.8 773.3,803.05 773.6,808.56 773.9,803.88 774.2,792.39 774.5,782.41 774.8,792.76 775.1,784.13 775.4,786.04 775.7,788.94 776,776.12 776.3,784.38 776.6,776.85 776.9,781.97 777.2,788.39 777.5,791.4 777.8,798.51 778.1,793.99 778.4,786.28 778.7,793.69 779,789.67 779.3,788.09 779.6,804.51 779.9,796.22 780.2,797.88 780.5,784.82 780.8,781.71 781.1,773.79 781.4,791.65 781.7,776 782,774.6 782.3,782.07 782.6,791.78 782.9,780.18 783.2,794.64 783.5,773.81 783.8,784.63 784.1,768.78 784.4,777.02 784.7,779.48 785,777.67 785.3,793.75 785.6,772.95 785.9,799.24 786.2,796.2 786.5,797.08 786.8,772.22 787.1,773.22 787.4,785.68 787.7,793.19 788,798.41 788.3,786.7 788.6,797.82 788.9,785.9 789.2,793.54 789.5,798.27 789.8,781.82 790.1,786.63 790.4,793.42 790.7,792.13 791,795.99 791.3,790.43 791.6,790.49 791.9,788.46 792.2,794.97 792.5,805.71 792.8,804.01 793.1,798.28 793.4,802.37 793.7,814.45 794,805.68 794.3,809.21 794.6,814.72 794.9,805.16 795.2,804.77 795.5,802.72 795.8,788.83 796.1,783.86 796.4,777.97 796.7,776.09 797,769.29 797.3,766.41 797.6,765.22 797.9,756.98 798.2,746.11 798.5,746.32 798.8,741.3 799.1,747.78 799.4,751.25 799.7,743.98 800,751.83 800.3,748.27 800.6,757.26 800.9,760.14 801.2,756.02 801.5,756.75 801.8,756.56 802.1,755.45 802.4,754.31 802.7,766.93 803,758.2 803.3,755.4 803.6,757.04 803.9,751.56 804.2,753.92 804.5,750.56 804.8,748.07 805.1,749.86 805.4,748.31 805.7,746.13 806,753.85 806.3,754.13 806.6,748.88 806.9,747.6 807.2,759.46 807.5,759.75 807.8,764.1 808.1,757.19 808.4,756.64 808.7,759.3 809,759.92 809.3,762.93 809.6,766.69 809.9,763.94 810.2,760.65 810.5,775.84 810.8,771.93 811.1,775.77 811.4,776.05 811.7,772.57 812,783.7 812.3,781.79 812.6,779.67 812.9,784.68 813.2,794.34 813.5,806.41 813.8,800.97 814.1,791.84 814.4,792.45 814.7,794.55 815,790.05 815.3,790.63 815.6,783.16 815.9,773.9 816.2,775.72 816.5,775.8 816.8,778.76 817.1,784.86 817.4,772.34 817.7,774.38 818,773.25 818.3,772.88 818.6,784.7 818.9,781.61 819.2,766.77 819.5,774.52 819.8,772.45 820.1,794.28 820.4,768.87 820.7,773.02 821,788.2 821.3,780.13 821.6,782.31 821.9,775.44 822.2,788.39 822.5,791.75 822.8,806 823.1,783.17 823.4,818.37 823.7,788.45 824,791.53 824.3,824.52" fill="none" stroke="#000" stroke-width="2.2" stroke-linejoin="round"/></g><rect x="200" y="478" width="714" height="344" fill="none" stroke="#000" stroke-width="2"/><path d="M201 804.5h3.5M913 804.5h-3.5M201 794.5h3.5M913 794.5h-3.5M201 787.5h3.5M913 787.5h-3.5M201 781.5h3.5M913 781.5h-3.5M201 777.5h3.5M913 777.5h-3.5M201 773.5h3.5M913 773.5h-3.5M201 770.5h3.5M913 770.5h-3.5M201 767.5h3.5M913 767.5h-3.5M201 764.5h5.5M913 764.5h-5.5M201 747.5h3.5M913 747.5h-3.5M201 737.5h3.5M913 737.5h-3.5M201 730.5h3.5M913 730.5h-3.5M201 724.5h3.5M913 724.5h-3.5M201 720.5h3.5M913 720.5h-3.5M201 716.5h3.5M913 716.5h-3.5M201 712.5h3.5M913 712.5h-3.5M201 709.5h3.5M913 709.5h-3.5M201 707.5h5.5M913 707.5h-5.5M201 690.5h3.5M913 690.5h-3.5M201 679.5h3.5M913 679.5h-3.5M201 672.5h3.5M913 672.5h-3.5M201 667.5h3.5M913 667.5h-3.5M201 662.5h3.5M913 662.5h-3.5M201 658.5h3.5M913 658.5h-3.5M201 655.5h3.5M913 655.5h-3.5M201 652.5h3.5M913 652.5h-3.5M201 650.5h5.5M913 650.5h-5.5M201 632.5h3.5M913 632.5h-3.5M201 622.5h3.5M913 622.5h-3.5M201 615.5h3.5M913 615.5h-3.5M201 609.5h3.5M913 609.5h-3.5M201 605.5h3.5M913 605.5h-3.5M201 601.5h3.5M913 601.5h-3.5M201 598.5h3.5M913 598.5h-3.5M201 595.5h3.5M913 595.5h-3.5M201 592.5h5.5M913 592.5h-5.5M201 575.5h3.5M913 575.5h-3.5M201 565.5h3.5M913 565.5h-3.5M201 558.5h3.5M913 558.5h-3.5M201 552.5h3.5M913 552.5h-3.5M201 548.5h3.5M913 548.5h-3.5M201 544.5h3.5M913 544.5h-3.5M201 540.5h3.5M913 540.5h-3.5M201 537.5h3.5M913 537.5h-3.5M201 535.5h5.5M913 535.5h-5.5M201 518.5h3.5M913 518.5h-3.5M201 507.5h3.5M913 507.5h-3.5M201 500.5h3.5M913 500.5h-3.5M201 495.5h3.5M913 495.5h-3.5M201 490.5h3.5M913 490.5h-3.5M201 486.5h3.5M913 486.5h-3.5M201 483.5h3.5M913 483.5h-3.5M201 480.5h3.5M913 480.5h-3.5M248.5 821v-4M337.5 821v-4M426.5 821v-4M516.5 821v-4M605.5 821v-4M694.5 821v-4M783.5 821v-4M873.5 821v-4" stroke="#000" stroke-width="1" fill="none"/><text x="161.17" y="829.8" font-size="20.6" fill="#000" textLength="24.14" lengthAdjust="spacingAndGlyphs">10</text><text x="186.23" y="822.9" font-size="14.4" fill="#000" textLength="7.88" lengthAdjust="spacingAndGlyphs">0</text><text x="161.17" y="772.47" font-size="20.6" fill="#000" textLength="24.14" lengthAdjust="spacingAndGlyphs">10</text><text x="185.63" y="765.57" font-size="14.4" fill="#000" textLength="8.69" lengthAdjust="spacingAndGlyphs">1</text><text x="161.17" y="715.13" font-size="20.6" fill="#000" textLength="24.14" lengthAdjust="spacingAndGlyphs">10</text><text x="186.05" y="708.23" font-size="14.4" fill="#000" textLength="8.31" lengthAdjust="spacingAndGlyphs">2</text><text x="161.17" y="657.8" font-size="20.6" fill="#000" textLength="24.14" lengthAdjust="spacingAndGlyphs">10</text><text x="186.23" y="650.9" font-size="14.4" fill="#000" textLength="7.96" lengthAdjust="spacingAndGlyphs">3</text><text x="161.17" y="600.47" font-size="20.6" fill="#000" textLength="24.14" lengthAdjust="spacingAndGlyphs">10</text><text x="186.53" y="593.57" font-size="14.4" fill="#000" textLength="7.49" lengthAdjust="spacingAndGlyphs">4</text><text x="161.17" y="543.13" font-size="20.6" fill="#000" textLength="24.14" lengthAdjust="spacingAndGlyphs">10</text><text x="186.23" y="536.23" font-size="14.4" fill="#000" textLength="7.96" lengthAdjust="spacingAndGlyphs">5</text><text x="161.17" y="485.8" font-size="20.6" fill="#000" textLength="24.14" lengthAdjust="spacingAndGlyphs">10</text><text x="186.07" y="478.9" font-size="14.4" fill="#000" textLength="8.13" lengthAdjust="spacingAndGlyphs">6</text><g transform="translate(114.5,0) rotate(-90)"><text x="-790.34" y="0" font-size="25.8" fill="#000" textLength="279.65" lengthAdjust="spacingAndGlyphs">&gt;2.0 MeV Electron Flux</text></g><g transform="translate(146.3,0) rotate(-90)"><text x="-744.58" y="0" font-size="25.8" fill="#000" textLength="8.8" lengthAdjust="spacingAndGlyphs">(</text><text x="-729.11" y="0" font-size="25.8" fill="#000" textLength="36.85" lengthAdjust="spacingAndGlyphs">cm</text><text x="-691.01" y="-10.5" font-size="17.57" fill="#000" textLength="23.02" lengthAdjust="spacingAndGlyphs">−2</text><text x="-661.76" y="0" font-size="25.8" fill="#000" textLength="12.64" lengthAdjust="spacingAndGlyphs">s</text><text x="-649" y="-10.5" font-size="17.57" fill="#000" textLength="22.91" lengthAdjust="spacingAndGlyphs">−1</text><text x="-619.8" y="0" font-size="25.8" fill="#000" textLength="22.29" lengthAdjust="spacingAndGlyphs">sr</text><text x="-597.03" y="-10.5" font-size="17.57" fill="#000" textLength="23.46" lengthAdjust="spacingAndGlyphs">−1</text><text x="-563.1" y="0" font-size="25.8" fill="#000" textLength="6.91" lengthAdjust="spacingAndGlyphs">)</text></g><text x="235.51" y="511.7" font-size="25.8" fill="#000" textLength="242.03" lengthAdjust="spacingAndGlyphs">Geostationary orbit:</text><text x="499.34" y="511.7" font-size="25.8" fill="#000" textLength="115.18" lengthAdjust="spacingAndGlyphs">GOES 14,</text><text x="628.49" y="511.7" font-size="25.8" fill="#f00" textLength="71.82" lengthAdjust="spacingAndGlyphs">Model</text><g clip-path="url(#cp3)"><rect x="199.05" y="997.89" width="8.9" height="19.11" fill="#008000"/><rect x="210.21" y="978.78" width="8.9" height="38.22" fill="#008000"/><rect x="221.37" y="985.08" width="8.9" height="31.92" fill="#008000"/><rect x="232.53" y="997.89" width="8.9" height="19.11" fill="#008000"/><rect x="243.69" y="991.58" width="8.9" height="25.42" fill="#008000"/><rect x="254.85" y="997.89" width="8.9" height="19.11" fill="#008000"/><rect x="266.01" y="997.89" width="8.9" height="19.11" fill="#008000"/><rect x="277.17" y="985.08" width="8.9" height="31.92" fill="#008000"/><rect x="288.33" y="997.89" width="8.9" height="19.11" fill="#008000"/><rect x="299.49" y="1004.2" width="8.9" height="12.8" fill="#008000"/><rect x="310.65" y="1004.2" width="8.9" height="12.8" fill="#008000"/><rect x="321.81" y="991.58" width="8.9" height="25.42" fill="#008000"/><rect x="332.97" y="991.58" width="8.9" height="25.42" fill="#008000"/><rect x="344.13" y="985.08" width="8.9" height="31.92" fill="#008000"/><rect x="355.29" y="991.58" width="8.9" height="25.42" fill="#008000"/><rect x="366.45" y="997.89" width="8.9" height="19.11" fill="#008000"/><rect x="377.61" y="1004.2" width="8.9" height="12.8" fill="#008000"/><rect x="388.77" y="991.58" width="8.9" height="25.42" fill="#008000"/><rect x="399.93" y="997.89" width="8.9" height="19.11" fill="#008000"/><rect x="411.09" y="1004.2" width="8.9" height="12.8" fill="#008000"/><rect x="422.25" y="1004.2" width="8.9" height="12.8" fill="#008000"/><rect x="433.41" y="1004.2" width="8.9" height="12.8" fill="#008000"/><rect x="444.57" y="991.58" width="8.9" height="25.42" fill="#008000"/><rect x="455.73" y="972.47" width="8.9" height="44.53" fill="#008000"/><rect x="466.89" y="965.97" width="8.9" height="51.03" fill="#008000"/><rect x="478.05" y="1004.2" width="8.9" height="12.8" fill="#008000"/><rect x="489.21" y="1004.2" width="8.9" height="12.8" fill="#008000"/><rect x="500.37" y="985.08" width="8.9" height="31.92" fill="#008000"/><rect x="511.53" y="1004.2" width="8.9" height="12.8" fill="#008000"/><rect x="533.85" y="997.89" width="8.9" height="19.11" fill="#008000"/><rect x="545.01" y="991.58" width="8.9" height="25.42" fill="#008000"/><rect x="556.17" y="1010.69" width="8.9" height="6.31" fill="#008000"/><rect x="567.33" y="1010.69" width="8.9" height="6.31" fill="#008000"/><rect x="578.49" y="1004.2" width="8.9" height="12.8" fill="#008000"/><rect x="589.65" y="1004.2" width="8.9" height="12.8" fill="#008000"/><rect x="600.81" y="1010.69" width="8.9" height="6.31" fill="#008000"/><rect x="611.97" y="991.58" width="8.9" height="25.42" fill="#008000"/><rect x="623.13" y="991.58" width="8.9" height="25.42" fill="#008000"/><rect x="634.29" y="1010.69" width="8.9" height="6.31" fill="#008000"/><rect x="645.45" y="1010.69" width="8.9" height="6.31" fill="#008000"/><rect x="690.09" y="1010.69" width="8.9" height="6.31" fill="#008000"/><rect x="701.25" y="1004.2" width="8.9" height="12.8" fill="#008000"/><rect x="712.41" y="1010.69" width="8.9" height="6.31" fill="#008000"/><rect x="723.57" y="1010.69" width="8.9" height="6.31" fill="#008000"/><rect x="734.73" y="1010.69" width="8.9" height="6.31" fill="#008000"/><rect x="745.89" y="991.58" width="8.9" height="25.42" fill="#008000"/><rect x="757.05" y="991.58" width="8.9" height="25.42" fill="#008000"/><rect x="768.21" y="946.86" width="8.9" height="70.14" fill="#bfbf00"/><rect x="779.37" y="959.67" width="8.9" height="57.33" fill="#bfbf00"/><rect x="790.53" y="934.25" width="8.9" height="82.75" fill="#bfbf00"/><rect x="801.69" y="940.56" width="8.9" height="76.44" fill="#bfbf00"/><rect x="812.85" y="940.56" width="8.9" height="76.44" fill="#bfbf00"/><rect x="824.01" y="940.56" width="8.9" height="76.44" fill="#bfbf00"/><rect x="835.17" y="940.56" width="8.9" height="76.44" fill="#bfbf00"/><rect x="846.33" y="940.56" width="8.9" height="76.44" fill="#bfbf00"/><rect x="857.49" y="940.56" width="8.9" height="76.44" fill="#bfbf00"/><rect x="868.65" y="940.56" width="8.9" height="76.44" fill="#bfbf00"/><rect x="879.81" y="940.56" width="8.9" height="76.44" fill="#bfbf00"/><rect x="890.97" y="940.56" width="8.9" height="76.44" fill="#bfbf00"/><rect x="902.13" y="940.56" width="8.9" height="76.44" fill="#bfbf00"/></g><g transform="translate(875.6,0) rotate(-90)"><text x="-1002.14" y="0" font-size="33" fill="#000" textLength="133.19" lengthAdjust="spacingAndGlyphs" fill-opacity="0.13">Forecast</text></g><line x1="824.75" y1="846" x2="824.75" y2="1016" stroke="#1f77b4" stroke-width="2" stroke-dasharray="2 3.5"/><rect x="207.5" y="852.5" width="87.5" height="66.3" rx="3" fill="#fff" fill-opacity="0.8" stroke="#cccccc" stroke-width="1"/><rect x="213" y="859.3" width="27.8" height="10.3" fill="#008000"/><text x="251.21" y="868.9" font-size="14.6" fill="#000" textLength="38.25" lengthAdjust="spacingAndGlyphs">Kp&lt;3</text><rect x="213" y="880.3" width="27.8" height="10.3" fill="#bfbf00"/><text x="251.21" y="889.9" font-size="14.6" fill="#000" textLength="38.25" lengthAdjust="spacingAndGlyphs">Kp&lt;5</text><rect x="213" y="901.3" width="27.8" height="10.3" fill="#ff0000"/><text x="251.21" y="910.9" font-size="14.6" fill="#000" textLength="38.25" lengthAdjust="spacingAndGlyphs">Kp&gt;5</text><rect x="200" y="845" width="714" height="172" fill="none" stroke="#000" stroke-width="2"/><path d="M201 978.5h5.5M913 978.5h-5.5M201 940.5h5.5M913 940.5h-5.5M201 902.5h5.5M913 902.5h-5.5M201 864.5h5.5M913 864.5h-5.5M248.5 1016v-4M337.5 1016v-4M426.5 1016v-4M516.5 1016v-4M605.5 1016v-4M694.5 1016v-4M783.5 1016v-4M873.5 1016v-4" stroke="#000" stroke-width="1" fill="none"/><text x="183.76" y="1024.8" font-size="20.6" fill="#000" textLength="11.38" lengthAdjust="spacingAndGlyphs">0</text><text x="184.47" y="986.58" font-size="20.6" fill="#000" textLength="10.93" lengthAdjust="spacingAndGlyphs">2</text><text x="183.69" y="948.36" font-size="20.6" fill="#000" textLength="11.35" lengthAdjust="spacingAndGlyphs">4</text><text x="183.53" y="910.13" font-size="20.6" fill="#000" textLength="11.74" lengthAdjust="spacingAndGlyphs">6</text><text x="183.64" y="871.91" font-size="20.6" fill="#000" textLength="11.62" lengthAdjust="spacingAndGlyphs">8</text><g transform="translate(172.8,0) rotate(-90)"><text x="-949.41" y="0" font-size="25.8" fill="#000" textLength="29.13" lengthAdjust="spacingAndGlyphs">Kp</text></g><text x="236.1" y="1036.9" font-size="20.6" fill="#000" textLength="23.8" lengthAdjust="spacingAndGlyphs">18</text><text x="325.4" y="1036.9" font-size="20.6" fill="#000" textLength="23.81" lengthAdjust="spacingAndGlyphs">19</text><text x="414.79" y="1036.9" font-size="20.6" fill="#000" textLength="23.84" lengthAdjust="spacingAndGlyphs">20</text><text x="504.3" y="1036.9" font-size="20.6" fill="#000" textLength="23.54" lengthAdjust="spacingAndGlyphs">21</text><text x="593.65" y="1036.9" font-size="20.6" fill="#000" textLength="23.44" lengthAdjust="spacingAndGlyphs">22</text><text x="682.7" y="1036.9" font-size="20.6" fill="#000" textLength="23.64" lengthAdjust="spacingAndGlyphs">23</text><text x="771.69" y="1036.9" font-size="20.6" fill="#000" textLength="23.93" lengthAdjust="spacingAndGlyphs">24</text><text x="861.25" y="1036.9" font-size="20.6" fill="#000" textLength="23.53" lengthAdjust="spacingAndGlyphs">25</text><text x="444.79" y="1065.8" font-size="25.8" fill="#000" textLength="224.37" lengthAdjust="spacingAndGlyphs">October 2019 (UT)</text><line x1="1206" y1="282.5" x2="1799" y2="282.5" stroke="#000" stroke-width="2" stroke-dasharray="2 3.4"/><line x1="1725.62" y1="111" x2="1725.62" y2="454" stroke="#1f77b4" stroke-width="2" stroke-dasharray="2 3.5"/><g clip-path="url(#cp4)"><path d="M1205.5,279.69 1205.75,278.35 1206,282.69 1206.25,277.91 1206.5,283.87 1206.75,279.02 1207,284.37 1207.25,274.43 1207.5,281.79 1207.75,279.24 1208,277.56 1208.25,276.85 1208.5,278.39 1208.75,280.91 1209,283.42 1209.25,277.22 1209.5,271.61 1209.75,279.76 1210,274.91 1210.25,280.69 1210.5,274.01 1210.75,278.71 1211,280.46 1211.25,281.73 1211.5,282.32 1211.75,286.28 1212,287.6 1212.25,293.73 1212.5,293.81 1212.75,291.9 1213,298.99 1213.25,297.27 1213.5,305.83 1213.75,307.98 1214,311.51 1214.25,308.5 1214.5,301.8 1214.75,312.28 1215,306.89 1215.25,301.09 1215.5,309.85 1215.75,301.64 1216,307.44 1216.25,316.71 1216.5,306.8 1216.75,305.17 1217,303.96 1217.25,317.77 1217.5,298.49 1217.75,297.36 1218,303.92 1218.25,302.37 1218.5,297.12 1218.75,304.26 1219,303.96 1219.25,290.88 1219.5,292.21 1219.75,293.16 1220,296.92 1220.25,302.68 1220.5,287.83 1220.75,296.59 1221,301.44 1221.25,297.34 1221.5,293.84 1221.75,289.28 1222,291.83 1222.25,299.29 1222.5,300.71 1222.75,297.06 1223,294.94 1223.25,293.3 1223.5,298.73 1223.75,292.29 1224,297.34 1224.25,295.07 1224.5,300.08 1224.75,294.63 1225,296.42 1225.25,292.04 1225.5,316.73 1225.75,291.65 1226,294.05 1226.25,293.6 1226.5,295.7 1226.75,296.46 1227,289.98 1227.25,296 1227.5,291.22 1227.75,288.39 1228,286.45 1228.25,294.57 1228.5,291.09 1228.75,290.35 1229,288.32 1229.25,281.85 1229.5,283.19 1229.75,283.28 1230,285.3 1230.25,291.17 1230.5,302.12 1230.75,285.87 1231,291.72 1231.25,299.49 1231.5,285.29 1231.75,292.6 1232,290.38 1232.25,293.07 1232.5,293.18 1232.75,289.3 1233,295.07 1233.25,292.67 1233.5,287.69 1233.75,291.58 1234,289.09 1234.25,290.81 1234.5,291.06 1234.75,279.11 1235,280.04 1235.25,283.68 1235.5,278.58 1235.75,277.12 1236,280.13 1236.25,277.38 1236.5,288.5 1236.75,267.34 1237,267.73 1237.25,266.38 1237.5,267.12 1237.75,267.51 1238,261.35 1238.25,258.67 1238.5,267.69 1238.75,265.62 1239,256.79 1239.25,273 1239.5,276.14 1239.75,275.03 1240,280.62 1240.25,277.64 1240.5,282.39 1240.75,282.72 1241,289.6 1241.25,293.26 1241.5,294.86 1241.75,296.64 1242,295.01 1242.25,303.24 1242.5,295.56 1242.75,291.26 1243,292.95 1243.25,287.18 1243.5,295.24 1243.75,290.28 1244,283.06 1244.25,293.76 1244.5,289.09 1244.75,287.15 1245,280.65 1245.25,279.81 1245.5,280.5 1245.75,277.6 1246,284.58 1246.25,279.09 1246.5,281.25 1246.75,277.38 1247,277.15 1247.25,269.66 1247.5,265.8 1247.75,270.71 1248,264.83 1248.25,269.17 1248.5,270.1 1248.75,274.84 1249,270.95 1249.25,275.07 1249.5,265.39 1249.75,270.49 1250,272.42 1250.25,279.99 1250.5,272.4 1250.75,278.59 1251,270.34 1251.25,280.76 1251.5,290.95 1251.75,288.21 1252,278.09 1252.25,284.39 1252.5,279.12 1252.75,287.82 1253,279.58 1253.25,283.06 1253.5,282.7 1253.75,282.36 1254,281.8 1254.25,280.25 1254.5,279.11 1254.75,273.98 1255,282.48 1255.25,284.38 1255.5,280.85 1255.75,279.99 1256,279.27 1256.25,282.59 1256.5,280.78 1256.75,279.25 1257,282.12 1257.25,274.68 1257.5,276.86 1257.75,278.12 1258,281.13 1258.25,277.24 1258.5,270.88 1258.75,271.21 1259,269.16 1259.25,260.6 1259.5,269.95 1259.75,265 1260,263.83 1260.25,268.23 1260.5,262.08 1260.75,275.3 1261,268.27 1261.25,265.24 1261.5,269.33 1261.75,267.56 1262,262.75 1262.25,263.59 1262.5,276.88 1262.75,280.87 1263,284.61 1263.25,285.57 1263.5,277.22 1263.75,286.42 1264,285.46 1264.25,285 1264.5,295.66 1264.75,290.06 1265,293.25 1265.25,297.6 1265.5,287.15 1265.75,286.81 1266,285.25 1266.25,290.13 1266.5,296.99 1266.75,302.17 1267,297.51 1267.25,299.9 1267.5,294.79 1267.75,297.71 1268,295.1 1268.25,300.1 1268.5,289.58 1268.75,298.79 1269,300.43 1269.25,307.35 1269.5,306.51 1269.75,308.86 1270,309.8 1270.25,312.53 1270.5,315.88 1270.75,312.95 1271,307.91 1271.25,309.69 1271.5,300.31 1271.75,310.17 1272,300.52 1272.25,299.02 1272.5,301.08 1272.75,302.51 1273,296.41 1273.25,305.35 1273.5,304.34 1273.75,299.55 1274,293.98 1274.25,299.85 1274.5,302.94 1274.75,296.96 1275,295.15 1275.25,298.94 1275.5,296.22 1275.75,299.89 1276,289.79 1276.25,291.89 1276.5,288.72 1276.75,291.44 1277,291.34 1277.25,281.09 1277.5,292.07 1277.75,294.28 1278,294.63 1278.25,296.02 1278.5,291.25 1278.75,289.27 1279,285.87 1279.25,289.4 1279.5,286.23 1279.75,288.46 1280,285.41 1280.25,291.52 1280.5,286.94 1280.75,289.51 1281,282.8 1281.25,278.75 1281.5,276.41 1281.75,287.51 1282,285.23 1282.25,277.01 1282.5,270.79 1282.75,277.17 1283,279.71 1283.25,278.89 1283.5,275.27 1283.75,277.22 1284,271.39 1284.25,281.13 1284.5,272.55 1284.75,275.72 1285,268.04 1285.25,275.61 1285.5,275.97 1285.75,272.78 1286,271.42 1286.25,267.52 1286.5,270.13 1286.75,272.14 1287,272.16 1287.25,275.12 1287.5,274.22 1287.75,267.33 1288,271.2 1288.25,275.4 1288.5,272.09 1288.75,265.94 1289,263.43 1289.25,265.36 1289.5,265.87 1289.75,270.33 1290,262.49 1290.25,270.31 1290.5,267.03 1290.75,264.41 1291,268.5 1291.25,268.06 1291.5,261.28 1291.75,264.37 1292,262.58 1292.25,262.08 1292.5,267.76 1292.75,267.35 1293,267.27 1293.25,266.27 1293.5,268.94 1293.75,267.41 1294,263.22 1294.25,269.55 1294.5,257.43 1294.75,264.55 1295,269.93 1295.25,266.49 1295.5,260.77 1295.75,265.06 1296,265.35 1296.25,265.19 1296.5,269.76 1296.75,260.68 1297,272.13 1297.25,266.24 1297.5,268.36 1297.75,268.99 1298,269.25 1298.25,270.25 1298.5,264.48 1298.75,265.02 1299,265.71 1299.25,267.95 1299.5,259.55 1299.75,249.42 1300,256.84 1300.25,252.84 1300.5,258.55 1300.75,258.99 1301,250.49 1301.25,258.44 1301.5,265.48 1301.75,264.75 1302,273.36 1302.25,277.36 1302.5,282.65 1302.75,289.16 1303,286.73 1303.25,297.62 1303.5,300.16 1303.75,305.82 1304,306.63 1304.25,308.92 1304.5,309.94 1304.75,302.02 1305,300.81 1305.25,303.23 1305.5,307.41 1305.75,309.06 1306,312.81 1306.25,309.44 1306.5,315.23 1306.75,310.94 1307,311.7 1307.25,314.59 1307.5,309.62 1307.75,306.52 1308,309.69 1308.25,314.22 1308.5,315.79 1308.75,317.96 1309,315.87 1309.25,315.34 1309.5,313.61 1309.75,306.92 1310,307.72 1310.25,317.72 1310.5,309.51 1310.75,307.46 1311,320.91 1311.25,300.43 1311.5,315.43 1311.75,320.28 1312,309.74 1312.25,311.6 1312.5,310.1 1312.75,305.25 1313,313.59 1313.25,309.91 1313.5,310.45 1313.75,315.2 1314,306.79 1314.25,307.26 1314.5,303.56 1314.75,302.9 1315,311.44 1315.25,314.93 1315.5,315.79 1315.75,312.89 1316,311.06 1316.25,304.78 1316.5,300.6 1316.75,298.05 1317,303 1317.25,313.98 1317.5,307.14 1317.75,311.04 1318,314.19 1318.25,311.19 1318.5,308.8 1318.75,300.4 1319,304.78 1319.25,311.66 1319.5,299.26 1319.75,306.26 1320,305.92 1320.25,301.56 1320.5,307.72 1320.75,317.55 1321,306.16 1321.25,290.7 1321.5,300.53 1321.75,300.66 1322,295.46 1322.25,299.62 1322.5,298.98 1322.75,297.52 1323,302.74 1323.25,295.77 1323.5,301.48 1323.75,291.76 1324,291.52 1324.25,306.39 1324.5,305.05 1324.75,293.18 1325,299.43 1325.25,304.6 1325.5,302.29 1325.75,301.69 1326,297.02 1326.25,292.51 1326.5,300.52 1326.75,284.48 1327,304.15 1327.25,292.75 1327.5,286.97 1327.75,291.56 1328,299.94 1328.25,291.14 1328.5,289.3 1328.75,295.97 1329,296.42 1329.25,307.12 1329.5,294.45 1329.75,296.15 1330,284.47 1330.25,301.47 1330.5,289.2 1330.75,291.63 1331,295.96 1331.25,295.98 1331.5,296.45 1331.75,303.93 1332,302.39 1332.25,300.04 1332.5,305.63 1332.75,291.57 1333,293.95 1333.25,294.59 1333.5,311.11 1333.75,302.65 1334,292.41 1334.25,295.35 1334.5,295.71 1334.75,305 1335,290.6 1335.25,304.8 1335.5,306.63 1335.75,305.2 1336,310.49 1336.25,312.76 1336.5,323.01 1336.75,323.05 1337,318.88 1337.25,316.8 1337.5,311.6 1337.75,316.55 1338,313 1338.25,308.88 1338.5,302.73 1338.75,308.31 1339,293.24 1339.25,304.57 1339.5,298.06 1339.75,303.84 1340,298.84 1340.25,298.82 1340.5,288.88 1340.75,297.45 1341,293.11 1341.25,282.29 1341.5,290.42 1341.75,285.35 1342,284.47 1342.25,276.89 1342.5,284.53 1342.75,288.72 1343,285.85 1343.25,284.78 1343.5,286.61 1343.75,285.59 1344,287.93 1344.25,275.4 1344.5,278.4 1344.75,282.43 1345,283.03 1345.25,276.1 1345.5,281.82 1345.75,281.43 1346,279.36 1346.25,281.1 1346.5,276.18 1346.75,282.74 1347,279.91 1347.25,285.64 1347.5,284.04 1347.75,282.74 1348,284.87 1348.25,280.42 1348.5,282.53 1348.75,286.85 1349,276.73 1349.25,280.51 1349.5,281.06 1349.75,274.46 1350,273.89 1350.25,279.03 1350.5,286.46 1350.75,274.98 1351,276.36 1351.25,280.08 1351.5,274.57 1351.75,279.63 1352,280.75 1352.25,271.78 1352.5,273.86 1352.75,272.4 1353,272.99 1353.25,278.12 1353.5,276.09 1353.75,273.54 1354,273.5 1354.25,282.14 1354.5,278.53 1354.75,274.68 1355,276.84 1355.25,272.2 1355.5,263.94 1355.75,268.97 1356,259.93 1356.25,265.9 1356.5,271.95 1356.75,270.66 1357,263.58 1357.25,274.09 1357.5,271.08 1357.75,265.19 1358,268.18 1358.25,274.45 1358.5,261.04 1358.75,264.46 1359,261.23 1359.25,270.25 1359.5,264.12 1359.75,268.87 1360,264.58 1360.25,283.2 1360.5,271.2 1360.75,272.99 1361,270.34 1361.25,260.58 1361.5,258.33 1361.75,263.83 1362,272 1362.25,259 1362.5,265.26 1362.75,259.7 1363,262.3 1363.25,255.07 1363.5,263.78 1363.75,268.24 1364,268.58 1364.25,262.27 1364.5,261.95 1364.75,257.02 1365,256.04 1365.25,257.1 1365.5,264.64 1365.75,268.25 1366,269.51 1366.25,264.49 1366.5,266.34 1366.75,280.14 1367,270.11 1367.25,275.88 1367.5,287.21 1367.75,277.06 1368,282.92 1368.25,281.12 1368.5,273.79 1368.75,287.16 1369,298.28 1369.25,292.12 1369.5,287.31 1369.75,289.02 1370,297.8 1370.25,297.63 1370.5,289.93 1370.75,316.96 1371,308.87 1371.25,306.32 1371.5,309.99 1371.75,306.32 1372,300.72 1372.25,296.02 1372.5,310.69 1372.75,308.7 1373,308.87 1373.25,308.77 1373.5,307.09 1373.75,323.64 1374,313.52 1374.25,304.26 1374.5,308.26 1374.75,312.71 1375,307.67 1375.25,308.96 1375.5,308 1375.75,314.17 1376,314.56 1376.25,314.98 1376.5,312.8 1376.75,302.12 1377,310.99 1377.25,310.98 1377.5,310.6 1377.75,311.18 1378,312.33 1378.25,312.89 1378.5,313.48 1378.75,310.31 1379,301.55 1379.25,310.4 1379.5,312.38 1379.75,313.39 1380,315.07 1380.25,314.78 1380.5,304.61 1380.75,306.28 1381,310.61 1381.25,302.13 1381.5,308.42 1381.75,303.85 1382,303.41 1382.25,306.73 1382.5,303.22 1382.75,311.29 1383,317.25 1383.25,305.2 1383.5,308.02 1383.75,310.55 1384,302.87 1384.25,306.04 1384.5,305.81 1384.75,307.6 1385,311.31 1385.25,294.08 1385.5,299.06 1385.75,303.85 1386,299.84 1386.25,300.53 1386.5,305.28 1386.75,300.77 1387,295.2 1387.25,294.8 1387.5,301.72 1387.75,291.23 1388,284.95 1388.25,291.69 1388.5,293.96 1388.75,280.93 1389,280.45 1389.25,295.35 1389.5,289.97 1389.75,295.08 1390,289.01 1390.25,290.63 1390.5,284.28 1390.75,286.41 1391,279.93 1391.25,279.9 1391.5,285.13 1391.75,285.69 1392,275.02 1392.25,284.76 1392.5,281.1 1392.75,284.38 1393,286.65 1393.25,277.28 1393.5,279.16 1393.75,287.59 1394,279.19 1394.25,284.86 1394.5,277.31 1394.75,287.5 1395,280.62 1395.25,280.98 1395.5,282.46 1395.75,282.96 1396,278.76 1396.25,282.83 1396.5,287.21 1396.75,276.98 1397,284.15 1397.25,277.88 1397.5,283.31 1397.75,290.55 1398,279.69 1398.25,278.97 1398.5,286.12 1398.75,277.03 1399,283.5 1399.25,285.17 1399.5,280.66 1399.75,280.31 1400,282.72 1400.25,286 1400.5,282.81 1400.75,280 1401,279.74 1401.25,288.62 1401.5,278.36 1401.75,276.05 1402,284.09 1402.25,282.55 1402.5,277.11 1402.75,283.48 1403,283.32 1403.25,284.82 1403.5,280.64 1403.75,282.31 1404,278.17 1404.25,285.94 1404.5,290.25 1404.75,289.62 1405,288.28 1405.25,286.25 1405.5,283.03 1405.75,294.28 1406,296.16 1406.25,292.81 1406.5,297.02 1406.75,297.08 1407,299.85 1407.25,288.93 1407.5,293.13 1407.75,292.62 1408,301.25 1408.25,293.34 1408.5,303.64 1408.75,297.81 1409,289.93 1409.25,297.43 1409.5,292 1409.75,294.57 1410,299.26 1410.25,297.53 1410.5,305.05 1410.75,303.76 1411,297.21 1411.25,302.52 1411.5,295.76 1411.75,303.62 1412,301.07 1412.25,298.93 1412.5,307.79 1412.75,308.92 1413,307.16 1413.25,312.07 1413.5,305.94 1413.75,305.2 1414,312.21 1414.25,307.63 1414.5,305.08 1414.75,312.7 1415,314.67 1415.25,312.94 1415.5,316.99 1415.75,310.49 1416,322.59 1416.25,317.12 1416.5,323.65 1416.75,320.74 1417,330.02 1417.25,317.22 1417.5,317.05 1417.75,313.33 1418,311.04 1418.25,308.14 1418.5,307.67 1418.75,298.7 1419,289.52 1419.25,296.5 1419.5,291.24 1419.75,288.21 1420,290.29 1420.25,278.52 1420.5,298.56 1420.75,279.14 1421,271.93 1421.25,273.13 1421.5,266.71 1421.75,265.91 1422,263.48 1422.25,252.4 1422.5,267.07 1422.75,267.25 1423,259.86 1423.25,257.23 1423.5,265.85 1423.75,265.07 1424,262.79 1424.25,261.8 1424.5,265.7 1424.75,266.2 1425,266.11 1425.25,261.22 1425.5,265.38 1425.75,267.24 1426,267.2 1426.25,270.99 1426.5,268.7 1426.75,261.12 1427,269.87 1427.25,271.91 1427.5,269.78 1427.75,260.72 1428,262.69 1428.25,267.99 1428.5,263.22 1428.75,269.85 1429,271.23 1429.25,268.67 1429.5,269.75 1429.75,266.95 1430,267.86 1430.25,266.74 1430.5,265.56 1430.75,269.27 1431,268.93 1431.25,276.14 1431.5,271.21 1431.75,271.75 1432,266.79 1432.25,264.85 1432.5,264.99 1432.75,272.39 1433,269.89 1433.25,266.98 1433.5,263.96 1433.75,267.67 1434,268.34 1434.25,264.59 1434.5,266.38 1434.75,268.67 1435,266.75 1435.25,274.62 1435.5,279.87 1435.75,265.68 1436,271.75 1436.25,273.09 1436.5,271.48 1436.75,268.18 1437,272.93 1437.25,267.53 1437.5,281.21 1437.75,273.33 1438,267.29 1438.25,259.23 1438.5,264.57 1438.75,258.82 1439,256.1 1439.25,260.97 1439.5,248.72 1439.75,262.59 1440,267.59 1440.25,256.49 1440.5,255.87 1440.75,255.68 1441,249.58 1441.25,243.46 1441.5,250.06 1441.75,247.37 1442,235.86 1442.25,242.86 1442.5,248.82 1442.75,248.45 1443,245.73 1443.25,246.68 1443.5,241.02 1443.75,239.68 1444,237.98 1444.25,245.06 1444.5,244.63 1444.75,249.12 1445,245.15 1445.25,255.26 1445.5,246.38 1445.75,246.74 1446,247.01 1446.25,248.04 1446.5,254.18 1446.75,264.03 1447,250.71 1447.25,254.01 1447.5,256.97 1447.75,251.8 1448,253.65 1448.25,252.16 1448.5,255.43 1448.75,258.8 1449,256.77 1449.25,262.86 1449.5,261.72 1449.75,257.89 1450,268.08 1450.25,279.18 1450.5,271.92 1450.75,273.33 1451,276.03 1451.25,269.49 1451.5,286.32 1451.75,276.04 1452,286.57 1452.25,283.38 1452.5,286.16 1452.75,299.59 1453,288.91 1453.25,299.18 1453.5,302.95 1453.75,300.45 1454,299.94 1454.25,298.62 1454.5,303.87 1454.75,312.07 1455,313.22 1455.25,308.85 1455.5,321.57 1455.75,302.35 1456,310.01 1456.25,294.62 1456.5,297.78 1456.75,300.58 1457,295.2 1457.25,285.29 1457.5,292.12 1457.75,286.28 1458,279.72 1458.25,281.22 1458.5,274.36 1458.75,269.18 1459,267.85 1459.25,274.32 1459.5,260.56 1459.75,257.98 1460,260.31 1460.25,261.04 1460.5,248.97 1460.75,253.93 1461,250.01 1461.25,246.89 1461.5,246.69 1461.75,247.54 1462,252.09 1462.25,253.98 1462.5,247.74 1462.75,253.63 1463,255.42 1463.25,250.73 1463.5,253.58 1463.75,247.6 1464,250.21 1464.25,256.31 1464.5,256.01 1464.75,256.81 1465,257.28 1465.25,254.53 1465.5,258.45 1465.75,261.2 1466,263.61 1466.25,258.69 1466.5,258.43 1466.75,261.51 1467,258.4 1467.25,261.67 1467.5,261.57 1467.75,259.71 1468,259.14 1468.25,267.63 1468.5,261.49 1468.75,262.04 1469,268.16 1469.25,260.16 1469.5,268.96 1469.75,284 1470,265.38 1470.25,265.47 1470.5,269.64 1470.75,259.65 1471,264.03 1471.25,270.11 1471.5,262.21 1471.75,266.24 1472,267.34 1472.25,274.46 1472.5,270.08 1472.75,258.29 1473,267.91 1473.25,267.95 1473.5,269.27 1473.75,269.09 1474,272.44 1474.25,271.01 1474.5,272.38 1474.75,268.08 1475,264.66 1475.25,278.71 1475.5,269.43 1475.75,274.9 1476,267.29 1476.25,274.43 1476.5,276.57 1476.75,269.81 1477,272.3 1477.25,274.7 1477.5,271.67 1477.75,275.86 1478,273.68 1478.25,285.42 1478.5,265.68 1478.75,277.57 1479,273.19 1479.25,277.17 1479.5,277.88 1479.75,277.91 1480,278.47 1480.25,275.14 1480.5,278.87 1480.75,282.41 1481,281.12 1481.25,282.71 1481.5,285.47 1481.75,275.45 1482,282.44 1482.25,285.18 1482.5,281.1 1482.75,277.74 1483,286.16 1483.25,287.16 1483.5,287.6 1483.75,285.37 1484,298.11 1484.25,284.23 1484.5,288.74 1484.75,282.55 1485,282.75 1485.25,287.21 1485.5,283.26 1485.75,288.22 1486,279.91 1486.25,286.77 1486.5,282.87 1486.75,284.09 1487,281.13 1487.25,285.64 1487.5,286.01 1487.75,283 1488,287.39 1488.25,286.11 1488.5,286.27 1488.75,277.05 1489,273.15 1489.25,275.63 1489.5,277.63 1489.75,280.24 1490,276.3 1490.25,279.72 1490.5,282.13 1490.75,280.96 1491,286.36 1491.25,280.67 1491.5,283.23 1491.75,282.74 1492,273.21 1492.25,278.59 1492.5,275.47 1492.75,274.58 1493,278.82 1493.25,282.38 1493.5,278.6 1493.75,283.3 1494,282.1 1494.25,275.6 1494.5,278.97 1494.75,289.14 1495,274.98 1495.25,285.38 1495.5,285.79 1495.75,286.01 1496,281.31 1496.25,281.25 1496.5,285.88 1496.75,283.66 1497,286.98 1497.25,288.93 1497.5,284.15 1497.75,288.04 1498,280.75 1498.25,286.69 1498.5,288.61 1498.75,283.48 1499,288.59 1499.25,286.06 1499.5,287.43 1499.75,288.08 1500,287.62 1500.25,288.19 1500.5,287.36 1500.75,288.55 1501,286.49 1501.25,282.8 1501.5,278.11 1501.75,279.96 1502,280.47 1502.25,281.25 1502.5,273.83 1502.75,268.34 1503,275.95 1503.25,264.01 1503.5,275.43 1503.75,269.66 1504,265.61 1504.25,260.36 1504.5,265.75 1504.75,268.89 1505,263.19 1505.25,264.63 1505.5,266.2 1505.75,276.48 1506,266.19 1506.25,269.44 1506.5,268.5 1506.75,274.53 1507,270.37 1507.25,265.44 1507.5,260.3 1507.75,272.72 1508,268.17 1508.25,277 1508.5,272.87 1508.75,266.19 1509,266.91 1509.25,266.03 1509.5,262.42 1509.75,268.54 1510,281.45 1510.25,267.65 1510.5,268.34 1510.75,273.32 1511,270.79 1511.25,268.81 1511.5,274.1 1511.75,273.75 1512,271.39 1512.25,260.37 1512.5,270.75 1512.75,272.72 1513,256.3 1513.25,267.44 1513.5,270.4 1513.75,262.72 1514,265.58 1514.25,263.14 1514.5,270.16 1514.75,264.53 1515,265.18 1515.25,269.78 1515.5,273.53 1515.75,262.81 1516,264.29 1516.25,272.53 1516.5,267.32 1516.75,267.02 1517,267.81 1517.25,260.08 1517.5,259.86 1517.75,261.56 1518,259.24 1518.25,264.41 1518.5,264.34 1518.75,264.19 1519,266.63 1519.25,267.29 1519.5,269.54 1519.75,259.12 1520,267.72 1520.25,270.7 1520.5,269.32 1520.75,273.84 1521,274 1521.25,283.72 1521.5,279.78 1521.75,279.29 1522,284.62 1522.25,289.54 1522.5,287.66 1522.75,289.56 1523,287.08 1523.25,281.99 1523.5,290.08 1523.75,290.71 1524,309.97 1524.25,291.68 1524.5,302.31 1524.75,315.94 1525,303.67 1525.25,301.38 1525.5,299.46 1525.75,304.71 1526,301.95 1526.25,300.81 1526.5,302.96 1526.75,289.7 1527,296.48 1527.25,304.01 1527.5,302.33 1527.75,308.68 1528,301.81 1528.25,287.32 1528.5,304.78 1528.75,281.84 1529,297.19 1529.25,298.36 1529.5,292.8 1529.75,297.15 1530,297.5 1530.25,297.16 1530.5,287.06 1530.75,287.94 1531,299 1531.25,291.38 1531.5,279.84 1531.75,276.24 1532,276.92 1532.25,273.18 1532.5,274.78 1532.75,268.8 1533,273.58 1533.25,268.45 1533.5,263.08 1533.75,263.84 1534,273.1 1534.25,258.32 1534.5,265.04 1534.75,265.87 1535,255.29 1535.25,257.32 1535.5,260.57 1535.75,255.01 1536,252.12 1536.25,257.08 1536.5,249.61 1536.75,253.86 1537,252.7 1537.25,250.29 1537.5,254.48 1537.75,249.51 1538,256.76 1538.25,249.58 1538.5,247.5 1538.75,260.49 1539,256.85 1539.25,250.78 1539.5,250.69 1539.75,253.65 1540,257.26 1540.25,253.17 1540.5,251.64 1540.75,252.45 1541,237.64 1541.25,253.02 1541.5,260.38 1541.75,265.01 1542,253.52 1542.25,261.6 1542.5,255.92 1542.75,257.57 1543,258.34 1543.25,256.73 1543.5,265.19 1543.75,262.89 1544,265.37 1544.25,276.73 1544.5,285.15 1544.75,296.45 1545,293.96 1545.25,300.95 1545.5,298.97 1545.75,299.81 1546,291.08 1546.25,294.75 1546.5,294.51 1546.75,303.63 1547,301.06 1547.25,294.14 1547.5,290.88 1547.75,303.23 1548,306.12 1548.25,293.49 1548.5,289.15 1548.75,296.44 1549,305.19 1549.25,299.39 1549.5,290.7 1549.75,314.2 1550,290.71 1550.25,289.95 1550.5,309.84 1550.75,296.07 1551,302.72 1551.25,301.57 1551.5,313.71 1551.75,291.26 1552,298.02 1552.25,314.33 1552.5,301.67 1552.75,313.76 1553,314.06 1553.25,302.79 1553.5,303.77 1553.75,314.91 1554,314.79 1554.25,302.99 1554.5,305.5 1554.75,309.98 1555,290.69 1555.25,305.44 1555.5,285.22 1555.75,302.24 1556,293.88 1556.25,284.13 1556.5,285.67 1556.75,274.02 1557,278.99 1557.25,289.41 1557.5,293.8 1557.75,275.3 1558,274.63 1558.25,272.21 1558.5,283.64 1558.75,273.27 1559,283.08 1559.25,284.29 1559.5,284.41 1559.75,276.21 1560,275.92 1560.25,267.95 1560.5,266.56 1560.75,268.26 1561,260.93 1561.25,256.87 1561.5,265.47 1561.75,282.61 1562,257.78 1562.25,265.56 1562.5,264.55 1562.75,271.94 1563,244.52 1563.25,269.47 1563.5,273.46 1563.75,268.77 1564,260.34 1564.25,258.1 1564.5,278.48 1564.75,268.87 1565,275.44 1565.25,260.01 1565.5,263.83 1565.75,279.44 1566,275.52 1566.25,257.24 1566.5,267.11 1566.75,264.25 1567,281.56 1567.25,286.3 1567.5,273.13 1567.75,268.15 1568,264.35 1568.25,267.93 1568.5,269.8 1568.75,271.15 1569,245.94 1569.25,272.97 1569.5,273.29 1569.75,273.06 1570,282.2 1570.25,279.06 1570.5,271.01 1570.75,267.58 1571,276.44 1571.25,277.11 1571.5,274.13 1571.75,287.89 1572,289.49 1572.25,279.85 1572.5,274.65 1572.75,298.69 1573,270.9 1573.25,283.01 1573.5,284.01 1573.75,275.13 1574,286 1574.25,280.76 1574.5,261.54 1574.75,287.47 1575,277.47 1575.25,281.66 1575.5,270.2 1575.75,274.52 1576,283.84 1576.25,271.88 1576.5,288.9 1576.75,276.17 1577,272.34 1577.25,271.43 1577.5,263.36 1577.75,275.96 1578,281.21 1578.25,261.08 1578.5,300.76 1578.75,282.5 1579,270.28 1579.25,285.11 1579.5,271.29 1579.75,263.33 1580,264.89 1580.25,274.3 1580.5,277.28 1580.75,266.14 1581,275.69 1581.25,272.69 1581.5,274.02 1581.75,275.58 1582,244.53 1582.25,268.48 1582.5,276.66 1582.75,274.94 1583,263.96 1583.25,256.46 1583.5,263.35 1583.75,264.13 1584,279.61 1584.25,265.87 1584.5,284.56 1584.75,261.93 1585,269.36 1585.25,300.91 1585.5,279.04 1585.75,265.11 1586,270.21 1586.25,272.84 1586.5,269.83 1586.75,275.35 1587,275.36 1587.25,282.46 1587.5,285.85 1587.75,287.84 1588,286.96 1588.25,287.2 1588.5,275.97 1588.75,277.85 1589,277.75 1589.25,271.35 1589.5,274.5 1589.75,278.48 1590,281.42 1590.25,277.8 1590.5,266.14 1590.75,280.78 1591,278.62 1591.25,278.66 1591.5,275.9 1591.75,264.79 1592,287.07 1592.25,274.09 1592.5,281.66 1592.75,290 1593,269.68 1593.25,285.81 1593.5,267.36 1593.75,274.3 1594,275.43 1594.25,274.07 1594.5,280.41 1594.75,274 1595,289.5 1595.25,278.37 1595.5,282.06 1595.75,278.61 1596,280.71 1596.25,271.9 1596.5,269.8 1596.75,266.75 1597,268.46 1597.25,269.92 1597.5,277.93 1597.75,274.17 1598,276.13 1598.25,270.85 1598.5,272.37 1598.75,273.97 1599,271.41 1599.25,273.23 1599.5,274.36 1599.75,277.38 1600,270.56 1600.25,270.96 1600.5,264.95 1600.75,266.34 1601,265.76 1601.25,265.87 1601.5,263.42 1601.75,272.75 1602,270.96 1602.25,272.43 1602.5,269.4 1602.5,342.7 1602.7,269.4 1602.75,269.41 1602.75,342.7 1602.95,269.41 1603,268.12 1603.25,264.37 1603.5,266.58 1603.75,264.2 1604,267.88 1604.25,265.72 1604.5,270.8 1604.75,267.87 1605,261.87 1605.25,271.32 1605.5,264.41 1605.75,264.9 1606,270.99 1606.25,266.82 1606.5,267.58 1606.75,269.56 1607,259.2 1607.25,263.66 1607.5,270.87 1607.75,263.98 1608,267.45 1608.25,265.64 1608.5,268.67 1608.75,273.76 1609,273.28 1609.25,268.63 1609.5,267.2 1609.75,267.9 1610,281.38 1610.25,269 1610.5,260.45 1610.75,264.18 1611,273 1611.25,272.63 1611.5,268.93 1611.75,280.21 1612,270.23 1612.25,274.23 1612.5,271.68 1612.75,274.46 1613,276.25 1613.25,281.34 1613.5,276.27 1613.75,274.99 1614,277.49 1614.25,277.89 1614.5,272.22 1614.75,276.62 1615,274.57 1615.25,278.05 1615.5,281.05 1615.75,278.4 1616,276.88 1616.25,281.2 1616.5,271.13 1616.75,285.53 1617,283.33 1617.25,278.05 1617.5,278.24 1617.75,279.7 1618,284.52 1618.25,276.68 1618.5,283.79 1618.75,277.69 1619,282.27 1619.25,281.65 1619.5,283.22 1619.75,278.92 1620,281.41 1620.25,278.87 1620.5,279.61 1620.75,281.21 1621,276.95 1621.25,273.38 1621.5,276.83 1621.75,275.96 1622,275.51 1622.25,280.07 1622.5,276.99 1622.75,278.13 1623,276.21 1623.25,279.88 1623.5,279.15 1623.75,282.53 1624,280.78 1624.25,279.56 1624.5,277.37 1624.75,281.04 1625,276.64 1625.25,269.05 1625.5,287.39 1625.75,278.95 1626,284.34 1626.25,283.04 1626.5,282.86 1626.75,288.58 1627,285.01 1627.25,280.53 1627.5,288.54 1627.75,294.02 1628,291.27 1628.25,295.53 1628.5,293.15 1628.75,285.24 1629,289.06 1629.25,291.04 1629.5,295.76 1629.75,294.24 1630,284.94 1630.25,287.84 1630.5,294.64 1630.75,289.38 1631,293.44 1631.25,282.55 1631.5,287.86 1631.75,291.64 1632,284.11 1632.25,279.24 1632.5,281.05 1632.75,283.72 1633,286.23 1633.25,290.93 1633.5,278.83 1633.75,279.4 1634,274.01 1634.25,283.35 1634.5,280.85 1634.75,275.11 1635,273.47 1635.25,276.68 1635.5,278.89 1635.75,273.6 1636,275.46 1636.25,274.03 1636.5,277.99 1636.75,276.42 1637,277 1637.25,275.65 1637.5,266.04 1637.75,270.75 1638,272.88 1638.25,274.64 1638.5,267.31 1638.75,269.69 1639,276.5 1639.25,268.78 1639.5,277.75 1639.75,270.25 1640,269.36 1640.25,277.75 1640.5,276.5 1640.75,273.22 1641,276.6 1641.25,255.99 1641.5,273.42 1641.75,276.94 1642,268.47 1642.25,276.91 1642.5,270.85 1642.75,281.27 1643,277.31 1643.25,271.05 1643.5,277.23 1643.75,278.13 1644,270.85 1644.25,273.39 1644.5,282.28 1644.75,269.93 1645,276.5 1645.25,273.84 1645.5,275.47 1645.75,255.28 1646,274.16 1646.25,288.25 1646.5,280.84 1646.75,284.06 1647,291.12 1647.25,285.75 1647.5,295.99 1647.75,286.71 1648,275.17 1648.25,280.72 1648.5,279.44 1648.75,282.48 1649,290.35 1649.25,276.94 1649.5,287.07 1649.75,278.94 1650,287.8 1650.25,283.09 1650.5,291.47 1650.75,283.81 1651,286.48 1651.25,285.76 1651.5,293.65 1651.75,286.5 1652,293.53 1652.25,286.22 1652.5,286.58 1652.75,300.89 1653,300.85 1653.25,285.92 1653.5,292.63 1653.75,281.76 1654,278.79 1654.25,289.08 1654.5,280.01 1654.75,306.53 1655,282.05 1655.25,277.34 1655.5,280.67 1655.75,285.99 1656,280.36 1656.25,255.05 1656.5,269.59 1656.75,252.62 1657,266.55 1657.25,260.9 1657.5,271.15 1657.75,256.37 1658,264.34 1658.25,262.4 1658.5,270.91 1658.75,265.88 1659,259.94 1659.25,273.03 1659.5,272.98 1659.75,276.01 1660,278.64 1660.25,276.53 1660.5,278.18 1660.75,274.67 1661,279.7 1661.25,271.75 1661.5,270.63 1661.75,280.63 1662,272.45 1662.25,282.1 1662.5,281.88 1662.75,275.87 1663,287.98 1663.25,285.09 1663.5,287.89 1663.75,290.08 1664,296.74 1664.2,301.38 1664.5,289.12 1664.8,290.76 1665.1,284.5 1665.4,282.62 1665.7,290.49 1666,289.78 1666.3,292.64 1666.6,293.16 1666.9,292.97 1667.2,283.79 1667.5,289.67 1667.8,289.32 1668.1,296.51 1668.4,269.5 1668.7,284.62 1669,269.74 1669.3,294.52 1669.6,277.62 1669.9,299.96 1670.2,287.51 1670.5,254.29 1670.8,250.92 1671.1,284.3 1671.4,299.59 1671.7,282.03 1672,293.58 1672.3,272.58 1672.6,302.18 1672.9,267.89 1673.2,273.28 1673.5,284.92 1673.8,270.82 1674.1,264.18 1674.4,284.92 1674.7,233 1675,266.92 1675.3,225.98 1675.6,224.56 1675.9,284.51 1676.2,253.21 1676.5,251.74 1676.8,286.67 1677.1,226.58 1677.4,230.18 1677.7,246.94 1678,259.67 1678.3,274.67 1678.6,256.95 1678.9,301.38 1679.2,290.93 1679.5,243.06 1679.8,276.21 1680.1,272.51 1680.4,272.83 1680.7,245.54 1681,280.49 1681.3,272.84 1681.6,268.15 1681.9,336.28 1682.2,334.09 1682.5,265.93 1682.8,260.65 1683.1,274.64 1683.4,301.29 1683.7,275.31 1684,329.15 1684.3,258.73 1684.6,281.18 1684.9,299.17 1685.2,293.19 1685.5,327.98 1685.8,273.01 1686.1,339.36 1686.4,261.15 1686.7,250.9 1687,339.17 1687.3,311.79 1687.6,227.53 1687.9,305.91 1688.2,291.8 1688.5,321.76 1688.8,280.63 1689.1,296.14 1689.4,282.03 1689.7,281.11 1690,334.67 1690.3,261.07 1690.6,307.19 1690.9,255.36 1691.2,329.33 1691.5,244.04 1691.8,315.62 1692.1,299.68 1692.4,240.85 1692.7,272.64 1693,296.83 1693.3,263.33 1693.6,264.1 1693.9,333.59 1694.2,359.26 1694.5,330.77 1694.8,329.33 1695.1,321.99 1695.4,256.94 1695.7,312.77 1696,321.25 1696.3,284.05 1696.6,312.65 1696.9,306.16 1697.2,327.31 1697.5,317.53 1697.8,367.11 1698.1,299.05 1698.4,315.64 1698.7,271.88 1699,308.06 1699.3,242.66 1699.6,285.94 1699.9,302.28 1700.2,271.5 1700.5,319.57 1700.8,299.88 1701.1,282.81 1701.4,327.22 1701.7,311.89 1702,341.68 1702.3,273.63 1702.6,318.15 1702.9,264.42 1703.2,318.27 1703.5,269.29 1703.8,326.32 1704.1,256.36 1704.4,304.07 1704.7,313.15 1705,285.91 1705.3,258.32 1705.6,292.55 1705.9,263.9 1706.2,286.5 1706.5,298.37 1706.8,327.91 1707.1,317.66 1707.4,308.63 1707.7,247.26 1708,313.83 1708.3,296.11 1708.6,281.24 1708.9,257.05 1709.2,241.6 1709.5,301.4 1709.8,334.1 1710.1,250.77 1710.4,308.03 1710.7,368.62 1711,241.17 1711.3,314.03 1711.6,350.5 1711.9,308.17 1712.2,303.51 1712.5,338.63 1712.8,272.38 1713.1,278.92 1713.4,234.35 1713.7,270.74 1714,258.18 1714.3,303.17 1714.6,325.56 1714.9,245.55 1715.2,321.37 1715.5,298.95 1715.8,320.69 1716.1,332.34 1716.4,292.76 1716.7,297.1 1717,319.23 1717.3,298.38 1717.6,318.52 1717.9,319.78 1718.2,324.51 1718.5,260.9 1718.8,336.94 1719.1,266.85 1719.4,303.27 1719.7,278.02 1720,342.77 1720.3,322.3 1720.6,284.5 1720.9,278.29 1721.2,325.55 1721.5,325.81 1721.8,265.72 1722.1,272.09 1722.4,304.55 1722.7,312.37 1723,260.31 1723.3,299.89 1723.6,250.24 1723.9,266.23 1724.2,306.47 1724.5,309.2 1724.8,306.83 1725.1,313.82 1725.4,314.27 1725.7,267.19 1726,334.69 1726.3,301.44" fill="none" stroke="#000" stroke-width="2.2" stroke-linejoin="round"/><path d="M1205.5,332.89 1205.75,327.45 1206,328.29 1206.25,333.7 1206.5,330.97 1206.75,329.78 1207,329.33 1207.25,329.17 1207.5,330.49 1207.75,325.08 1208,325.08 1208.25,328.53 1208.5,323.74 1208.75,319.82 1209,321.88 1209.25,322.58 1209.5,326.31 1209.75,323.33 1210,321.72 1210.25,320.3 1210.5,319.92 1210.75,325.7 1211,323.49 1211.25,323.38 1211.5,317.77 1211.75,321.37 1212,322.04 1212.25,321.27 1212.5,320.51 1212.75,320.08 1213,322.64 1213.25,318.52 1213.5,321.07 1213.75,312.75 1214,317.53 1214.25,317.24 1214.5,314.34 1214.75,313.65 1215,319.04 1215.25,317.32 1215.5,315.2 1215.75,310.19 1216,320.12 1216.25,317.05 1216.5,318.5 1216.75,316.56 1217,321.04 1217.25,317.79 1217.5,323.35 1217.75,324.7 1218,323.42 1218.25,320.32 1218.5,320.97 1218.75,317.78 1219,318.88 1219.25,317.22 1219.5,321.51 1219.75,325.34 1220,325.35 1220.25,318.69 1220.5,322.84 1220.75,321.52 1221,322.26 1221.25,322.26 1221.5,325.23 1221.75,319.57 1222,326.26 1222.25,319.21 1222.5,327.14 1222.75,325.39 1223,327.34 1223.25,328.62 1223.5,327.19 1223.75,324.13 1224,326.12 1224.25,326.78 1224.5,323.59 1224.75,329.89 1225,330.83 1225.25,322.91 1225.5,328.3 1225.75,328.09 1226,328.06 1226.25,329.16 1226.5,330.82 1226.75,333.74 1227,330.2 1227.25,332.66 1227.5,330.14 1227.75,328.87 1228,333.66 1228.25,336.85 1228.5,334.6 1228.75,333.58 1229,330.52 1229.25,333.11 1229.5,334.21 1229.75,334.96 1230,333.7 1230.25,330.77 1230.5,333.04 1230.75,333.46 1231,335.45 1231.25,336.31 1231.5,337.56 1231.75,333.9 1232,331.27 1232.25,332.93 1232.5,333.01 1232.75,330.82 1233,334.01 1233.25,333 1233.5,333.37 1233.75,330.56 1234,331.17 1234.25,334.7 1234.5,334.73 1234.75,333.68 1235,334.81 1235.25,332.35 1235.5,334.8 1235.75,334.69 1236,338.93 1236.25,331.43 1236.5,336.09 1236.75,337.51 1237,333.24 1237.25,333.01 1237.5,334.38 1237.75,333.25 1238,336.04 1238.25,335.85 1238.5,331.19 1238.75,333.9 1239,337.12 1239.25,334.17 1239.5,334.65 1239.75,331.21 1240,334.68 1240.25,332.22 1240.5,332.13 1240.75,336.87 1241,336.79 1241.25,334.35 1241.5,332.17 1241.75,334.68 1242,334.48 1242.25,338.47 1242.5,334.04 1242.75,338.94 1243,330.94 1243.25,334.44 1243.5,331.4 1243.75,333.14 1244,336.23 1244.25,335.2 1244.5,334.41 1244.75,336.26 1245,334.8 1245.25,337.9 1245.5,337.3 1245.75,334.97 1246,335.16 1246.25,334.99 1246.5,334.7 1246.75,335.99 1247,338.68 1247.25,334.06 1247.5,334.09 1247.75,329.1 1248,338.48 1248.25,336.47 1248.5,337.59 1248.75,335.21 1249,335.14 1249.25,336.19 1249.5,333.18 1249.75,338.49 1250,335.53 1250.25,334.85 1250.5,332.96 1250.75,339.06 1251,338.65 1251.25,330.95 1251.5,337.47 1251.75,334.94 1252,335.47 1252.25,331.45 1252.5,331.23 1252.75,333.78 1253,338.9 1253.25,332.87 1253.5,333.87 1253.75,334.66 1254,336.11 1254.25,338.57 1254.5,332.2 1254.75,333.12 1255,334.26 1255,289 1255.2,334.26 1255.25,336.93 1255.5,332.96 1255.75,334.83 1256,333.22 1256.25,336.8 1256.5,331.85 1256.75,336.16 1257,334.24 1257.25,327.81 1257.5,335.14 1257.75,335.58 1258,333.82 1258.25,338.26 1258.5,339.91 1258.75,334.99 1259,335.68 1259.25,336.75 1259.5,330.93 1259.75,335.59 1260,332.28 1260.25,330.61 1260.5,336.44 1260.75,337.32 1261,339.07 1261.25,336.59 1261.5,336.11 1261.75,337.11 1262,333.13 1262.25,338.44 1262.5,340.34 1262.75,339.17 1263,337.59 1263.25,337.39 1263.5,339.23 1263.75,335.8 1264,337.4 1264.25,338.89 1264.5,336.13 1264.75,340.71 1265,340.05 1265.25,340.94 1265.5,335.36 1265.75,332.79 1266,338.4 1266.25,336.76 1266.5,338.67 1266.75,335.71 1267,338.27 1267.25,338.28 1267.5,341.5 1267.75,337.03 1268,336.74 1268.25,336.15 1268.5,340.53 1268.75,340.76 1269,336.42 1269.25,339.44 1269.5,337.1 1269.75,340.84 1270,343.03 1270.25,334.53 1270.5,341.87 1270.75,335.88 1271,340.94 1271.25,339.98 1271.5,343.22 1271.75,340.13 1272,334.61 1272.25,334.45 1272.5,341.48 1272.75,337.87 1273,338.7 1273.25,336.82 1273.5,338.75 1273.75,337.21 1274,337.6 1274.25,341.79 1274.5,344.12 1274.75,341.85 1275,338.89 1275.25,336.32 1275.5,343.05 1275.75,339.75 1276,338.59 1276.25,345.22 1276.5,345.31 1276.75,347.13 1277,344.45 1277.25,338.06 1277.5,344.68 1277.75,343.82 1278,338.5 1278.25,342.5 1278.5,341.16 1278.75,339.39 1279,338.43 1279.25,339.11 1279.5,339.42 1279.75,345.06 1280,343.82 1280.25,342.37 1280.5,345.2 1280.75,344.29 1281,340.63 1281.25,341.03 1281.5,346.49 1281.75,348.54 1282,342.52 1282.25,345.72 1282.5,341.78 1282.75,342.85 1283,346.05 1283.25,343.81 1283.5,338.61 1283.75,339.04 1284,343.93 1284.25,341.65 1284.5,339.89 1284.75,336.09 1285,342.59 1285.25,342.08 1285.5,335.01 1285.75,339.07 1286,340.52 1286.25,340.57 1286.5,341.14 1286.75,338.73 1287,337.28 1287.25,337.44 1287.5,340.84 1287.75,337.88 1288,337.1 1288.25,336.37 1288.5,331.86 1288.75,332.73 1289,331.69 1289.25,333.46 1289.5,330.81 1289.75,334.8 1290,342.16 1290.25,331.67 1290.5,331.73 1290.75,330.64 1291,329.92 1291.25,336.22 1291.5,332.51 1291.75,328.08 1292,332.1 1292.25,328.46 1292.5,329.81 1292.75,329.67 1293,328.44 1293.25,329.96 1293.5,329.55 1293.75,328.23 1294,331.56 1294.25,328.27 1294.5,328.13 1294.75,332.14 1295,333.65 1295.25,330.81 1295.5,329.84 1295.75,324.52 1296,328 1296.25,326.74 1296.5,329.05 1296.75,327.01 1297,331.61 1297.25,329.75 1297.5,322.65 1297.75,326.93 1298,325.11 1298.25,331.47 1298.5,331.27 1298.75,333.22 1299,325.76 1299.25,330.83 1299.5,327.87 1299.75,332.19 1300,323.77 1300.25,329.83 1300.5,326.01 1300.75,329.74 1301,327.04 1301.25,326.86 1301.5,323.56 1301.75,330.02 1302,333.33 1302.25,329.59 1302.5,336.5 1302.75,324.09 1303,325.89 1303.25,329.99 1303.5,331.95 1303.75,326.97 1304,329.23 1304.25,331.55 1304.5,337.27 1304.75,326.07 1305,325.15 1305.25,325.68 1305.5,326.87 1305.75,328.46 1306,329.65 1306.25,328.87 1306.5,323.14 1306.75,327.7 1307,329.44 1307.25,329.84 1307.5,325.91 1307.75,327.86 1308,330.92 1308.25,327.31 1308.5,322.71 1308.75,330.34 1309,329.87 1309.25,324.45 1309.5,323.36 1309.75,327.23 1310,324 1310.25,327.77 1310.5,330.47 1310.75,318.94 1311,329.79 1311.25,324.4 1311.5,320.83 1311.75,329.85 1312,324.68 1312.25,329.65 1312.5,330.19 1312.75,325.08 1313,325.55 1313.25,323.28 1313.5,321.65 1313.75,321.43 1314,329.69 1314.25,330.04 1314.5,328.22 1314.75,325.11 1315,318.08 1315.25,326.16 1315.5,326.41 1315.75,324.24 1316,326.32 1316.25,322.83 1316.5,323.41 1316.75,328.33 1317,326.96 1317.25,329.55 1317.5,323.58 1317.75,327.63 1318,323.55 1318.25,328.48 1318.5,329.15 1318.75,327.4 1319,328.93 1319.25,326.61 1319.5,327.06 1319.75,325.46 1320,327.47 1320.25,329.53 1320.5,328.29 1320.75,325.84 1321,327.27 1321.25,324.51 1321.5,325.06 1321.75,331.54 1322,324.47 1322.25,323.14 1322.5,323.62 1322.75,323.09 1323,323.14 1323.25,327.65 1323.5,330.63 1323.75,330.5 1324,339.72 1324.25,328.56 1324.5,329.27 1324.75,331.24 1325,328.27 1325.25,326.03 1325.5,333.67 1325.75,330.11 1326,330.16 1326.25,331.73 1326.5,331.59 1326.75,329.93 1327,330.16 1327.25,327.63 1327.5,327.1 1327.75,329.06 1328,332.05 1328.25,333.83 1328.5,335.47 1328.75,332 1329,336.53 1329.25,332.71 1329.5,333.48 1329.75,330.69 1330,329.84 1330.25,334.38 1330.5,334.63 1330.75,336.91 1331,337.42 1331.25,337.09 1331.5,334.81 1331.75,336.44 1332,335.23 1332.25,333.41 1332.5,325.89 1332.75,338.08 1333,334.87 1333.25,332.72 1333.5,335.82 1333.75,331.79 1334,333.74 1334.25,334.71 1334.5,332.64 1334.75,337.39 1335,336.32 1335.25,333.1 1335.5,331.09 1335.75,338.24 1336,336.64 1336.25,337.8 1336.5,338.86 1336.75,332.42 1337,343.21 1337.25,337.17 1337.5,336.01 1337.75,334.57 1338,332.86 1338.25,337.28 1338.5,334.2 1338.75,335.82 1339,334.96 1339.25,336.17 1339.5,336.74 1339.75,338.39 1340,334.43 1340.25,335.46 1340.5,334.93 1340.75,333.72 1341,334.71 1341.25,334.12 1341.5,340.69 1341.75,340.56 1342,337.01 1342.25,333.78 1342.5,336.62 1342.75,332.2 1343,334.45 1343.25,337.13 1343.5,338.05 1343.75,337.41 1344,340.46 1344.25,339.17 1344.5,340.44 1344.75,338.63 1345,339.85 1345.25,337.58 1345.5,338.74 1345.75,338.81 1346,335.62 1346.25,334.97 1346.5,339.84 1346.75,337.64 1347,337.8 1347.25,341.67 1347.5,340.03 1347.75,340.1 1348,342.03 1348.25,335.59 1348.5,337.04 1348.75,338.58 1349,335.24 1349.25,336.09 1349.5,339.68 1349.75,336.31 1350,338.39 1350.25,342.21 1350.5,338.35 1350.75,341.06 1351,339.82 1351.25,338.14 1351.5,335.34 1351.75,340.24 1352,334.97 1352.25,337.89 1352.5,336.91 1352.75,339.34 1353,337.59 1353.25,338.35 1353.5,337.83 1353.75,335.93 1354,334.42 1354.25,340.86 1354.5,340.12 1354.75,337.38 1355,333.45 1355.25,333.35 1355.5,335.68 1355.75,334.01 1356,334.26 1356.25,338.17 1356.5,332.06 1356.75,338.16 1357,335.38 1357.25,335.88 1357.5,333.37 1357.75,330.93 1358,335.05 1358.25,338.39 1358.5,335.44 1358.75,331.6 1359,334.72 1359.25,333.69 1359.5,330.57 1359.75,333.22 1360,334.42 1360.25,335.99 1360.5,331.48 1360.75,329.66 1361,331.48 1361.25,334.49 1361.5,337.98 1361.75,335.52 1362,335.74 1362.25,333.5 1362.5,330.67 1362.75,334.92 1363,333 1363.25,329.17 1363.5,330.99 1363.75,333.12 1364,336.77 1364.25,333.26 1364.5,336.34 1364.75,331.81 1365,330.46 1365.25,333.05 1365.5,329.02 1365.75,330.85 1366,331.7 1366.25,329.99 1366.5,333.14 1366.75,332.83 1367,333.04 1367.25,330.98 1367.5,331 1367.75,329.77 1368,334.23 1368.25,329.27 1368.5,332.46 1368.75,334.39 1369,334.71 1369.25,335.58 1369.5,333.57 1369.75,344.01 1370,330.33 1370.25,331.7 1370.5,328.95 1370.75,334.95 1371,332.55 1371.25,331.61 1371.5,330.2 1371.75,330.52 1372,335.57 1372.25,328.77 1372.5,330.23 1372.75,332.18 1373,332.89 1373.25,331.8 1373.5,327.53 1373.75,329.42 1374,334.23 1374.25,336.68 1374.5,337.87 1374.75,330.26 1375,328.13 1375.25,331.28 1375.5,334.74 1375.75,335.41 1376,331.78 1376.25,333.57 1376.5,331.98 1376.75,332.34 1377,327.52 1377.25,333.83 1377.5,333.58 1377.75,335.14 1378,334.83 1378.25,331.48 1378.5,334.31 1378.75,334.27 1379,336.24 1379.25,332.45 1379.5,332.11 1379.75,332.57 1380,332.03 1380.25,330.2 1380.5,334.69 1380.75,333.87 1381,331.54 1381.25,333.35 1381.5,335.51 1381.75,329.97 1382,332.96 1382.25,332.57 1382.5,335.06 1382.75,335.53 1383,333.36 1383.25,334.34 1383.5,331.28 1383.75,333.79 1384,339.83 1384.25,336.67 1384.5,336.19 1384.75,336.32 1385,337.87 1385.25,334 1385.5,330.47 1385.75,337.08 1386,338.61 1386.25,340.93 1386.5,337.08 1386.75,336.59 1387,338.01 1387.25,339.15 1387.5,336.71 1387.75,337.9 1388,339.12 1388.25,338.62 1388.5,337.62 1388.75,336.59 1389,334.78 1389.25,337.35 1389.5,336.54 1389.75,339.93 1390,337.3 1390.25,341.03 1390.5,339.22 1390.75,338.57 1391,342.88 1391.25,337.43 1391.5,340.09 1391.75,343.96 1392,339.47 1392.25,339.85 1392.5,338.47 1392.75,338.63 1393,338.31 1393.25,343.39 1393.5,339.43 1393.75,344.09 1394,342.44 1394.25,339.54 1394.5,336.54 1394.75,339.88 1395,341.38 1395.25,336.62 1395.5,340.89 1395.75,339.68 1396,339.4 1396.25,341.69 1396.5,338.04 1396.75,338.8 1397,336.05 1397.25,336.12 1397.5,339.57 1397.75,342.78 1398,333.3 1398.25,337.66 1398.5,340.92 1398.75,338.19 1399,342.56 1399.25,336.84 1399.5,336.97 1399.75,338.6 1400,338.02 1400.25,336.4 1400.5,334.87 1400.75,334.18 1401,339.15 1401.25,338.11 1401.5,334.65 1401.75,340.21 1402,337.39 1402.25,339.66 1402.5,336.73 1402.75,332.39 1403,335.59 1403.25,338.98 1403.5,335.29 1403.75,334.92 1404,333.51 1404.25,335.28 1404.5,333.38 1404.75,334.48 1405,336.86 1405.25,337.17 1405.5,335.38 1405.75,334.39 1406,336.57 1406.25,333.13 1406.5,336.25 1406.75,334.34 1407,338.37 1407.25,339.44 1407.5,333.97 1407.75,333.15 1408,336.66 1408.25,336.79 1408.5,338.28 1408.75,335.47 1409,333.61 1409.25,335.48 1409.5,334.39 1409.75,334.23 1410,333.18 1410.25,334.62 1410.5,332.21 1410.75,333.17 1411,333.1 1411.25,331.63 1411.5,330.28 1411.75,333.48 1412,334.67 1412.25,336.32 1412.5,334.14 1412.75,334.37 1413,340.6 1413.25,336.41 1413.5,334.64 1413.75,337.82 1414,340.06 1414.25,341.29 1414.5,335.95 1414.75,339.49 1415,338.65 1415.25,335.41 1415.5,337.54 1415.75,334.5 1416,333.52 1416.25,335.37 1416.5,337.9 1416.75,335.28 1417,332.51 1417.25,333.07 1417.5,337.6 1417.75,339.8 1418,333.99 1418.25,339.5 1418.5,340.45 1418.75,336.92 1419,333.81 1419.25,339.07 1419.5,337.65 1419.75,338.34 1420,336.3 1420.25,338.04 1420.5,340.24 1420.75,339.43 1421,339.17 1421.25,335.84 1421.5,336.9 1421.75,342.51 1422,339.14 1422.25,336.05 1422.5,338.38 1422.75,342.46 1423,344.65 1423.25,337.95 1423.5,339.9 1423.75,342.96 1424,340.94 1424.25,339.36 1424.5,341.97 1424.75,341.5 1425,339.88 1425.25,338.71 1425.5,337.15 1425.75,338.35 1426,342.76 1426.25,339.19 1426.5,339.47 1426.75,341.83 1427,344.08 1427.25,338.62 1427.5,342.26 1427.75,344.33 1428,340.87 1428.25,342.45 1428.5,344.99 1428.75,341.02 1429,342.67 1429.25,343.76 1429.5,343.43 1429.75,341.07 1430,343.78 1430.25,340.02 1430.5,341.58 1430.75,339.63 1431,340.44 1431.25,339.58 1431.5,341.45 1431.75,343.13 1432,337.79 1432.25,338.53 1432.5,338.32 1432.75,336.49 1433,340.61 1433.25,338.16 1433.5,342.51 1433.75,337.64 1434,337.26 1434.25,335.88 1434.5,338.22 1434.75,341.83 1435,342.36 1435.25,333.81 1435.5,336.77 1435.75,341.24 1436,336.76 1436.25,341.74 1436.5,340.44 1436.75,338.23 1437,339.24 1437.25,342.38 1437.5,338.49 1437.75,340.34 1438,335.73 1438.25,336.41 1438.5,334.84 1438.75,334.54 1439,329.37 1439.25,336 1439.5,333.74 1439.75,338.97 1440,333.77 1440.25,333 1440.5,335.66 1440.75,337.72 1441,334.98 1441.25,332.92 1441.5,339.56 1441.75,333.56 1442,338.82 1442.25,334.63 1442.5,332.36 1442.75,337.44 1443,333.95 1443.25,335.45 1443.5,339.33 1443.75,334.63 1444,336 1444.25,336.4 1444.5,337.85 1444.75,336.78 1445,333.99 1445.25,336.37 1445.5,335.86 1445.75,331.88 1446,332.54 1446.25,334.01 1446.5,335.33 1446.75,334.66 1447,336.25 1447.25,334.27 1447.5,330.67 1447.75,326.62 1448,333.09 1448.25,333.77 1448.5,330.47 1448.75,330.32 1449,330.27 1449.25,334.12 1449.5,331.91 1449.75,331.89 1450,324.99 1450.25,328.62 1450.5,330.25 1450.75,330.47 1451,328.99 1451.25,330.34 1451.5,330.55 1451.75,333.39 1452,333.08 1452.25,329.87 1452.5,333.89 1452.75,329.89 1453,332.33 1453.25,334.77 1453.5,328.22 1453.75,333.63 1454,329.69 1454.25,329.83 1454.5,332.55 1454.75,330.73 1455,332.49 1455.25,334.74 1455.5,332.91 1455.75,328.84 1456,327.69 1456.25,328.28 1456.5,332.24 1456.75,336.2 1457,332.52 1457.25,326.67 1457.5,334.66 1457.75,331.04 1458,330.36 1458.25,338.52 1458.5,333.76 1458.75,334.06 1459,336.4 1459.25,333.9 1459.5,337.19 1459.75,331.87 1460,338.64 1460.25,330.72 1460.5,333.59 1460.75,329.48 1461,335.21 1461.25,335.12 1461.5,334.68 1461.75,331.77 1462,329.37 1462.25,331.12 1462.5,335.93 1462.75,335.01 1463,340.09 1463.25,336.22 1463.5,338.24 1463.75,331.22 1464,334.87 1464.25,332.22 1464.5,336.17 1464.75,333.68 1465,340.85 1465.25,337.26 1465.5,337.9 1465.75,334.98 1466,336 1466.25,331.14 1466.5,338.76 1466.75,337.48 1467,335.6 1467.25,334.87 1467.5,334.58 1467.75,336.9 1468,339.62 1468.25,338.35 1468.5,334.86 1468.75,335.01 1469,333.85 1469.25,335.45 1469.5,339.62 1469.75,342.7 1470,339.72 1470.25,332.75 1470.5,339.02 1470.75,339.48 1471,339.59 1471.25,335.92 1471.5,333.89 1471.75,334.79 1472,340.08 1472.25,340.76 1472.5,337.37 1472.75,338.97 1473,338.86 1473.25,333.96 1473.5,337.55 1473.75,340.24 1474,333.71 1474.25,334.46 1474.5,336.99 1474.75,337.12 1475,338.32 1475.25,338.2 1475.5,338.22 1475.75,336.15 1476,337.62 1476.25,332.14 1476.5,335.99 1476.75,336.33 1477,335.06 1477.25,339.41 1477.5,340.03 1477.75,333.58 1478,335.14 1478.25,336.82 1478.5,336.27 1478.75,332.98 1479,335.32 1479.25,337.46 1479.5,337.03 1479.75,335.71 1480,338.19 1480.25,336.17 1480.5,334.62 1480.75,336.16 1481,335.85 1481.25,335.34 1481.5,340.22 1481.75,340.47 1482,335.92 1482.25,334.23 1482.5,337.46 1482.75,340.48 1483,334.06 1483.25,339.24 1483.5,340.46 1483.75,336.87 1484,338.75 1484.25,338.57 1484.5,339.9 1484.75,335.67 1485,334.87 1485.25,339.65 1485.5,333.88 1485.75,334.77 1486,337.08 1486.25,339.65 1486.5,344.37 1486.75,339.15 1487,338.16 1487.25,339.51 1487.5,340.21 1487.75,336.82 1488,337.29 1488.25,341.78 1488.5,338.45 1488.75,332.74 1489,334.24 1489.25,335.8 1489.5,333.9 1489.75,332.89 1490,339.85 1490.25,339.71 1490.5,337.84 1490.75,336.47 1491,331.93 1491.25,335.91 1491.5,338.75 1491.75,334.03 1492,335.41 1492.25,333.11 1492.5,339.43 1492.75,337.5 1493,340.43 1493.25,340.16 1493.5,336.96 1493.75,335.94 1494,334.94 1494.25,335.35 1494.5,334.37 1494.75,338.34 1495,339.8 1495.25,339.43 1495.5,344.02 1495.75,335.67 1496,334.08 1496.25,335.74 1496.5,337.69 1496.75,336.36 1497,335.23 1497.25,335.6 1497.5,333.56 1497.75,336.25 1498,339.76 1498.25,335.17 1498.5,336.81 1498.75,337.47 1499,336.14 1499.25,337.16 1499.5,337.7 1499.75,337.97 1500,337.08 1500.25,338.25 1500.5,334.7 1500.75,332.85 1501,333.26 1501.25,337.72 1501.5,339.81 1501.75,338.48 1502,337.38 1502.25,337.95 1502.5,335.81 1502.75,336.32 1503,336.78 1503.25,333.74 1503.5,339.22 1503.75,332.64 1504,337.72 1504.25,333.61 1504.5,334.45 1504.75,334.29 1505,334.01 1505.25,334.41 1505.5,334.96 1505.75,337.23 1506,333.55 1506.25,333.86 1506.5,338.69 1506.75,331.47 1507,330.89 1507.25,334.29 1507.5,336.13 1507.75,331.2 1508,336.95 1508.25,335.94 1508.5,335.7 1508.75,329.74 1509,335.14 1509.25,332 1509.5,336.47 1509.75,334.61 1510,332.24 1510.25,334.09 1510.5,337.41 1510.75,334 1511,333.48 1511.25,336.21 1511.5,331.88 1511.75,331.32 1512,328.52 1512.25,329.85 1512.5,330.4 1512.75,332.86 1513,332.62 1513.25,332.01 1513.5,336.53 1513.75,329.16 1514,328.81 1514.25,333.34 1514.5,330.76 1514.75,332.62 1515,333.99 1515.25,332.53 1515.5,329.69 1515.75,326.92 1516,329.53 1516.25,330.29 1516.5,330.9 1516.75,331.65 1517,330.93 1517.25,328.26 1517.5,330.84 1517.75,327.53 1518,330.23 1518.25,333.81 1518.5,332.01 1518.75,327.68 1519,328.97 1519.25,329.66 1519.5,333.66 1519.75,329.08 1520,328.19 1520.25,328 1520.5,331.57 1520.75,328.27 1521,333.51 1521.25,330.05 1521.5,331.17 1521.75,334.44 1522,328.93 1522.25,333.4 1522.5,329.75 1522.75,331.38 1523,332.88 1523.25,332 1523.5,331.48 1523.75,333.61 1524,334.49 1524.25,330.92 1524.5,332.11 1524.75,330.4 1525,336.16 1525.25,333.01 1525.5,323.96 1525.75,331.12 1526,330.25 1526.25,330.92 1526.5,334.68 1526.75,329.24 1527,330.53 1527.25,332.29 1527.5,334.18 1527.75,334.16 1528,335.03 1528.25,330.52 1528.5,335.12 1528.75,332.09 1529,333.89 1529.25,330.34 1529.5,329.88 1529.75,331.66 1530,329.78 1530.25,333.28 1530.5,334.27 1530.75,333.74 1531,336.93 1531.25,333.97 1531.5,334.71 1531.75,332.1 1532,332.92 1532.25,330.95 1532.5,330.17 1532.75,331.88 1533,331.02 1533.25,331.69 1533.5,335.72 1533.75,333.46 1534,334.98 1534.25,331.57 1534.5,330.07 1534.75,333.96 1535,332.5 1535.25,331.81 1535.5,332.16 1535.75,336.59 1536,333.56 1536.25,336.38 1536.5,329.46 1536.75,330.05 1537,333.1 1537.25,328.74 1537.5,329.76 1537.75,334.67 1538,333 1538.25,332.99 1538.5,332.34 1538.75,338 1539,331.37 1539.25,331.49 1539.5,331.84 1539.75,334.77 1540,332.44 1540.25,331.72 1540.5,332.07 1540.75,331.04 1541,330.04 1541.25,333.86 1541.5,331.5 1541.75,332.08 1542,334.42 1542.25,330.48 1542.5,335.72 1542.75,330.09 1543,329.95 1543.25,333.14 1543.5,332.08 1543.75,329.66 1544,328.9 1544.25,331.48 1544.5,335.01 1544.75,331.27 1545,332.17 1545.25,332.13 1545.5,331.91 1545.75,336.72 1546,335.81 1546.25,332.62 1546.5,335.6 1546.75,332.14 1547,330.7 1547.25,332.51 1547.5,329.48 1547.75,334.83 1548,328.14 1548.25,334.09 1548.5,331.05 1548.75,327.14 1549,331.25 1549.25,331.1 1549.5,333.12 1549.75,332.3 1550,334.9 1550.25,329.92 1550.5,331.69 1550.75,333.51 1551,331.54 1551.25,333.28 1551.5,333.71 1551.75,335.21 1552,333.5 1552.25,331.81 1552.5,329.6 1552.75,329.77 1553,331.55 1553.25,331.14 1553.5,329.75 1553.75,334.36 1554,329.29 1554.25,331 1554.5,333.09 1554.75,333.81 1555,328.49 1555.25,329.29 1555.5,329.47 1555.75,330.45 1556,327.63 1556.25,332.99 1556.5,330.98 1556.75,331.36 1557,331.87 1557.25,328.18 1557.5,321.29 1557.75,331.81 1558,331.63 1558.25,333.55 1558.5,331.1 1558.75,332.24 1559,330.22 1559.25,329.39 1559.5,329.49 1559.75,331.99 1560,331.46 1560.25,328.51 1560.5,328.76 1560.75,328.59 1561,328.84 1561.25,328.52 1561.5,333.98 1561.75,332.88 1562,333.81 1562.25,335.54 1562.5,336.2 1562.75,329.89 1563,335.45 1563.25,332.25 1563.5,329.85 1563.75,333.35 1564,329.52 1564.25,329.39 1564.5,335.69 1564.75,329.93 1565,330.85 1565.25,330.43 1565.5,329.25 1565.75,334.88 1566,331.76 1566.25,332.89 1566.5,331.18 1566.75,333.4 1567,334.07 1567.25,338.05 1567.5,333.3 1567.75,334.47 1568,334.67 1568.25,336.84 1568.5,331.38 1568.75,333.5 1569,334.42 1569.25,336.59 1569.5,331.99 1569.75,330.95 1570,331.83 1570.25,333.95 1570.5,336.48 1570.75,337.29 1571,338.35 1571.25,335.58 1571.5,333.11 1571.75,332.34 1572,330.97 1572.25,333.68 1572.5,337.76 1572.75,336.69 1573,337.7 1573.25,334.14 1573.5,334.75 1573.75,335.09 1574,333.02 1574.25,333.88 1574.5,337.82 1574.75,339.97 1575,338.51 1575.25,334.29 1575.5,337.1 1575.75,335.09 1576,336.07 1576.25,337.87 1576.5,334.7 1576.75,340.94 1577,339.93 1577.25,337.58 1577.5,335.44 1577.75,335.75 1578,337.52 1578.25,337.25 1578.5,334.45 1578.75,335.66 1579,335.36 1579.25,338.54 1579.5,338 1579.75,338.83 1580,337.88 1580.25,334.52 1580.5,335.92 1580.75,339.04 1581,340.75 1581.25,340.29 1581.5,341.29 1581.75,336.98 1582,339.43 1582.25,340.05 1582.5,339.74 1582.75,340.4 1583,334.81 1583.25,339.83 1583.5,336.65 1583.75,340.76 1584,339.48 1584.25,338.41 1584.5,336.72 1584.75,335.56 1585,341.03 1585.25,335.84 1585.5,334.79 1585.75,335.33 1586,337.63 1586.25,336.67 1586.5,335.45 1586.75,331.01 1587,335.4 1587.25,334.7 1587.5,337.55 1587.75,331.06 1588,331.75 1588.25,331.9 1588.5,331.26 1588.75,335.27 1589,333.98 1589.25,336.09 1589.5,334.02 1589.75,335.03 1590,333.38 1590.25,331.69 1590.5,329.85 1590.75,330.05 1591,329.31 1591.25,330.05 1591.5,330.87 1591.75,332.59 1592,331.7 1592.25,331.63 1592.5,332.08 1592.75,334.81 1593,329.95 1593.25,329.86 1593.5,331.4 1593.75,326.19 1594,330.81 1594.25,327.7 1594.5,330.11 1594.75,326 1595,326.56 1595.25,328.39 1595.5,331.47 1595.75,324.54 1596,327.83 1596.25,324.6 1596.5,322.83 1596.75,325.94 1597,325.8 1597.25,324.41 1597.5,329.05 1597.75,326.07 1598,324.04 1598.25,327.46 1598.5,329.98 1598.75,328.55 1599,328.81 1599.25,329.05 1599.5,328.35 1599.75,324.72 1600,328.5 1600.25,327.56 1600.5,325.68 1600.75,324.18 1601,324.4 1601.25,325.87 1601.5,325.75 1601.75,332.46 1602,329.59 1602.25,327.13 1602.5,329.27 1602.75,326.73 1603,330.07 1603.25,329.46 1603.5,328.93 1603.75,327.29 1604,329 1604.25,331.69 1604.5,327.91 1604.75,327.46 1605,326.72 1605.25,332.01 1605.5,333.36 1605.75,331.2 1606,332.88 1606.25,331.71 1606.5,333.55 1606.75,331.92 1607,327.34 1607.25,328.73 1607.5,331.14 1607.75,327.43 1608,332.47 1608.25,333.33 1608.5,331.52 1608.75,333.09 1609,329.56 1609.25,331.39 1609.5,333.13 1609.75,333.47 1610,335.57 1610.25,331.76 1610.5,334.35 1610.75,330.84 1611,334.51 1611.25,333.15 1611.5,332.82 1611.75,334.6 1612,336.59 1612.25,338.13 1612.5,337.68 1612.75,340.38 1612.75,297.3 1612.95,340.38 1613,341.25 1613.25,338.05 1613.5,340.32 1613.75,337.44 1614,342.07 1614.25,342.26 1614.5,343.12 1614.5,310 1614.7,343.12 1614.75,345.85 1615,342.63 1615.25,346.84 1615.5,344.4 1615.75,342.28 1616,343.16 1616.25,345.23 1616.5,346.28 1616.75,344.6 1617,347.89 1617.25,340.89 1617.5,347.54 1617.75,340.81 1618,338.72 1618.25,341.92 1618.5,344.03 1618.75,344.52 1619,339.17 1619.25,341.43 1619.5,345.27 1619.75,341.54 1620,338.47 1620.25,341.1 1620.5,341.35 1620.75,343.92 1621,339.62 1621.25,341.41 1621.5,340.86 1621.75,338.83 1622,338.74 1622.25,339.36 1622.5,338.44 1622.75,339.41 1623,342.07 1623.25,340.97 1623.5,341.28 1623.75,341 1624,342.31 1624.25,344.15 1624.5,342.61 1624.75,341.94 1625,343.25 1625.25,342.02 1625.5,341 1625.75,343.04 1626,343.62 1626.25,344.06 1626.25,324.5 1626.45,344.06 1626.5,343.38 1626.5,324.5 1626.7,343.38 1626.75,342.71 1627,342.13 1627.25,343.37 1627.5,343.4 1627.75,344.1 1628,341.56 1628.25,342.3 1628.5,340.8 1628.75,342.19 1629,342.59 1629.25,342.24 1629.5,342.86 1629.75,343.3 1630,340.84 1630.25,343.97 1630.5,342.51 1630.75,343.19 1631,342.11 1631.25,342.07 1631.5,341.93 1631.75,340.61 1632,344.98 1632.25,343.02 1632.5,342.89 1632.75,341.83 1633,345.24 1633.25,343.02 1633.5,342.48 1633.75,345.16 1634,343.82 1634.25,343.98 1634.5,341.79 1634.75,341.97 1635,340.76 1635.25,341.95 1635.5,341.29 1635.75,342.91 1636,342.66 1636.25,342.34 1636.5,343.78 1636.75,341.42 1637,342.68 1637.25,343.81 1637.5,341.44 1637.75,343.53 1638,339.43 1638.25,341.95 1638.5,342.56 1638.75,341.42 1639,343.91 1639.25,346.75 1639.5,341.63 1639.75,342.68 1640,341.83 1640.25,342.38 1640.5,345.29 1640.75,342.23 1641,344.91 1641.25,342.86 1641.5,343.4 1641.75,341.83 1642,342.66 1642.25,341.53 1642.5,341.51 1642.75,341.23 1643,341.99 1643.25,344.99 1643.5,343.08 1643.75,344.91 1644,345.01 1644.25,345.19 1644.5,344.5 1644.75,341.79 1645,342.48 1645.25,342.84 1645.5,341.6 1645.75,342.36 1646,338.85 1646.25,339.84 1646.5,340.67 1646.75,340.91 1647,340.74 1647.25,341.95 1647.5,341.38 1647.75,342.41 1648,339.72 1648.25,339.63 1648.5,344.88 1648.75,339.8 1649,339.82 1649.25,340.54 1649.5,337.22 1649.75,337.91 1650,340.42 1650.25,341.31 1650.5,338.01 1650.75,337.92 1651,341.66 1651.25,337.3 1651.5,338.03 1651.75,336.77 1652,339.42 1652.25,336.05 1652.5,338.2 1652.75,340.99 1653,338.77 1653.25,340.86 1653.5,338.37 1653.75,336.6 1654,336.89 1654.25,337.39 1654.5,340.22 1654.75,339.98 1655,339.24 1655.25,337.24 1655.5,336.32 1655.75,337.96 1656,338.05 1656.25,336.97 1656.5,337.41 1656.75,336.06 1657,337.33 1657.25,336.09 1657.5,334.58 1657.75,335.92 1658,335.25 1658.25,334.71 1658.5,332.82 1658.75,336.04 1659,333.51 1659.25,333.9 1659.5,332.54 1659.75,335.85 1660,339.44 1660.25,333.25 1660.5,335.6 1660.75,338.53 1661,336.24 1661.25,332.22 1661.5,336.54 1661.75,334.5 1662,331.96 1662.25,330.89 1662.5,332.5 1662.75,335.23 1663,329.61 1663.25,330.26 1663.5,334.61 1663.75,333.15 1664,334.23 1664.25,330.11 1664.5,332.26 1664.75,335.49 1665,331.42 1665.25,332.21 1665.5,328.47 1665.75,332.39 1666,333.03 1666.25,335.16 1666.5,332.71 1666.75,329.33 1667,330.83 1667.25,332.02 1667.5,333.52 1667.75,325.96 1668,329.31 1668.25,330.19 1668.5,328.34 1668.75,327.6 1669,326.01 1669.25,330.61 1669.5,330.17 1669.75,329.71 1670,328.08 1670.25,327.24 1670.5,333.47 1670.75,330.97 1671,333.68 1671.25,330.39 1671.5,332.67 1671.75,330.59 1672,331.56 1672.25,329.71 1672.5,332.22 1672.75,330.4 1673,333.39 1673.25,332.35 1673.5,330.28 1673.75,332.75 1674,331.21 1674.25,331.7 1674.5,334.16 1674.75,330.16 1675,331.37 1675.25,332.48 1675.5,331.15 1675.75,334.65 1676,330.66 1676.25,331.68 1676.5,332.39 1676.75,331.93 1677,337.8 1677.25,335.1 1677.5,333.67 1677.75,336.77 1678,335.56 1678.25,334.98 1678.5,332.93 1678.75,339.4 1679,336.39 1679.3,335.97 1679.55,332.98 1679.8,331.64 1680.05,333.13 1680.3,333.66 1680.55,330.07 1680.8,331.2 1681.05,328.18 1681.3,331.78 1681.55,330.46 1681.8,332.15 1682.05,324.83 1682.3,328.26 1682.55,327.02 1682.8,328.22 1683.05,322.04 1683.3,320.54 1683.55,317.42 1683.8,321.04 1684.05,316.18 1684.3,316.04 1684.55,317.87 1684.8,312.95 1685.05,321.12 1685.3,314.21 1685.55,311.23 1685.8,306.02 1686.05,307.48 1686.3,303.4 1686.55,302.46 1686.8,317.36 1687.05,296.24 1687.3,300.44 1687.55,298.37 1687.8,302.34 1688.05,294.39 1688.3,289.17 1688.55,296.61 1688.8,294.75 1689.05,285.21 1689.3,292.22 1689.55,297.47 1689.8,287.47 1690.05,300.09 1690.3,296.5 1690.55,300.31 1690.8,307.69 1691.05,278.74 1691.3,280.85 1691.55,279.56 1691.8,277.76 1692.05,303.46 1692.3,287.74 1692.55,290.19 1692.8,284.11 1693.05,268.3 1693.3,290.74 1693.55,279.26 1693.8,291.45 1694.05,302.42 1694.3,300.77 1694.55,305.96 1694.8,286.65 1695.05,270.93 1695.3,284.23 1695.55,284.37 1695.8,262.38 1696.05,273.2 1696.3,287.26 1696.55,288.08 1696.8,278.33 1697.05,294.95 1697.3,288.21 1697.55,280.37 1697.8,274.84 1698.05,290.27 1698.3,289.55 1698.55,297.26 1698.8,295.99 1699.05,264.78 1699.3,265.72 1699.55,284.39 1699.8,276.25 1700.05,278.15 1700.3,282.94 1700.55,282.91 1700.8,286.26 1701.05,305.54 1701.3,274.14 1701.55,274.04 1701.8,289.35 1702.05,276.1 1702.3,279.76 1702.55,261.6 1702.8,276.47 1703.05,271.12 1703.3,287.52 1703.55,268.91 1703.8,265.2 1704.05,280.17 1704.3,269.84 1704.55,280.47 1704.8,264.56 1705.05,265.12 1705.3,273.8 1705.55,286.14 1705.55,313.6 1705.75,286.14 1705.8,278.43 1706.05,292.35 1706.3,280.07 1706.3,200.9 1706.5,280.07 1706.55,276.37 1706.55,200.9 1706.75,276.37 1706.8,281.22 1707.05,269.44 1707.3,268.59 1707.55,261.1 1707.8,282.31 1708.05,260.3 1708.3,287.65 1708.55,271.07 1708.8,257.24 1709.05,249.22 1709.3,263.07 1709.55,264.27 1709.8,265.5 1710.05,253.91 1710.3,255.4 1710.55,264.25 1710.8,266.26 1711.05,254.86 1711.3,278.51 1711.55,254.01 1711.8,273.53 1712.05,247.96 1712.3,256.95 1712.55,266.03 1712.8,274.22 1713.05,279.59 1713.3,252.98 1713.55,273.65 1713.8,262.33 1714.05,239.71 1714.3,257.39 1714.55,256.11 1714.8,269.28 1715.05,252.13 1715.3,238.15 1715.55,264.9 1715.8,245.16 1716.05,249.98 1716.3,262.77 1716.55,251.55 1716.8,244.19 1717.05,263.21 1717.3,262.92 1717.55,260.99 1717.8,262.78 1718.05,240.83 1718.3,255.05 1718.55,246.15 1718.8,264.57 1719.05,250.67 1719.3,261.76 1719.55,266.67 1719.8,246 1720.05,257.76 1720.3,264.11 1720.55,272.92 1720.8,257.12 1721.05,260.85 1721.3,248.88 1721.55,236.52 1721.8,236.42 1722.05,264.29 1722.3,241.76 1722.55,251.71 1722.8,258.08 1723.05,246.79 1723.3,244.87 1723.55,257.79 1723.8,240.76 1724.05,250.33 1724.3,244.1 1724.55,254.79 1724.8,235.64 1725.05,253.38 1725.3,249.46 1725.55,246.29 1725.8,242.42 1726.05,254.56 1726.3,244.65" fill="none" stroke="#f00" stroke-width="2.2" stroke-linejoin="round"/></g><path d="M1800 110H1205V455H1800" fill="none" stroke="#000" stroke-width="2"/><line x1="1800" y1="109" x2="1800" y2="455" stroke="#f00" stroke-width="2"/><path d="M1206 411.5h5M1206 368.5h5M1206 325.5h5M1206 282.5h5M1206 239.5h5M1206 196.5h5M1206 153.5h5M1245.5 454v-4M1319.5 454v-4M1394.5 454v-4M1468.5 454v-4M1542.5 454v-4M1617.5 454v-4M1691.5 454v-4M1765.5 454v-4" stroke="#000" stroke-width="1" fill="none"/><path d="M1799 386.5h-5M1799 317.5h-5M1799 248.5h-5M1799 179.5h-5" stroke="#f00" stroke-width="1" fill="none"/><text x="1159.52" y="462.8" font-size="20.6" fill="#000" textLength="39.74" lengthAdjust="spacingAndGlyphs">−20</text><text x="1159.91" y="419.68" font-size="20.6" fill="#000" textLength="39.45" lengthAdjust="spacingAndGlyphs">−15</text><text x="1159.52" y="376.55" font-size="20.6" fill="#000" textLength="39.74" lengthAdjust="spacingAndGlyphs">−10</text><text x="1172.23" y="333.43" font-size="20.6" fill="#000" textLength="27.13" lengthAdjust="spacingAndGlyphs">−5</text><text x="1187.76" y="290.3" font-size="20.6" fill="#000" textLength="11.38" lengthAdjust="spacingAndGlyphs">0</text><text x="1188.39" y="247.18" font-size="20.6" fill="#000" textLength="10.81" lengthAdjust="spacingAndGlyphs">5</text><text x="1175.52" y="204.05" font-size="20.6" fill="#000" textLength="23.68" lengthAdjust="spacingAndGlyphs">10</text><text x="1175.93" y="160.93" font-size="20.6" fill="#000" textLength="23.36" lengthAdjust="spacingAndGlyphs">15</text><text x="1175.36" y="117.8" font-size="20.6" fill="#000" textLength="23.84" lengthAdjust="spacingAndGlyphs">20</text><text x="1805.38" y="462.8" font-size="20.6" fill="#f00" textLength="11.38" lengthAdjust="spacingAndGlyphs">0</text><text x="1805.11" y="393.8" font-size="20.6" fill="#f00" textLength="36.34" lengthAdjust="spacingAndGlyphs">200</text><text x="1805.77" y="324.8" font-size="20.6" fill="#f00" textLength="36.16" lengthAdjust="spacingAndGlyphs">400</text><text x="1805.11" y="255.8" font-size="20.6" fill="#f00" textLength="36.44" lengthAdjust="spacingAndGlyphs">600</text><text x="1805.22" y="186.8" font-size="20.6" fill="#f00" textLength="36.43" lengthAdjust="spacingAndGlyphs">800</text><text x="1804.57" y="117.8" font-size="20.6" fill="#f00" textLength="48.46" lengthAdjust="spacingAndGlyphs">1000</text><g transform="translate(1115.9,0) rotate(-90)"><text x="-321.83" y="0" font-size="25.8" fill="#000" textLength="78.61" lengthAdjust="spacingAndGlyphs">IMF Bz</text></g><g transform="translate(1146,0) rotate(-90)"><text x="-313.48" y="0" font-size="25.8" fill="#000" textLength="62.38" lengthAdjust="spacingAndGlyphs">( nT )</text></g><g transform="translate(1879.1,0) rotate(-90)"><text x="-354.69" y="0" font-size="25.8" fill="#f00" textLength="141.6" lengthAdjust="spacingAndGlyphs">SW Velocity</text></g><g transform="translate(1912.2,0) rotate(-90)"><text x="-338.02" y="0" font-size="25.8" fill="#f00" textLength="6.79" lengthAdjust="spacingAndGlyphs">(</text><text x="-322.55" y="0" font-size="25.8" fill="#f00" textLength="35.95" lengthAdjust="spacingAndGlyphs">km</text><text x="-280.77" y="0" font-size="25.8" fill="#f00">s</text><text x="-268.02" y="-10.5" font-size="17.57" fill="#f00" textLength="23.24" lengthAdjust="spacingAndGlyphs">−1</text><text x="-232.8" y="0" font-size="25.8" fill="#f00" textLength="6.66" lengthAdjust="spacingAndGlyphs">)</text></g><line x1="1206" y1="512.4" x2="1799" y2="512.4" stroke="#000" stroke-width="2" stroke-dasharray="2 3.4"/><line x1="1725.62" y1="479" x2="1725.62" y2="821" stroke="#1f77b4" stroke-width="2" stroke-dasharray="2 3.5"/><g clip-path="url(#cp5)"><path d="M1205.4,511.8 1212.8,512.4 1216.2,507.7 1225.7,516.2 1235.1,510.8 1240.5,514.9 1247.3,513.8 1256.7,510.4 1263.5,512.7 1272.9,512.2 1278.3,514.2 1285,513.8 1291.8,508.6 1302.6,505.4 1310.7,509.7 1318.8,515.8 1329.6,519.2 1343.1,522.6 1349.9,518.2 1356.6,517.2 1364.7,511.1 1371.5,509.1 1378.2,512.7 1389,513.1 1395.8,516.8 1403.9,514.9 1409.3,509.7 1414.7,507 1422.8,512.4 1430.9,515.4 1441.7,504.6 1448.4,507.7 1453.8,508.6 1459.2,511.4 1461.9,507 1471.2,505.9 1476.8,510.8 1484.5,513.8 1493.6,511.5 1502,507.3 1513.2,502.4 1524.4,502.8 1528.6,501.3 1537,508.7 1548.2,506.3 1560.8,513.8 1572,509.7 1586,506.9 1600,510.1 1614,511 1628,508.7 1636.4,511.5 1647.6,506.3 1656,505.9 1663,502.1 1670,501 1672.8,496.8 1678.4,491.2 1681.9,493.3 1684.7,509.4 1692.4,515.7 1700.8,517.8 1703.6,522.7 1709.2,526.2 1712,524.8 1721.8,525.5" fill="none" stroke="#000" stroke-width="2.2" stroke-linejoin="round"/><path d="M1205.5,694.29 1205.75,699.68 1206,698.69 1206.25,726.7 1206.5,712.04 1206.75,671.19 1207,749.23 1207.25,717.53 1207.5,698.41 1207.75,777.92 1208,720.41 1208.25,703.93 1208.5,744.26 1208.75,732.76 1209,732.61 1209.25,707.24 1209.5,749.35 1209.75,731.04 1210,708.09 1210.25,750.83 1210.5,709.37 1210.75,668.18 1211,721.94 1211.25,675.51 1211.5,713.5 1211.75,662.53 1212,683.6 1212.25,760.7 1212.5,726.82 1212.5,635 1212.7,726.82 1212.75,719.58 1213,686.03 1213,793 1213.2,686.03 1213.25,740.26 1213.5,746.63 1213.75,744.94 1214,704.94 1214.25,698.72 1214.5,675.48 1214.75,740.74 1215,678.75 1215.25,757.73 1215.5,728.97 1215.75,710.55 1216,701.3 1216,657 1216.2,701.3 1216.25,720.88 1216.5,707.62 1216.75,696.26 1217,696.37 1217.25,719.76 1217.5,752.89 1217.75,764.43 1218,722.42 1218.25,749.05 1218.5,720.88 1218.75,739.48 1219,710.7 1219.25,755.1 1219.5,730.38 1219.75,731.81 1220,721.87 1220.25,730.72 1220.5,735.35 1220.75,763.94 1221,751.14 1221.25,735.19 1221.5,766.17 1221.75,769.46 1222,742.65 1222.25,736.88 1222.5,737.89 1222.75,761.77 1223,784.99 1223.25,757.24 1223.5,740.13 1223.75,756.32 1224,758.76 1224.25,760.18 1224.5,754.82 1224.75,758.27 1225,760.14 1225.25,775.29 1225.5,750.13 1225.75,774.52 1226,741.22 1226.25,764.69 1226.5,776.91 1226.75,747.57 1227,761.16 1227,800 1227.2,761.16 1227.25,779.88 1227.5,754.71 1227.75,758.35 1228,737.05 1228.25,743.59 1228.5,746.17 1228.75,734.84 1229,736.86 1229.25,728.78 1229.5,743.58 1229.75,747.67 1230,747.09 1230.25,765.86 1230.5,746.16 1230.75,739.53 1231,750.81 1231.25,752.42 1231.5,766.37 1231.75,744.31 1232,747.08 1232.25,750.1 1232.5,738.62 1232.75,750.69 1233,739.44 1233.25,728.6 1233.5,728.95 1233.75,742.1 1234,728.34 1234.25,724.48 1234.5,729.58 1234.75,735.89 1235,723.13 1235.25,718.6 1235.5,718.9 1235.75,721.06 1236,712.54 1236.25,729.37 1236.5,728.91 1236.75,725.21 1237,709.93 1237.25,711.72 1237.5,695.34 1237.75,701.39 1238,724.38 1238.25,720.38 1238.5,701.2 1238.75,715.6 1239,728.12 1239.25,708.05 1239.5,712.46 1239.75,704.68 1240,717.73 1240.25,711.5 1240.5,710.02 1240.75,696.07 1241,722.54 1241.25,720.59 1241.5,710.62 1241.75,718.23 1242,693.3 1242.25,685.76 1242.5,708.63 1242.75,701.79 1243,695.41 1243.25,714.84 1243.5,722.85 1243.75,715.15 1244,731.83 1244.25,715.56 1244.5,695.88 1244.75,714.52 1245,725.53 1245.25,696.23 1245.5,693.09 1245.75,716.95 1246,695.09 1246.25,678.91 1246.5,708.18 1246.75,696.58 1247,712.88 1247.25,725 1247.5,727.77 1247.75,694.61 1248,713.76 1248.25,711.15 1248.5,714.65 1248.75,720.76 1249,708.46 1249.25,695.68 1249.5,722.94 1249.75,714.31 1250,700.85 1250.25,689.12 1250.5,708.97 1250.75,719.36 1251,710.69 1251.25,707.67 1251.5,707.3 1251.75,728.5 1252,720.54 1252.25,704.77 1252.5,704.31 1252.75,702.99 1253,717.74 1253.25,702.5 1253.5,697.32 1253.75,700.71 1254,710.73 1254.25,702.35 1254.5,696.07 1254.75,719.45 1255,733.66 1255,659 1255.2,733.66 1255.25,711.35 1255.5,707.6 1255.75,715.34 1256,708.1 1256.25,725.31 1256.5,726.44 1256.75,696.09 1257,703.03 1257.25,700.51 1257.5,713.83 1257.75,698.5 1258,717.21 1258.25,708.87 1258.5,710.36 1258.75,690.16 1259,704.23 1259.25,719.47 1259.5,700.33 1259.75,722.63 1260,681.63 1260.25,703.39 1260.5,705.56 1260.75,720.43 1261,716.86 1261.25,695.98 1261.5,722.48 1261.75,714.27 1262,702.35 1262.25,694.7 1262.5,710.71 1262.75,687.43 1263,697.62 1263.25,736.86 1263.5,741.73 1263.75,716.37 1264,733.12 1264.25,706.12 1264.5,702.58 1264.75,707.05 1265,720.08 1265.25,717.11 1265.5,702.38 1265.75,716.39 1266,706.95 1266.25,727.44 1266.5,722.42 1266.75,712.69 1267,743.45 1267.25,714.3 1267.5,725.4 1267.75,723.08 1268,727.98 1268.25,699.64 1268.5,723.49 1268.75,736.44 1269,707.94 1269.25,716.81 1269.5,703.12 1269.75,708.82 1270,718.31 1270.25,733.07 1270.5,723.42 1270.75,705.51 1271,718.84 1271.25,707.02 1271.5,742.53 1271.75,728.24 1272,719.01 1272.25,699.74 1272.5,705.81 1272.75,705.88 1273,692.02 1273.25,697.72 1273.5,720.41 1273.75,708.89 1274,714.29 1274.25,731.86 1274.5,729.16 1274.75,725.64 1275,707.15 1275.25,700.53 1275.5,742.06 1275.75,731.05 1276,709.42 1276.25,720.36 1276.5,740 1276.75,735.34 1277,723.86 1277.25,700.62 1277.5,716.78 1277.75,713.8 1278,719.03 1278.25,734.71 1278.5,724.98 1278.75,702.9 1279,693.92 1279.25,703.85 1279.5,713.75 1279.75,716.9 1280,725.81 1280.25,699.88 1280.5,712.69 1280.75,743.71 1281,743.15 1281.25,725.94 1281.5,714.53 1281.75,703.44 1282,702.93 1282.25,724.5 1282.5,713.06 1282.75,737.34 1283,694.91 1283.25,731.07 1283.5,700.21 1283.75,699.75 1284,723.9 1284.25,692.06 1284.5,746.8 1284.75,691.15 1285,696.13 1285.25,699.19 1285.5,713.33 1285.75,715.72 1286,705.81 1286.25,691.82 1286.5,701.07 1286.75,734.8 1287,717.69 1287.25,699.77 1287.5,700.81 1287.75,698.08 1288,674.64 1288.25,692.36 1288.5,707.21 1288.75,725.85 1289,735.16 1289.25,695.17 1289.5,728.9 1289.75,727.68 1290,726.41 1290.25,700.23 1290.5,739.11 1290.75,759.09 1291,742.62 1291.25,746.99 1291.5,717.92 1291.75,727.95 1292,754.57 1292.25,695.41 1292.5,727.11 1292.75,744.93 1293,763.15 1293.25,725.99 1293.5,705.72 1293.75,744.73 1294,702.26 1294.25,682.68 1294.5,707.52 1294.75,716 1295,703.01 1295.25,638.18 1295.5,726.05 1295.75,754.8 1296,736.55 1296.25,712 1296.5,666.44 1296.75,704.01 1297,741.17 1297.25,725.09 1297.5,709.42 1297.75,770.81 1297.75,609 1297.95,770.81 1298,768.62 1298.25,767.33 1298.5,710.14 1298.75,692.32 1299,742.86 1299.25,705.44 1299.5,722.49 1299.75,681.59 1300,714.42 1300.25,715.2 1300.5,774.48 1300.75,727.97 1301,726.03 1301.25,685.54 1301.5,730.7 1301.75,761.25 1302,744.49 1302.25,715.26 1302.5,674.95 1302.75,712.26 1303,727.45 1303.25,685.22 1303.5,762.72 1303.75,747.42 1304,702.59 1304.25,663.02 1304.5,683.08 1304.75,735.93 1305,741.52 1305.25,692.5 1305.5,713.21 1305.75,729.46 1305.75,609 1305.95,729.46 1306,768.75 1306.25,671.65 1306.5,648.17 1306.75,749.27 1307,740.77 1307.25,761.65 1307.5,738.98 1307.75,699.35 1308,719.67 1308.25,712.75 1308.5,741.7 1308.75,688.05 1309,669.7 1309.25,706.1 1309.5,753.23 1309.75,727.38 1310,710.7 1310.25,738.09 1310.5,746.88 1310.75,761.07 1311,730.17 1311.25,732.01 1311.5,746.74 1311.75,715.7 1312,741.51 1312,634 1312.2,741.51 1312.25,704.38 1312.5,772.22 1312.75,716.22 1313,713.43 1313.25,729.15 1313.5,711.9 1313.75,688.62 1314,748.54 1314.25,778.84 1314.5,758.62 1314.75,700.4 1315,681.93 1315.25,666.63 1315.5,700.2 1315.75,757.17 1316,757.51 1316.25,691.91 1316.5,705.5 1316.75,756.01 1317,721.58 1317.25,774.31 1317.25,634 1317.45,774.31 1317.5,765.45 1317.75,725.72 1318,760.34 1318.25,696.57 1318.5,741.27 1318.75,732.81 1319,765.2 1319.25,740.82 1319.5,773.24 1319.75,751.07 1320,739.9 1320.25,744.87 1320.5,717.1 1320.75,746.12 1321,714.11 1321.25,760.7 1321.5,725.77 1321.75,775.04 1322,776.21 1322.25,769.53 1322.5,707.8 1322.75,740.04 1323,719.13 1323.25,760.64 1323.5,725.61 1323.75,726.92 1324,712.76 1324.25,724.42 1324.5,748.76 1324.75,737.11 1325,769.5 1325.25,766 1325.5,726.48 1325.75,743.79 1326,748.03 1326.25,778.83 1326.5,756.8 1326.75,768.93 1327,761.75 1327.25,760.18 1327.5,783.48 1327.75,791.69 1328,779.06 1328.25,779.81 1328.5,787.02 1328.75,766.89 1329,802.76 1329.25,767.24 1329.5,799.28 1329.75,792.4 1330,788.25 1330.25,798.27 1330.5,808.48 1330.75,782.07 1331,788.6 1331.25,809.78 1331.5,776.27 1331.75,779.4 1332,794.1 1332.25,803.23 1332.5,804.2 1332.75,771.92 1333,795.05 1333.25,764.24 1333.5,770.87 1333.75,778.27 1334,780.63 1334.25,796.32 1334.5,802.97 1334.75,781.8 1335,786.55 1335.25,771.82 1335.5,790.64 1335.75,780.01 1336,797.1 1336.25,806.19 1336.5,789.29 1336.75,765.91 1337,782.78 1337.25,766.08 1337.5,765.75 1337.75,793.82 1338,778.63 1338.25,793.76 1338.5,774.17 1338.75,770.63 1339,796.3 1339.25,774.89 1339.5,754.2 1339.75,791.53 1340,781.94 1340.25,779.58 1340.5,763.91 1340.75,775.27 1341,752.27 1341.25,788.74 1341.5,771.52 1341.75,743.29 1342,776.9 1342.25,756.83 1342.5,766.64 1342.75,787.03 1343,780.77 1343.25,757.99 1343.5,779.94 1343.75,762.54 1344,770.32 1344,680 1344.2,770.32 1344.25,751.74 1344.5,782.96 1344.75,761.9 1345,776.95 1345.25,759.87 1345.5,790.97 1345.75,782.56 1345.75,830 1345.95,782.56 1346,762.84 1346.25,783.78 1346.5,748.01 1346.75,766.51 1347,765.35 1347.25,773.04 1347.5,743.29 1347.75,757.48 1348,781.7 1348.25,759.71 1348.5,767.32 1348.75,760.08 1349,743.17 1349.25,747.8 1349.5,761.09 1349.75,747.39 1350,747.72 1350.25,752.31 1350.5,758.72 1350.75,752.51 1351,777.47 1351.25,742.73 1351.5,771.02 1351.75,770.75 1352,777.78 1352.25,747.43 1352.5,747 1352.75,763.96 1353,763.1 1353.25,765.67 1353.5,749.76 1353.75,743.61 1354,757.28 1354.25,741.46 1354.5,755.15 1354.75,755.4 1355,754.43 1355.25,761.21 1355.5,741.16 1355.75,752.71 1356,747.23 1356.25,735.85 1356.5,743.79 1356.75,722.06 1357,743.69 1357.25,737.23 1357.5,737.35 1357.75,727.94 1358,737.57 1358.25,731.9 1358.5,718.57 1358.75,720.92 1359,724.52 1359.25,736.38 1359.5,730.54 1359.75,722.23 1360,720.81 1360.25,713.97 1360.5,716.16 1360.75,713.53 1361,713.47 1361.25,725.77 1361.5,712.1 1361.75,715.07 1362,718.81 1362.25,722.4 1362.5,719.32 1362.75,714.37 1363,711.25 1363.25,709.37 1363.5,722.9 1363.75,718.6 1364,717.09 1364.25,719.3 1364.5,710.79 1364.75,714.38 1365,702.9 1365.25,710.24 1365.5,718.94 1365.75,708.38 1366,693.66 1366.25,715.74 1366.5,704.46 1366.75,708.5 1367,703.65 1367.25,700.79 1367.5,717.83 1367.75,703.22 1368,687.01 1368.25,706.92 1368.5,716.07 1368.75,698.44 1369,708.24 1369.25,695.27 1369.5,717.01 1369.75,696.26 1370,706.02 1370.25,711.12 1370.5,694.84 1370.75,701.52 1371,712.2 1371.25,722.63 1371.5,696.43 1371.75,713.45 1372,698.09 1372.25,686.73 1372.5,709.84 1372.75,700.47 1373,710.32 1373.25,690.42 1373.5,714.71 1373.75,698.93 1374,693.5 1374.25,696.94 1374.5,698.69 1374.75,701.81 1375,694.8 1375.25,692.82 1375.5,711.87 1375.75,690.18 1376,699.25 1376.25,703.15 1376.5,704.3 1376.75,701.09 1377,700.42 1377.25,694.35 1377.5,697.46 1377.75,709.81 1378,708.73 1378.25,705.7 1378.5,716.4 1378.75,703.74 1379,704.15 1379.25,710.96 1379.5,699.93 1379.75,701.84 1380,691.6 1380.25,704.5 1380.5,693.37 1380.75,703.89 1381,706.04 1381.25,692.43 1381.5,689.87 1381.75,695.9 1382,689.47 1382.25,710.73 1382.25,654 1382.45,710.73 1382.5,710.74 1382.5,654 1382.7,710.74 1382.75,685.34 1383,701.58 1383.25,712.26 1383.5,720.26 1383.75,695.51 1384,705.91 1384.25,696.16 1384.5,695.85 1384.75,697.38 1385,711.17 1385.25,710.56 1385.5,716.93 1385.75,711.14 1386,707.37 1386.25,707.62 1386.5,692.14 1386.75,702.77 1387,687.34 1387.25,702.9 1387.5,698.76 1387.75,702.92 1388,715.91 1388.25,711.02 1388.5,706.67 1388.75,710.54 1389,703.26 1389.25,709.38 1389.5,719.38 1389.75,699.62 1390,714.39 1390.25,715.14 1390.5,715.8 1390.75,701.31 1391,697.82 1391.25,701.92 1391.5,716.77 1391.75,706.76 1392,713.94 1392.25,680.97 1392.5,707.88 1392.75,706.83 1393,702.68 1393.25,713.31 1393.5,707.56 1393.75,718.55 1394,711.36 1394.25,715.36 1394.5,715.97 1394.75,710.5 1395,694.37 1395.25,699.85 1395.5,728.48 1395.75,710.69 1396,714.25 1396.25,705.7 1396.5,693.77 1396.75,712.89 1397,702.73 1397.25,690.03 1397.5,725.42 1397.75,711.77 1398,702.32 1398.25,700.59 1398.5,700.08 1398.75,728.81 1399,704.73 1399.25,722.94 1399.5,697.21 1399.75,720.85 1400,716.84 1400.25,725.23 1400.5,718.47 1400.75,714.92 1401,729.3 1401.25,731.16 1401.5,718.07 1401.75,714.56 1402,729.38 1402.25,729.66 1402.5,710.96 1402.75,719.47 1403,722.48 1403.25,712.83 1403.5,723.08 1403.75,707.49 1404,708.05 1404.25,688.62 1404.5,718.08 1404.75,709.01 1405,716.99 1405.25,722.62 1405.5,696.67 1405.75,691.04 1406,698.62 1406.25,708.1 1406.5,734.54 1406.75,694.44 1407,714.23 1407.25,729.45 1407.5,696.07 1407.75,701.74 1408,728.32 1408.25,727.82 1408.5,713.69 1408.75,709.52 1409,726.55 1409.25,731.97 1409.5,746.6 1409.75,715.03 1410,714.43 1410.25,731.3 1410.5,738.36 1410.75,733.41 1411,706.93 1411.25,699.49 1411.5,737.03 1411.75,739.88 1412,734.61 1412.25,708.21 1412.5,733.31 1412.75,717.46 1413,710.73 1413.25,711.78 1413.5,706.2 1413.75,705.14 1414,714.67 1414.25,715.01 1414.5,706.65 1414.75,733.4 1415,707.85 1415.25,751.25 1415.5,710.95 1415.75,733.49 1416,722.57 1416.25,713.02 1416.5,712.89 1416.75,713.76 1417,731.91 1417.25,721.43 1417.5,717.57 1417.75,737.34 1418,711.2 1418.25,707.63 1418.5,702.39 1418.75,731.75 1419,698.28 1419.25,718.37 1419.5,698.48 1419.75,703.23 1420,701.68 1420.25,708.28 1420.5,721.19 1420.75,700.09 1421,743.91 1421.25,739.38 1421.5,741.98 1421.75,712.5 1422,722.48 1422.25,698.63 1422.5,712.61 1422.75,720.06 1423,734.57 1423.25,691.82 1423.5,718.89 1423.75,714.56 1424,724.76 1424.25,700.42 1424.5,718.19 1424.75,735.26 1425,727.7 1425.25,725.15 1425.5,716.41 1425.75,720.46 1426,702.11 1426.25,675.04 1426.5,701.25 1426.75,716.91 1427,739.74 1427.25,717.51 1427.5,706.45 1427.75,711.35 1428,734.41 1428.25,702.63 1428.5,722.32 1428.75,726.24 1429,708.72 1429.25,701.67 1429.5,685.36 1429.75,700.5 1430,717.43 1430.25,707.95 1430.5,721.68 1430.75,715.41 1431,738.6 1431.25,731.3 1431.5,714.61 1431.75,694.29 1432,697.2 1432.25,726.37 1432.5,721.06 1432.75,701.5 1433,687.33 1433.25,710.75 1433.5,721.75 1433.75,707.49 1434,696.77 1434.25,720.4 1434.5,690.16 1434.75,700.25 1435,668.57 1435.25,714.55 1435.5,677.62 1435.75,673.54 1436,682.82 1436.25,711.64 1436.5,687.96 1436.75,707.28 1437,695.02 1437.25,727.4 1437.5,687.66 1437.75,699.04 1438,697.35 1438.25,705.99 1438.5,679.9 1438.75,707.7 1439,701.78 1439.25,669.9 1439.5,694.66 1439.75,709.83 1440,663.62 1440.25,680.58 1440.5,711.69 1440.75,676 1441,699.76 1441.25,679.97 1441.5,673.93 1441.75,703.72 1442,727.08 1442.25,717.25 1442.25,634 1442.45,717.25 1442.5,687.78 1442.75,694.11 1443,703.88 1443.25,715.37 1443.5,655.36 1443.75,692.97 1444,723.55 1444.25,727.67 1444.5,712.86 1444.75,660.01 1445,684.74 1445.25,712.44 1445.5,691.4 1445.75,674.35 1446,687.2 1446.25,718.56 1446.5,692.25 1446.75,690.76 1447,692.63 1447.25,713.44 1447.5,698.68 1447.75,711.17 1448,715.49 1448.25,719.53 1448.5,708.16 1448.75,685.6 1449,694.03 1449.25,662.9 1449.5,686.85 1449.75,669.51 1450,683.97 1450.25,699.25 1450.5,680.7 1450.75,671.62 1451,677.45 1451.25,727.78 1451.5,732.79 1451.75,726.13 1452,673.12 1452.25,730.22 1452.5,720.48 1452.5,652 1452.7,720.48 1452.75,724.61 1452.75,652 1452.95,724.61 1453,704.84 1453.25,700.8 1453.5,698.89 1453.75,695.31 1454,688.7 1454.25,719.78 1454.5,726.76 1454.75,710.55 1455,677.73 1455.25,722.57 1455.5,696.44 1455.75,695.41 1456,740.2 1456.25,698.4 1456.5,726.93 1456.75,681.36 1457,689.12 1457.25,721.19 1457.5,686.65 1457.75,674.84 1458,709.4 1458.25,718.63 1458.5,677.2 1458.75,656.87 1459,703.3 1459.25,740.72 1459.5,752.09 1459.75,755.26 1460,692.29 1460.25,753.68 1460.5,707.02 1460.75,718.97 1461,694.73 1461.25,734.06 1461.5,694.73 1461.75,733.83 1462,734.62 1462.25,701.71 1462.5,704.62 1462.75,777.44 1463,703.63 1463.25,715.51 1463.5,687.22 1463.75,753.61 1464,744.37 1464.25,764.36 1464.5,713.24 1464.75,734.19 1465,754.08 1465.25,748.6 1465.5,734.82 1465.75,710.25 1466,687.54 1466.25,723.72 1466.5,688.75 1466.75,705.6 1467,686.29 1467.25,703.47 1467.5,712.76 1467.75,742.48 1468,682.14 1468.25,734.41 1468.5,723.16 1468.75,704.43 1469,750.28 1469.25,735.85 1469.5,735.61 1469.75,748.76 1470,739.77 1470.25,776.66 1470.5,750.48 1470.75,748.39 1471,735.71 1471.25,782.59 1471.5,632.96 1471.75,690.73 1472,722.84 1472.25,719.38 1472.5,770.08 1472.75,700.04 1473,672 1473.25,721.17 1473.5,690.22 1473.75,729.55 1474,726.09 1474.25,746.61 1474.5,707.12 1474.75,734.41 1475,736.9 1475.25,701.04 1475.5,730.63 1475.75,713.55 1476,728.62 1476.25,764.56 1476.5,760.36 1476.75,730.15 1477,731.79 1477.25,748.18 1477.5,704.04 1477.75,702.62 1478,756.08 1478.25,716.64 1478.5,743.55 1478.75,753.71 1479,756.73 1479.25,688.15 1479.5,762.77 1479.75,719.94 1480,714.63 1480.25,742.6 1480.5,738.66 1480.75,741.19 1481,739.26 1481.25,732.27 1481.5,751.96 1481.75,701.81 1482,700.4 1482,560 1482.2,700.4 1482.25,699.96 1482.5,674.51 1482.75,664.52 1483,648.98 1483.25,654.7 1483.5,650.15 1483.75,654.53 1484,652.08 1484.25,653.81 1484.5,652.69 1484.75,657.71 1485,658.37 1485.25,662.02 1485.5,659.36 1485.75,664.86 1486,661.28 1486.25,667.95 1486.5,652.24 1486.75,659.68 1487,666.34 1487.25,655.11 1487.5,667.83 1487.75,662.09 1488,664.16 1488.25,663.75 1488.5,662.32 1488.75,654.97 1489,661.71 1489.25,657.68 1489.5,666.1 1489.75,666.91 1490,659.97 1490.25,664.8 1490.5,663.54 1490.75,672.66 1491,668.56 1491.25,664.9 1491.5,667.19 1491.75,659.01 1492,662.57 1492.25,668.05 1492.5,663.07 1492.75,657.92 1493,667.72 1493.25,664.53 1493.5,672.77 1493.75,671.33 1494,670.98 1494.25,665.06 1494.5,661.09 1494.75,662.12 1495,675.11 1495.25,680.05 1495.5,672.7 1495.75,676.34 1496,668.6 1496.25,668.7 1496.5,669.55 1496.75,677.3 1497,660.94 1497.25,657.65 1497.5,672.36 1497.75,664.54 1498,662.53 1498.25,669.81 1498.5,667.32 1498.75,667.16 1499,675.5 1499.25,673.45 1499.5,673.18 1499.75,664.86 1500,675.74 1500.25,673.92 1500.5,688.61 1500.75,672.46 1501,675.88 1501.25,665.8 1501.5,658.81 1501.75,661.99 1502,658.47 1502.25,661.36 1502.5,668.92 1502.75,655.3 1503,663.05 1503.25,658.77 1503.5,673.88 1503.75,657.99 1504,658.56 1504.25,673.28 1504.5,657.2 1504.75,661.24 1505,668.45 1505.25,661.23 1505.5,656.12 1505.75,659.62 1506,669.39 1506.25,657.3 1506.5,673.24 1506.75,672.24 1507,660.28 1507.25,655.39 1507.5,664.68 1507.75,675.76 1508,659.98 1508.25,653.57 1508.5,669.51 1508.75,674.13 1509,654.76 1509.25,655.37 1509.5,663.02 1509.75,660.53 1510,666.25 1510.25,645.98 1510.5,682.68 1510.75,659.33 1511,659.43 1511.25,656.41 1511.5,661.64 1511.75,663.71 1512,667.35 1512.25,656.58 1512.5,666.03 1512.75,662.98 1513,668.47 1513.25,650.69 1513.5,658.97 1513.75,654.9 1514,656.92 1514.25,656.58 1514.5,671.55 1514.75,656.46 1515,662.98 1515.25,654.63 1515.5,669.7 1515.75,648.29 1516,665.37 1516.25,665.34 1516.5,645.12 1516.75,638.05 1517,649.36 1517.25,639.9 1517.5,659.75 1517.75,660.38 1518,647.29 1518.25,650.52 1518.5,645.14 1518.75,651.6 1519,646.44 1519.25,670.6 1519.5,653.12 1519.75,641.59 1520,659.34 1520.25,659.64 1520.5,633.6 1520.75,647.04 1521,644.9 1521.25,663.4 1521.5,651.33 1521.75,649.97 1522,653.04 1522.25,659.47 1522.5,667.06 1522.75,647.06 1523,654.39 1523.25,675.09 1523.5,647.43 1523.75,642.56 1524,668.41 1524.25,671.09 1524.5,646.11 1524.75,650.35 1525,658.92 1525.25,654.66 1525.5,660.61 1525.75,645.57 1526,665.03 1526.25,647.7 1526.5,657.35 1526.75,660.76 1527,655.42 1527.25,655.47 1527.5,651.62 1527.75,670.09 1528,666.3 1528.25,662.02 1528.5,659.6 1528.75,646.45 1529,644.97 1529.25,658.33 1529.5,658.09 1529.75,653.45 1530,666.71 1530.25,648.18 1530.5,655.77 1530.75,653.71 1531,643.26 1531.25,653.09 1531.5,646.11 1531.75,644.53 1532,640.02 1532.25,644.18 1532.5,649.18 1532.75,652.96 1533,637.16 1533.25,625.48 1533.5,650.15 1533.75,644.12 1534,653.83 1534.25,646.57 1534.5,634.12 1534.75,645.7 1535,634.61 1535.25,639.97 1535.5,637.55 1535.75,643.58 1536,640.27 1536.25,634.62 1536.5,643.62 1536.75,649.82 1537,644.71 1537.25,636.57 1537.5,631.93 1537.75,635.59 1538,641.52 1538.25,634.75 1538.5,649.61 1538.75,662.77 1539,646.74 1539.25,655.01 1539.5,654.1 1539.75,649.96 1540,640.43 1540.25,647.45 1540.5,656.95 1540.75,654.36 1541,644.91 1541.25,649.66 1541.5,657 1541.75,653.46 1542,632.59 1542.25,661.64 1542.5,648.9 1542.75,656.14 1543,647.97 1543.25,643.31 1543.5,641.69 1543.75,651.2 1544,652.45 1544.25,644.28 1544.5,647.48 1544.75,662.87 1545,655.29 1545.25,645.76 1545.5,662.26 1545.75,644.86 1546,642.01 1546.25,649.84 1546.5,642.12 1546.75,662.39 1547,666.92 1547.25,654.2 1547.5,657.21 1547.75,654.99 1548,660.37 1548.25,653.31 1548.5,676.51 1548.75,648.74 1549,651.64 1549.25,648.58 1549.5,625.88 1549.75,663.05 1550,653.36 1550.25,651.62 1550.5,656.46 1550.75,660.41 1551,642.55 1551.25,651.07 1551.5,661.86 1551.75,651.62 1552,657.59 1552.25,670.41 1552.5,648.26 1552.75,639.18 1553,657.53 1553.25,649.21 1553.5,650.98 1553.75,657.52 1554,663.36 1554.25,656.25 1554.5,658.82 1554.75,644.96 1555,662.95 1555.25,665.57 1555.5,641.16 1555.75,657.76 1556,665.72 1556.25,666.69 1556.5,657.78 1556.75,678.83 1557,648.83 1557.25,644.64 1557.5,641.84 1557.75,648.68 1558,656.89 1558.25,647.18 1558.5,650.2 1558.75,648.9 1559,641.9 1559.25,643.4 1559.5,661.6 1559.75,667.35 1560,650.02 1560.25,655.67 1560.5,658.03 1560.75,641.5 1561,643.85 1561.25,645.28 1561.5,677.77 1561.75,649.86 1562,672.98 1562.25,666.95 1562.5,660.5 1562.75,663.96 1563,649.82 1563.25,653.2 1563.5,649.83 1563.75,651.49 1563.75,556 1563.95,651.49 1564,662.63 1564.25,650.57 1564.5,655.85 1564.75,662.92 1565,660.39 1565.25,662.99 1565.5,654.01 1565.75,664.37 1566,656.88 1566.25,652.24 1566.5,660.1 1566.75,654.44 1567,668.36 1567.25,658.64 1567.5,652.92 1567.75,659.14 1568,662.56 1568.25,670.78 1568.5,672.9 1568.75,663.2 1569,682.62 1569.25,662.35 1569.5,646.85 1569.75,659.97 1570,648.8 1570.25,658.93 1570.5,657.77 1570.75,668.59 1571,654.09 1571.25,655.68 1571.5,663.06 1571.75,664.58 1572,656.76 1572.25,648.64 1572.5,662.56 1572.75,663.56 1573,655.68 1573.25,665.45 1573.5,652.64 1573.75,657.49 1574,649.43 1574.25,664 1574.5,657.72 1574.75,668.89 1575,654.04 1575.25,658.45 1575.5,679.36 1575.75,651.63 1576,655.12 1576.25,660.86 1576.5,655.27 1576.75,674.77 1577,656.92 1577.25,665.31 1577.5,654.57 1577.75,659.01 1578,660.51 1578.25,655.61 1578.5,656.26 1578.75,661.45 1579,663.52 1579.25,665.45 1579.5,664.37 1579.75,668.45 1580,664.99 1580.25,670.97 1580.5,657.99 1580.75,655.07 1581,669.51 1581.25,671.1 1581.5,669.61 1581.75,664.2 1582,658.07 1582.25,674.73 1582.5,659.65 1582.75,666.19 1583,658.92 1583.25,672.29 1583.5,665.7 1583.75,656.69 1584,659.28 1584.25,655.16 1584.5,659.06 1584.75,668.43 1585,664.94 1585.25,665.22 1585.5,661.87 1585.75,660.2 1586,654.33 1586.25,653.78 1586.5,663.38 1586.75,659.96 1587,672.05 1587.25,669.66 1587.5,658.19 1587.75,665.33 1588,669.62 1588.25,654.98 1588.5,668.44 1588.75,657.18 1589,658.14 1589.25,669.94 1589.5,659.59 1589.75,676.96 1590,657.57 1590.25,663.15 1590.5,674.51 1590.75,655.29 1591,669.71 1591.25,661.87 1591.5,671.03 1591.75,665.57 1592,683.76 1592.25,656.59 1592.5,673.27 1592.75,670.99 1593,667.45 1593.25,666.77 1593.5,672.21 1593.75,667.45 1594,672.36 1594.25,663.1 1594.5,665.02 1594.75,661.37 1595,674.14 1595.25,672.81 1595.5,665.85 1595.75,671.16 1596,673.61 1596.25,664.18 1596.5,660.67 1596.75,670.03 1597,669.81 1597.25,667.73 1597.5,660.29 1597.75,669.79 1598,663.72 1598.25,661.72 1598.5,672.42 1598.75,680.61 1599,665.39 1599.25,684.01 1599.5,673.5 1599.75,681.73 1600,676.11 1600.25,671.65 1600.5,667.99 1600.75,663.06 1601,686.19 1601.25,673.07 1601.5,688.84 1601.75,682.67 1602,677.98 1602.25,677.44 1602.5,680.43 1602.75,675.22 1603,691.15 1603.25,670.94 1603.5,666.04 1603.75,683.39 1604,665.94 1604.25,683.51 1604.5,680.65 1604.75,691.65 1605,686.67 1605.25,691.14 1605.5,685.61 1605.75,684.85 1606,688.21 1606.25,679.39 1606.5,685.98 1606.75,684.86 1607,680.11 1607.25,679.31 1607.5,682.89 1607.75,679.23 1608,683.26 1608.25,696.6 1608.5,689.14 1608.75,697.14 1609,683.15 1609.25,681.95 1609.5,679.97 1609.75,677.93 1610,700 1610.25,687.04 1610.5,676.58 1610.75,691.47 1611,684.22 1611.25,671.34 1611.5,684.94 1611.75,694.92 1612,686.67 1612.25,684.07 1612.5,690.73 1612.75,686.42 1613,679.69 1613.25,689.08 1613.5,686.63 1613.75,689.85 1613.75,525 1613.95,689.85 1614,689.82 1614.25,680.01 1614.5,691.26 1614.75,687.13 1615,691.77 1615.25,689.31 1615.5,694.72 1615.75,688.37 1616,687.85 1616.25,687.48 1616.5,687.81 1616.5,546 1616.7,687.81 1616.75,682.58 1617,691.15 1617.25,686.46 1617.5,693.17 1617.75,693.85 1618,686.2 1618.25,692.17 1618.5,689.3 1618.75,690.13 1619,686.75 1619.25,686.27 1619.5,690.04 1619.75,683.27 1620,686.29 1620.25,693.26 1620.5,687.69 1620.75,683.41 1621,698.05 1621.25,693.49 1621.5,681.11 1621.75,692.74 1622,688.52 1622.25,683.21 1622.5,688.06 1622.75,680.77 1623,695.79 1623.25,682.76 1623.5,689.21 1623.75,683.01 1624,688.83 1624.25,677.08 1624.5,684.5 1624.75,683.37 1625,688.72 1625,605 1625.2,688.72 1625.25,695.17 1625.5,683.03 1625.75,685.76 1626,688.97 1626.25,695.83 1626.5,691.66 1626.75,693.93 1627,684.25 1627.25,680.9 1627.5,688.36 1627.75,689.46 1628,686.97 1628.25,683.91 1628.5,683.61 1628.75,690.1 1629,690.51 1629.25,687.47 1629.5,686.37 1629.75,682.74 1630,691.31 1630.25,685.67 1630.5,691.43 1630.75,682.84 1631,686.1 1631.25,690.49 1631.5,694.02 1631.75,696.93 1632,681.28 1632.25,701.51 1632.5,689.19 1632.75,689.99 1633,687.81 1633.25,684 1633.5,687.48 1633.75,685.07 1634,683.67 1634.25,689.44 1634.5,675.54 1634.75,688.26 1635,693.99 1635.25,683.64 1635.5,695.75 1635.75,682.08 1636,681.48 1636.25,679.36 1636.5,679.85 1636.75,687.99 1637,690.77 1637.25,681.16 1637.5,692.84 1637.75,689.52 1638,682.47 1638.25,687.16 1638.5,685.17 1638.75,682.56 1639,685.19 1639.25,690.83 1639.5,683.15 1639.75,673.36 1640,680.82 1640.25,686.12 1640.5,692.29 1640.75,688.61 1641,687.53 1641.25,684.61 1641.5,683.75 1641.75,686.02 1642,682.74 1642.25,693.58 1642.5,685.52 1642.75,680.4 1643,677.82 1643.25,690.18 1643.5,690.68 1643.75,686.02 1644,690.51 1644.25,691.36 1644.5,679.82 1644.75,684.55 1645,690.23 1645.25,686.45 1645.5,690.47 1645.75,688.61 1646,680.45 1646.25,688.79 1646.5,681.4 1646.75,683.66 1647,685.58 1647.25,687.32 1647.5,688.96 1647.75,690.39 1648,684.02 1648.25,677.28 1648.5,682.8 1648.75,683.3 1649,682.75 1649.25,682.72 1649.5,683.67 1649.75,694.19 1650,701.45 1650.25,682.8 1650.5,676.07 1650.75,682.81 1651,683.03 1651.25,682.17 1651.5,682.79 1651.75,693.47 1652,683.58 1652.25,684.49 1652.5,687.89 1652.75,691.59 1653,689.89 1653.25,683.48 1653.5,682.32 1653.75,681.65 1654,682.73 1654.25,677.36 1654.5,684.41 1654.75,693.77 1655,687 1655.25,687.62 1655.5,681.53 1655.75,684.55 1656,679.62 1656.25,679.64 1656.5,679.71 1656.75,682.36 1657,675.61 1657.25,682.26 1657.5,668.83 1657.75,684.05 1658,674.44 1658.25,660.95 1658.5,685 1658.75,686.9 1659,685.4 1659.25,669.82 1659.5,664.68 1659.75,648.28 1660,671.81 1660.25,680.21 1660.5,683.99 1660.75,665.39 1661,676.82 1661.25,683 1661.5,669.66 1661.75,681.7 1662,669.22 1662.25,682.51 1662.5,670.54 1662.75,669.34 1663,666.58 1663.25,664.31 1663.5,676.84 1663.75,687.67 1664,670.73 1664.25,660.24 1664.5,667.85 1664.75,656.06 1665,652.68 1665.25,656.74 1665.5,656.12 1665.75,673.1 1666,659.05 1666.25,653.55 1666.5,671.3 1666.75,635.18 1667,658.52 1667.25,666.3 1667.5,665.92 1667.75,640.82 1668,627.24 1668.25,655.87 1668.5,639.24 1668.75,657.07 1669,658.3 1669.25,626.13 1669.5,635.07 1669.75,626.06 1670,629.01 1670.25,627.03 1670.5,643.49 1670.75,610.55 1671,613.66 1671.25,627.73 1671.5,612.64 1671.75,641.42 1672,640.42 1672.25,644.97 1672.5,626.3 1672.75,622.61 1673,642.27 1673.25,623.16 1673.5,605.44 1673.75,611.35 1674,613.64 1674.25,624.38 1674.5,600.94 1674.75,603.54 1675,617.09 1675.25,622.15 1675.5,633.55 1675.75,627.4 1676,594.27 1676.25,574.41 1676.5,599.96 1676.75,588.22 1676.75,737 1676.95,588.22 1677,602.68 1677.25,603.29 1677.5,578.89 1677.75,615.63 1678,598.53 1678.25,635.96 1678.5,592 1678.75,598.51 1679,595.08 1679.25,588.54 1679.25,524.5 1679.45,588.54 1679.5,550.23 1679.5,524.5 1679.7,550.23 1679.75,582.14 1680,601.37 1680.25,550.46 1680.5,584.34 1680.75,587.9 1681,592.66 1681.25,590.44 1681.5,596.94 1681.75,591.34 1682,565.6 1682.25,567.26 1682.5,593.44 1682.75,570.05 1683,615.55 1683.25,597.94 1683.5,620.26 1683.75,627.18 1684,625.07 1684.25,599.61 1684.5,580.72 1684.75,679.33 1685,612.07 1685.25,650.48 1685.5,636.41 1685.75,661.51 1686,619.53 1686.25,634.57 1686.5,649.87 1686.75,647.56 1687,640.66 1687.25,603.23 1687.5,682.76 1687.75,645.3 1688,643.2 1688.25,643.1 1688.5,603.98 1688.75,688.33 1689,639.69 1689.25,668.93 1689.5,632.2 1689.75,665.17 1690,723.64 1690.25,653.35 1690.5,610.78 1690.75,645.53 1691,664.54 1691.25,681.24 1691.5,660.31 1691.75,599.2 1692,669.97 1692.25,659.34 1692.5,667.8 1692.75,631.08 1693,674.08 1693.25,607.6 1693.5,629.42 1693.75,629.34 1694,637 1694.25,615.4 1694.5,621.04 1694.75,634.36 1695,583.66 1695.25,570.09 1695.5,628.59 1695.75,651.08 1696,658.06 1696.25,619.79 1696.5,578.65 1696.75,624.72 1697,582.06 1697.25,604.96 1697.5,608.14 1697.75,629.37 1698,675.66 1698.25,613.65 1698.5,640.9 1698.75,595.88 1699,636.98 1699.25,613.15 1699.5,602.64 1699.75,647.18 1700,628.89 1700.25,661.49 1700.5,633.48 1700.75,675.63 1701,608.3 1701.25,613.62 1701.5,603.36 1701.75,598.8 1702,605.94 1702.25,589.56 1702.5,644.52 1702.75,625.42 1703,655.26 1703.25,647.34 1703.5,646.96 1703.75,618.29 1704,615.99 1704.25,658.23 1704.5,635.31 1704.75,634.62 1705,621.62 1705,792 1705.2,621.62 1705.25,606.35 1705.5,662.5 1705.5,510 1705.7,662.5 1705.75,651.54 1706,586.32 1706.25,609.8 1706.5,612.91 1706.75,586.75 1707,656.55 1707.25,631.97 1707.5,632.87 1707.75,574.44 1708,644.03 1708.25,614.02 1708.5,648.14 1708.75,584.45 1709,605.96 1709.25,577.1 1709.5,608.02 1709.75,606.84 1710,632.16 1710.25,652.73 1710.5,625.81 1710.75,616.86 1711,605.59 1711.25,597.9 1711.5,616.36 1711.75,591.44 1712,597.05 1712.25,627.44 1712.5,639.63 1712.75,622.3 1713,616.13 1713.25,625.46 1713.5,634.34 1713.75,599.62 1714,606.2 1714.25,624.29 1714.5,594.2 1714.75,607.33 1715,618.6 1715.25,624.52 1715.5,629.4 1715.75,635.77 1716,602.79 1716.25,618.91 1716.5,638.71 1716.75,590.23 1717,622.73 1717.25,608.57 1717.5,620.84 1717.75,610.92 1718,587.55 1718.25,586.36 1718.5,597.27 1718.75,613.11 1719,607.7 1719.25,587.78 1719.5,594.45 1719.75,598.39 1720,627.35 1720.25,599.94 1720.5,591.35 1720.75,601.68 1721,622.66 1721.25,597.22 1721.5,595.87 1721.75,587.04 1722,633.1 1722.25,626.2 1722.5,626.43 1722.75,644.42 1723,593.07 1723.25,634.35 1723.5,640.3 1723.75,598.57 1724,632.59 1724.25,609.1 1724.5,601.84 1724.75,606.66 1725,603.04 1725.25,604.77 1725.5,600.53 1725.75,633.98 1726,615.31" fill="none" stroke="#f00" stroke-width="2.2" stroke-linejoin="round"/></g><path d="M1800 478H1205V822H1800" fill="none" stroke="#000" stroke-width="2"/><line x1="1800" y1="477" x2="1800" y2="822" stroke="#f00" stroke-width="2"/><path d="M1206 512.5h5M1206 581.5h5M1206 650.5h5M1206 718.5h5M1206 787.5h5M1245.5 821v-4M1319.5 821v-4M1394.5 821v-4M1468.5 821v-4M1542.5 821v-4M1617.5 821v-4M1691.5 821v-4M1765.5 821v-4" stroke="#000" stroke-width="1" fill="none"/><path d="M1799 796.5h-3.5M1799 780.5h-3.5M1799 770.5h-3.5M1799 761.5h-3.5M1799 755.5h-3.5M1799 749.5h-3.5M1799 744.5h-3.5M1799 739.5h-3.5M1799 736.5h-5.5M1799 710.5h-3.5M1799 694.5h-3.5M1799 684.5h-3.5M1799 675.5h-3.5M1799 669.5h-3.5M1799 663.5h-3.5M1799 658.5h-3.5M1799 653.5h-3.5M1799 650.5h-5.5M1799 624.5h-3.5M1799 608.5h-3.5M1799 598.5h-3.5M1799 589.5h-3.5M1799 583.5h-3.5M1799 577.5h-3.5M1799 572.5h-3.5M1799 567.5h-3.5M1799 564.5h-5.5M1799 538.5h-3.5M1799 522.5h-3.5M1799 512.5h-3.5M1799 503.5h-3.5M1799 497.5h-3.5M1799 491.5h-3.5M1799 486.5h-3.5M1799 481.5h-3.5" stroke="#f00" stroke-width="1" fill="none"/><text x="1187.76" y="520.2" font-size="20.6" fill="#000" textLength="11.38" lengthAdjust="spacingAndGlyphs">0</text><text x="1147.19" y="589" font-size="20.6" fill="#000" textLength="52.08" lengthAdjust="spacingAndGlyphs">−100</text><text x="1147.19" y="657.8" font-size="20.6" fill="#000" textLength="52.08" lengthAdjust="spacingAndGlyphs">−200</text><text x="1147.19" y="726.6" font-size="20.6" fill="#000" textLength="52.08" lengthAdjust="spacingAndGlyphs">−300</text><text x="1147.19" y="795.4" font-size="20.6" fill="#000" textLength="52.08" lengthAdjust="spacingAndGlyphs">−400</text><text x="1805.81" y="829.6" font-size="20.6" fill="#f00" textLength="25.03" lengthAdjust="spacingAndGlyphs">10</text><text x="1831.32" y="822.8" font-size="14.4" fill="#f00" textLength="20.06" lengthAdjust="spacingAndGlyphs">−2</text><text x="1805.81" y="743.6" font-size="20.6" fill="#f00" textLength="25.03" lengthAdjust="spacingAndGlyphs">10</text><text x="1831.32" y="736.8" font-size="14.4" fill="#f00" textLength="19.97" lengthAdjust="spacingAndGlyphs">−1</text><text x="1805.81" y="657.6" font-size="20.6" fill="#f00" textLength="25.03" lengthAdjust="spacingAndGlyphs">10</text><text x="1832.02" y="650.8" font-size="14.4" fill="#f00" textLength="8.11" lengthAdjust="spacingAndGlyphs">0</text><text x="1805.81" y="571.6" font-size="20.6" fill="#f00" textLength="25.03" lengthAdjust="spacingAndGlyphs">10</text><text x="1831.39" y="564.8" font-size="14.4" fill="#f00" textLength="8.95" lengthAdjust="spacingAndGlyphs">1</text><text x="1805.81" y="485.6" font-size="20.6" fill="#f00" textLength="25.03" lengthAdjust="spacingAndGlyphs">10</text><text x="1831.83" y="478.8" font-size="14.4" fill="#f00" textLength="8.56" lengthAdjust="spacingAndGlyphs">2</text><g transform="translate(1104.7,0) rotate(-90)"><text x="-672.78" y="0" font-size="25.8" fill="#000" textLength="39.04" lengthAdjust="spacingAndGlyphs">Dst</text></g><g transform="translate(1133.1,0) rotate(-90)"><text x="-681.37" y="0" font-size="25.8" fill="#000" textLength="62.06" lengthAdjust="spacingAndGlyphs">( nT )</text></g><g transform="translate(1874.7,0) rotate(-90)"><text x="-725.25" y="0" font-size="25.8" fill="#f00" textLength="150.61" lengthAdjust="spacingAndGlyphs">SW Pressure</text></g><g transform="translate(1905.3,0) rotate(-90)"><text x="-687.84" y="0" font-size="25.8" fill="#f00">( nPa )</text></g><line x1="1206" y1="931" x2="1799" y2="931" stroke="#000" stroke-width="2" stroke-dasharray="2 3.4"/><line x1="1725.62" y1="846" x2="1725.62" y2="1016" stroke="#1f77b4" stroke-width="2" stroke-dasharray="2 3.5"/><g clip-path="url(#cp6)"><path d="M1205.5,1000.14 1205.8,1007.34 1206.1,1002.47 1206.4,1002.78 1206.7,1006.33 1207,997.02 1207.3,1003.84 1207.6,984.96 1207.9,1006.35 1208.2,1004.89 1208.5,996.67 1208.8,991 1209.1,1003.37 1209.4,1006.99 1209.7,996.97 1210,1003.96 1210.3,995.29 1210.6,1004.83 1210.9,1002.29 1211.2,999.35 1211.5,995.53 1211.8,1005.14 1212.1,996.72 1212.4,1005.12 1212.7,1006.45 1213,1000.9 1213.3,1000.54 1213.6,998.73 1213.9,998.74 1214.2,1007.48 1214.5,1005.14 1214.8,992.51 1215.1,991.89 1215.4,1002.65 1215.7,998.08 1216,1008.47 1216.3,1002.46 1216.6,1007.07 1216.9,1002.96 1217.2,1001.93 1217.5,1004.82 1217.8,1001.88 1218.1,1004.2 1218.4,999.15 1218.7,1003.26 1219,998.77 1219.3,1005.77 1219.6,1001.75 1219.9,997.46 1220.2,1001.68 1220.5,995.73 1220.8,986.14 1221.1,997.64 1221.4,999.95 1221.7,997.99 1222,997 1222.3,995.36 1222.6,995.32 1222.9,1000.21 1223.2,1002.92 1223.5,1002.67 1223.8,997.44 1224.1,1005.84 1224.4,1004.63 1224.7,995.9 1225,1004.04 1225.3,1005.73 1225.6,999.74 1225.9,997.15 1226.2,999.26 1226.5,1006.3 1226.8,1008.14 1227.1,1007.1 1227.4,998.72 1227.7,999.67 1228,1001.38 1228.3,1001.53 1228.6,1002.19 1228.9,1007.2 1229.2,1005.17 1229.5,1003.98 1229.8,1006.52 1230.1,1006.41 1230.4,1000.47 1230.7,995.16 1231,1007.54 1231.3,1001.08 1231.6,997.74 1231.9,997.34 1232.2,1002.64 1232.5,1003.4 1232.8,1003.56 1233.1,1007.06 1233.4,1004.3 1233.7,1012.29 1234,1002.66 1234.3,987.7 1234.6,1003.34 1234.9,1007.2 1235.2,1000.2 1235.5,1007.9 1235.8,1002.02 1236.1,998.9 1236.4,998.64 1236.7,996.19 1237,1006.19 1237.3,998.63 1237.6,1007.9 1237.9,1010.48 1238.2,996.11 1238.5,1005.55 1238.8,1008.32 1239.1,996.97 1239.4,1005.08 1239.7,1002.32 1240,996.13 1240.3,999.72 1240.6,1000.22 1240.9,996.29 1241.2,1001.41 1241.5,1006.03 1241.8,999.67 1242.1,998.52 1242.4,1007.7 1242.7,1002.12 1243,1003 1243.3,1001.8 1243.6,1000.79 1243.9,989.64 1244.2,998.33 1244.5,1008.01 1244.8,1007.05 1245.1,1000.85 1245.4,1007.1 1245.7,990.9 1246,1006.28 1246.3,1001.35 1246.6,1000.68 1246.9,1001 1247.2,998.22 1247.5,996.22 1247.8,1004.04 1248.1,990.5 1248.4,1001.24 1248.7,1000.01 1249,989.73 1249.3,1000.42 1249.6,986.67 1249.9,1004.77 1250.2,1001.64 1250.5,996.41 1250.8,1004.04 1251.1,997.49 1251.4,1008.31 1251.7,1005.45 1252,990.08 1252.3,996.05 1252.6,998.51 1252.9,1006.04 1253.2,1001.01 1253.5,989.28 1253.8,1003.05 1254.1,999.54 1254.4,1007.37 1254.7,1005.21 1255,1001.1 1255.3,1005.24 1255.6,1003.69 1255.9,993.79 1256.2,998.63 1256.5,1005.19 1256.8,1002.05 1257.1,1003.46 1257.4,999.49 1257.7,999.09 1258,1007.85 1258.3,1001.97 1258.6,1005.21 1258.9,1006.48 1259.2,1009.9 1259.5,1008.36 1259.8,1004.92 1260.1,1006.96 1260.4,1008.43 1260.7,1005.91 1261,1006.29 1261.3,1005.21 1261.6,997.9 1261.9,1007.27 1262.2,1003.16 1262.5,1006.09 1262.8,1004.88 1263.1,1004.57 1263.4,995.03 1263.7,1002.49 1264,996.41 1264.3,996.78 1264.6,1007.26 1264.9,997.83 1265.2,996.45 1265.5,998.79 1265.8,1007.11 1266.1,996.95 1266.4,1004.47 1266.7,1002.91 1267,999.95 1267.3,1006.24 1267.6,993.62 1267.9,995.52 1268.2,1001.25 1268.5,998.73 1268.8,1006.23 1269.1,1000.3 1269.4,1000.71 1269.7,992.22 1270,999.73 1270.3,998.04 1270.6,1007.01 1270.9,1002.84 1271.2,1005.81 1271.5,1005.96 1271.8,1004.47 1272.1,1007.82 1272.4,1000.54 1272.7,1003.97 1273,995.29 1273.3,1006.72 1273.6,999.19 1273.9,1000.54 1274.2,995.19 1274.5,997.72 1274.8,1003.53 1275.1,997.39 1275.4,1005.9 1275.7,1000.11 1276,1005.56 1276.3,995.4 1276.6,1004.95 1276.9,997.1 1277.2,996.68 1277.5,1007.53 1277.8,998.72 1278.1,1003.11 1278.4,1001.95 1278.7,996.03 1279,1003.25 1279.3,997.8 1279.6,1002.9 1279.9,998.86 1280.2,1002.58 1280.5,999.51 1280.8,1007.8 1281.1,1002.09 1281.4,1001.49 1281.7,998.38 1282,997.83 1282.3,999.78 1282.6,998.65 1282.9,984.86 1283.2,996.18 1283.5,1002.36 1283.8,995.28 1284.1,1002.18 1284.4,1005.72 1284.7,997.77 1285,1007.91 1285.3,1001.29 1285.6,998.98 1285.9,995.77 1286.2,1006.9 1286.5,996.1 1286.8,997.75 1287.1,1000.99 1287.4,993.43 1287.7,993.06 1288,1007.77 1288.3,995.56 1288.6,1007.72 1288.9,1001.79 1289.2,1007.95 1289.5,999.56 1289.8,998.1 1290.1,1002.29 1290.4,1007.61 1290.7,995.57 1291,1003.85 1291.3,1002.13 1291.6,1004.45 1291.9,1000.61 1292.2,997.99 1292.5,1000.79 1292.8,1004.34 1293.1,997.19 1293.4,1001.31 1293.7,1003.51 1294,1002.47 1294.3,1007.33 1294.6,1003.29 1294.9,1001.94 1295.2,1000.92 1295.5,995.49 1295.8,1003.98 1296.1,999.51 1296.4,984.14 1296.7,1000.3 1297,997.77 1297.3,1008.21 1297.6,1000.74 1297.9,985.97 1298.2,996.41 1298.5,1005.96 1298.8,999.04 1299.1,1008.34 1299.4,1003.1 1299.7,1006.11 1300,999.11 1300.3,1006.08 1300.6,992 1300.9,984.09 1301.2,1000.85 1301.5,1001.01 1301.8,1003.03 1302.1,998.52 1302.4,997.1 1302.7,1003.19 1303,1005.14 1303.3,996.96 1303.6,1001.38 1303.9,1005.99 1304.2,998.37 1304.5,1000.92 1304.8,985.92 1305.1,1000.25 1305.4,1006.78 1305.7,1002.21 1306,1007.24 1306.3,1004.8 1306.6,1009.51 1306.9,1008.03 1307.2,996.82 1307.5,1006.86 1307.8,995.85 1308.1,998.99 1308.4,1003.82 1308.7,995.6 1309,1003.31 1309.3,999.68 1309.6,988.67 1309.9,997.79 1310.2,998.14 1310.5,1002.06 1310.8,1004.99 1311.1,1003.1 1311.4,1006.12 1311.7,1007.43 1312,1005.43 1312.3,1010.04 1312.6,998.07 1312.9,1001.94 1313.2,1003.31 1313.5,995.56 1313.8,1000.23 1314.1,1003.83 1314.4,1001.09 1314.7,1002.09 1315,1003.1 1315.3,996.46 1315.6,995.41 1315.9,1001.38 1316.2,1003.83 1316.5,999.24 1316.8,997.95 1317.1,1007.75 1317.4,1004.61 1317.7,997.76 1318,986.48 1318.3,1005.72 1318.6,1005.98 1318.9,1002.57 1319.2,1006.19 1319.5,996.65 1319.8,1002.9 1320.1,999.99 1320.4,996.71 1320.7,998.91 1321,984.65 1321.3,1004.93 1321.6,999.33 1321.9,1001.14 1322.2,995.94 1322.5,1001.55 1322.8,1006.4 1323.1,997.6 1323.4,1006.11 1323.7,998.76 1324,1003.51 1324.3,998.82 1324.6,1007.65 1324.9,998 1325.2,1002.72 1325.5,992.98 1325.8,999.28 1326.1,1003.72 1326.4,1003.28 1326.7,1001.98 1327,999.64 1327.3,1002.62 1327.6,1006.61 1327.9,997.14 1328.2,995.33 1328.5,1004.79 1328.8,1003.8 1329.1,1002.05 1329.4,1002.65 1329.7,1002.27 1330,998.65 1330.3,999.08 1330.6,995.64 1330.9,1004.31 1331.2,1000.54 1331.5,1007.98 1331.8,995.41 1332.1,996.11 1332.4,1004.45 1332.7,1004.01 1333,1007.64 1333.3,998.95 1333.6,995.3 1333.9,998.81 1334.2,1009.06 1334.5,998.25 1334.8,996.72 1335.1,997.21 1335.4,991.71 1335.7,1006.03 1336,1001.34 1336.3,1007.99 1336.6,997.99 1336.9,1000.82 1337.2,1004.42 1337.5,995.18 1337.8,1005.68 1338.1,1005.12 1338.4,999.71 1338.7,1000.67 1339,1001.76 1339.3,998.75 1339.6,1008.19 1339.9,1000.5 1340.2,1002.86 1340.5,1002.49 1340.8,986.63 1341.1,1008.12 1341.4,1004.28 1341.7,1006.19 1342,998.93 1342.3,996.49 1342.6,998.62 1342.9,996.91 1343.2,1000.59 1343.5,1001.49 1343.8,999.97 1344.1,995.23 1344.4,1004.01 1344.7,1006.53 1345,999 1345.3,1001.13 1345.6,1000.41 1345.9,1002.83 1346.2,999.59 1346.5,1002.27 1346.8,998.85 1347.1,1006.19 1347.4,1010.02 1347.7,993.93 1348,1003.02 1348.3,991.18 1348.6,1002.9 1348.9,995.5 1349.2,998.15 1349.5,995.57 1349.8,1005.52 1350.1,995.12 1350.4,1001.31 1350.7,989.06 1351,998.84 1351.3,998.95 1351.6,996.48 1351.9,1002.16 1352.2,1005.73 1352.5,1006.67 1352.8,1003.25 1353.1,999.87 1353.4,996.64 1353.7,1004.12 1354,1001.66 1354.3,998.54 1354.6,1009.25 1354.9,1001.87 1355.2,1001.38 1355.5,1007.19 1355.8,1008.19 1356.1,1002.31 1356.4,1008.07 1356.7,1005.17 1357,1000.1 1357.3,999.29 1357.6,1006.13 1357.9,1005.59 1358.2,998.48 1358.5,1008.28 1358.8,1005.65 1359.1,997.88 1359.4,997.6 1359.7,1006.58 1360,1000.49 1360.3,997.54 1360.6,1001.99 1360.9,1008.1 1361.2,1007.5 1361.5,992.77 1361.8,1004.49 1362.1,1006.73 1362.4,1007.84 1362.7,1004.82 1363,996.77 1363.3,1000.28 1363.6,1005.4 1363.9,1004.73 1364.2,995.4 1364.5,996.76 1364.8,995.64 1365.1,999.36 1365.4,1007.65 1365.7,995.95 1366,999.21 1366.3,1001.03 1366.6,1005.66 1366.9,1004.77 1367.2,999.3 1367.5,998.08 1367.8,1001.15 1368.1,1005.55 1368.4,1006.65 1368.7,1003.28 1369,997.13 1369.3,1002.15 1369.6,999.2 1369.9,1005.67 1370.2,1007.09 1370.5,1001.14 1370.8,1002.65 1371.1,994.49 1371.4,1004.4 1371.7,1009.26 1372,1002.95 1372.3,1005.74 1372.6,1006.07 1372.9,1007.81 1373.2,999.6 1373.5,1001.38 1373.8,996.6 1374.1,995.39 1374.4,996.03 1374.7,1003.39 1375,1004.57 1375.3,1004.69 1375.6,985.7 1375.9,1005.68 1376.2,1004.95 1376.5,1000.64 1376.8,999.9 1377.1,1001.19 1377.4,984.88 1377.7,1004.77 1378,1003.17 1378.3,1006.97 1378.6,995.54 1378.9,1004.23 1379.2,1007.79 1379.5,1009.66 1379.8,1005.88 1380.1,998.37 1380.4,999.39 1380.7,1003.39 1381,1003.03 1381.3,998.3 1381.6,998.64 1381.9,1012.05 1382.2,997.56 1382.5,1006.81 1382.8,1006.88 1383.1,1006.87 1383.4,1003.52 1383.7,1004.46 1384,998.73 1384.3,1000.96 1384.6,1007.56 1384.9,992 1385.2,998.81 1385.5,1007.86 1385.8,1002.62 1386.1,996.67 1386.4,1007.12 1386.7,1007.37 1387,984.14 1387.3,1008.67 1387.6,1004.94 1387.9,996.56 1388.2,995.42 1388.5,999.05 1388.8,1005.27 1389.1,1006.32 1389.4,1002.68 1389.7,1000.76 1390,1007.38 1390.3,998.26 1390.6,1000.58 1390.9,1006.51 1391.2,1006.45 1391.5,1000.3 1391.8,1006.34 1392.1,1006.34 1392.4,992.68 1392.7,995.2 1393,999.01 1393.3,1001.19 1393.6,1007.7 1393.9,1008.14 1394.2,996.15 1394.5,985.53 1394.8,995.53 1395.1,995.5 1395.4,999.69 1395.7,995.08 1396,995.18 1396.3,1006.05 1396.6,996.54 1396.9,1002.72 1397.2,1003.95 1397.5,1000.74 1397.8,997.78 1398.1,1003.06 1398.4,995.01 1398.7,996.36 1399,1002.8 1399.3,1002.05 1399.6,1004.5 1399.9,997.34 1400.2,997.06 1400.5,999.86 1400.8,988.87 1401.1,1003.25 1401.4,1006.49 1401.7,983.82 1402,1002.66 1402.3,998.92 1402.6,1007.8 1402.9,999.98 1403.2,1007.46 1403.5,1003 1403.8,997.19 1404.1,1003.99 1404.4,999.91 1404.7,1004.82 1405,983.97 1405.3,1004.16 1405.6,990.25 1405.9,1007.07 1406.2,1008.01 1406.5,1004.85 1406.8,1005.76 1407.1,1006.02 1407.4,1003.26 1407.7,1003.62 1408,997.09 1408.3,1000.44 1408.6,1007.44 1408.9,995.85 1409.2,1007.86 1409.5,1001.7 1409.8,997.96 1410.1,998.67 1410.4,1004.41 1410.7,1004.87 1411,996.68 1411.3,984.09 1411.6,989.55 1411.9,1001.86 1412.2,1006.21 1412.5,1001.26 1412.8,996.38 1413.1,1007.79 1413.4,1005.34 1413.7,1007.13 1414,999.4 1414.3,1003.97 1414.6,1006.06 1414.9,984.98 1415.2,998.43 1415.5,996.01 1415.8,1001.6 1416.1,1002.33 1416.4,1000.05 1416.7,1004.29 1417,995.01 1417.3,1005.15 1417.6,1002.25 1417.9,1000.38 1418.2,985.09 1418.5,1003.61 1418.8,999.6 1419.1,1004.73 1419.4,1001.41 1419.7,1001.48 1420,997.23 1420.3,1004.21 1420.6,1000.25 1420.9,996.56 1421.2,1003.81 1421.5,1008.42 1421.8,1000.56 1422.1,991.24 1422.4,1005.15 1422.7,1000.99 1423,984.74 1423.3,1001 1423.6,993.99 1423.9,995.75 1424.2,1001.37 1424.5,1002.3 1424.8,995.66 1425.1,1002.7 1425.4,1005.57 1425.7,999.76 1426,1006.61 1426.3,997.24 1426.6,1001.42 1426.9,997.15 1427.2,997.43 1427.5,993.31 1427.8,995.28 1428.1,1002.85 1428.4,995.11 1428.7,997.02 1429,1004.64 1429.3,997.5 1429.6,1001.81 1429.9,995.47 1430.2,1005.5 1430.5,986.18 1430.8,995.15 1431.1,1002.11 1431.4,995.71 1431.7,995.26 1432,993.9 1432.3,1003.17 1432.6,1012.04 1432.9,991.02 1433.2,997.93 1433.5,1002.48 1433.8,999.1 1434.1,1008.5 1434.4,995.17 1434.7,1003.24 1435,997.72 1435.3,999.53 1435.6,998.69 1435.9,998.88 1436.2,999.01 1436.5,996.09 1436.8,1001.32 1437.1,1003.24 1437.4,995.09 1437.7,997.91 1438,995.87 1438.3,1002.63 1438.6,997.47 1438.9,1000.83 1439.2,1007.31 1439.5,1000.84 1439.8,1000.01 1440.1,1007.72 1440.4,1002.77 1440.7,1002.31 1441,1004.7 1441.3,995.95 1441.6,998.93 1441.9,1000.26 1442.2,997.7 1442.5,996.6 1442.8,1000.14 1443.1,1002.97 1443.4,1001.07 1443.7,1000.87 1444,1000.61 1444.3,1000.95 1444.6,1002.74 1444.9,1004.89 1445.2,1004.71 1445.5,1001.61 1445.8,1004.14 1446.1,998.08 1446.4,1001.59 1446.7,997.03 1447,998.32 1447.3,997.66 1447.6,1002.64 1447.9,1006.72 1448.2,999.09 1448.5,998.38 1448.8,999.25 1449.1,1002.77 1449.4,1004.29 1449.7,997.66 1450,1004.14 1450.3,1005.39 1450.6,1004.89 1450.9,983.53 1451.2,988.95 1451.5,1003.5 1451.8,1001.33 1452.1,1002.14 1452.4,1005.53 1452.7,1003.38 1453,1003.47 1453.3,1001.31 1453.6,996.08 1453.9,1007.06 1454.2,992.23 1454.5,1005.17 1454.8,987.18 1455.1,998.27 1455.4,1004.09 1455.7,998.37 1456,1002.05 1456.3,995.1 1456.6,1007.91 1456.9,999.43 1457.2,1001.47 1457.5,998.39 1457.8,998.71 1458.1,1004.86 1458.4,1006.11 1458.7,995.61 1459,998.33 1459.3,1007.45 1459.6,1002.51 1459.9,999.66 1460.2,995.98 1460.5,996.93 1460.8,1008.07 1461.1,997.24 1461.4,998.45 1461.7,1007.45 1462,997.68 1462.3,984.3 1462.6,998.42 1462.9,1001.98 1463.2,1007.92 1463.5,1008.31 1463.8,997.45 1464.1,999.87 1464.4,999.75 1464.7,1003.73 1465,1003.62 1465.3,1001.32 1465.6,1003.63 1465.9,1003.64 1466.2,987.9 1466.5,1003.74 1466.8,983.95 1467.1,1007.07 1467.4,995.61 1467.7,999.83 1468,996.53 1468.3,984.3 1468.6,997.99 1468.9,1007.49 1469.2,1007.09 1469.5,1002.18 1469.8,1007.09 1470.1,988.5 1470.4,1009.65 1470.7,998.19 1471,1000.24 1471.3,1003.8 1471.6,999.31 1471.9,996.46 1472.2,1003.95 1472.5,1002.32 1472.8,995.88 1473.1,1003.96 1473.4,999.17 1473.7,995.49 1474,1004.57 1474.3,997.2 1474.6,996.34 1474.9,1000.5 1475.2,1003.16 1475.5,1001.11 1475.8,1008.36 1476.1,998.28 1476.4,1004.34 1476.7,991.14 1477,996.84 1477.3,1007.89 1477.6,1001.83 1477.9,997.99 1478.2,1008.02 1478.5,996.18 1478.8,1004.17 1479.1,1001.98 1479.4,1007.18 1479.7,1006.82 1480,1005.04 1480.3,1007.37 1480.6,1004.9 1480.9,1006 1481.2,996.08 1481.5,999.74 1481.8,997.38 1482.1,999.43 1482.4,998.81 1482.7,1007.94 1483,999.21 1483.3,1000.8 1483.6,996.13 1483.9,1002.99 1484.2,996.94 1484.5,996.75 1484.8,1005.97 1485.1,1006.91 1485.4,1001.92 1485.7,1000.6 1486,999.88 1486.3,1001.88 1486.6,997.55 1486.9,1004.1 1487.2,1000.77 1487.5,999.58 1487.8,995.28 1488.1,1001.93 1488.4,998.15 1488.7,1006.12 1489,995.5 1489.3,1001.64 1489.6,1007.25 1489.9,1008.34 1490.2,993.67 1490.5,999.38 1490.8,1005.76 1491.1,998.51 1491.4,1000.04 1491.7,1003.28 1492,1000.94 1492.3,1004.26 1492.6,1004.81 1492.9,1007.59 1493.2,997.94 1493.5,1005.33 1493.8,995.57 1494.1,1001.79 1494.4,1004.22 1494.7,986.96 1495,1000.34 1495.3,1003.61 1495.6,995.36 1495.9,997.22 1496.2,987.16 1496.5,1004.29 1496.8,997.37 1497.1,998.31 1497.4,1001.5 1497.7,1002.3 1498,996.84 1498.3,1005.41 1498.6,992.69 1498.9,1006.15 1499.2,1001.23 1499.5,1003.1 1499.8,999.82 1500.1,993.71 1500.4,1001.37 1500.7,986.57 1501,1002.93 1501.3,985.89 1501.6,1002.63 1501.9,997.47 1502.2,1006.44 1502.5,1002 1502.8,996.28 1503.1,997.45 1503.4,998.48 1503.7,1008.11 1504,1006.46 1504.3,1000.9 1504.6,997.59 1504.9,1001.99 1505.2,1006.69 1505.5,996.96 1505.8,1001.96 1506.1,995.04 1506.4,997.65 1506.7,1004.34 1507,1005.82 1507.3,1007.14 1507.6,1000.48 1507.9,999.29 1508.2,996.81 1508.5,997.44 1508.8,998.24 1509.1,999.99 1509.4,996.05 1509.7,1006.28 1510,1007.65 1510.3,1007.59 1510.6,1000.07 1510.9,1001.42 1511.2,1006.68 1511.5,1005.38 1511.8,991.27 1512.1,1007.55 1512.4,996.06 1512.7,995.73 1513,997.91 1513.3,1012 1513.6,1008.34 1513.9,995.65 1514.2,1008.28 1514.5,1005.19 1514.8,997.7 1515.1,1001.77 1515.4,1000.6 1515.7,1002.42 1516,1006.99 1516.3,990.39 1516.6,990.57 1516.9,1000.61 1517.2,995.59 1517.5,995.68 1517.8,1008.47 1518.1,996.04 1518.4,1001.15 1518.7,1012.22 1519,1004.19 1519.3,986.52 1519.6,1002.57 1519.9,1001 1520.2,997.16 1520.5,1006.41 1520.8,1005.18 1521.1,1001.73 1521.4,1005.12 1521.7,1007.42 1522,1011.92 1522.3,1003.33 1522.6,997.64 1522.9,997.65 1523.2,990.22 1523.5,1003.48 1523.8,1003.65 1524.1,996.82 1524.4,1000.28 1524.7,1005.49 1525,995.84 1525.3,1010.79 1525.6,999.89 1525.9,1002.32 1526.2,996.3 1526.5,1005.87 1526.8,1004.64 1527.1,996.12 1527.4,1003.35 1527.7,1001.08 1528,1003.16 1528.3,1005.04 1528.6,1005.66 1528.9,998.69 1529.2,1003.18 1529.5,995.53 1529.8,1007.27 1530.1,997.78 1530.4,995.63 1530.7,1005.11 1531,996.51 1531.3,998.72 1531.6,1000.58 1531.9,995.48 1532.2,995.72 1532.5,995.35 1532.8,998.03 1533.1,1006.22 1533.4,995.35 1533.7,1009.47 1534,1002 1534.3,984.56 1534.6,994.43 1534.9,999.08 1535.2,1011.49 1535.5,1001.52 1535.8,997.37 1536.1,1004.89 1536.4,1001.68 1536.7,999.81 1537,1006.81 1537.3,1007.49 1537.6,1000.41 1537.9,1006.36 1538.2,1005.84 1538.5,1007.71 1538.8,1003.45 1539.1,1001.59 1539.4,1005.98 1539.7,999.69 1540,1006.98 1540.3,998.34 1540.6,996.38 1540.9,1000.15 1541.2,1001.56 1541.5,995.72 1541.8,1001.05 1542.1,1008.58 1542.4,1000.49 1542.7,996.56 1543,1005.94 1543.3,1007.39 1543.6,1007.43 1543.9,1002.59 1544.2,995.4 1544.5,999.25 1544.8,1005.09 1545.1,1002.15 1545.4,999.62 1545.7,1002.19 1546,995.85 1546.3,1002.87 1546.6,1001.66 1546.9,993.26 1547.2,984.3 1547.5,1009.01 1547.8,995.22 1548.1,995.72 1548.4,1005.73 1548.7,1000.63 1549,997.66 1549.3,995.41 1549.6,1004.7 1549.9,997.02 1550.2,995.32 1550.5,1005.02 1550.8,1006.94 1551.1,997.72 1551.4,999.05 1551.7,1001.39 1552,1006.99 1552.3,992.69 1552.6,1005.75 1552.9,1000.07 1553.2,997.63 1553.5,1002.33 1553.8,998.91 1554.1,1008.02 1554.4,1000.53 1554.7,997.03 1555,1003.8 1555.3,996.65 1555.6,1000.11 1555.9,990.96 1556.2,996.88 1556.5,996.04 1556.8,996.06 1557.1,996.62 1557.4,1005.92 1557.7,1008.06 1558,999.19 1558.3,1004.07 1558.6,1002.13 1558.9,999.57 1559.2,1007.78 1559.5,996.6 1559.8,1000.5 1560.1,995.39 1560.4,995.38 1560.7,990.13 1561,989.93 1561.3,1007.5 1561.6,989 1561.9,1005.28 1562.2,1004.77 1562.5,995.51 1562.8,998.17 1563.1,995.8 1563.4,1005.63 1563.7,995.07 1564,1004.22 1564.3,998.05 1564.6,1005.47 1564.9,1000.98 1565.2,1005.93 1565.5,995.84 1565.8,996.99 1566.1,1010.3 1566.4,1008 1566.7,1007.67 1567,1000.98 1567.3,1008.44 1567.6,995.11 1567.9,996.53 1568.2,998.51 1568.5,998.29 1568.8,1006.4 1569.1,998.04 1569.4,1001.26 1569.7,995.58 1570,995.27 1570.3,1001.45 1570.6,992.39 1570.9,1001.15 1571.2,988.62 1571.5,998.02 1571.8,995.33 1572.1,999.87 1572.4,1007.27 1572.7,1007.2 1573,1001.63 1573.3,1005.8 1573.6,1005.06 1573.9,1007.41 1574.2,1006.32 1574.5,1002.06 1574.8,1006.24 1575.1,996.04 1575.4,1010.25 1575.7,998.38 1576,1002.42 1576.3,1003.05 1576.6,996.65 1576.9,997.68 1577.2,1006.44 1577.5,999.71 1577.8,1006.14 1578.1,995.83 1578.4,996.18 1578.7,1001.58 1579,1001.83 1579.3,1002.04 1579.6,1004.35 1579.9,1007.82 1580.2,1000.03 1580.5,1008.5 1580.8,1004.56 1581.1,999.01 1581.4,998.59 1581.7,1000.01 1582,984.19 1582.3,985.68 1582.6,995.62 1582.9,1007.07 1583.2,998.81 1583.5,996.5 1583.8,1003.26 1584.1,1005.44 1584.4,999.68 1584.7,995.99 1585,1000.37 1585.3,997.89 1585.6,986 1585.9,1002.93 1586.2,999.88 1586.5,995.87 1586.8,991.68 1587.1,994.32 1587.4,1003.66 1587.7,1007.17 1588,1000.83 1588.3,1004.94 1588.6,1002.4 1588.9,996.13 1589.2,1006.5 1589.5,998.32 1589.8,1000.64 1590.1,996.72 1590.4,1002.88 1590.7,1003.26 1591,997.16 1591.3,1004.28 1591.6,1007.42 1591.9,1002.46 1592.2,1006.01 1592.5,1001.12 1592.8,997.12 1593.1,1003.67 1593.4,997.36 1593.7,1007 1594,1004.95 1594.3,1000.81 1594.6,999.36 1594.9,998.19 1595.2,995.3 1595.5,1006.43 1595.8,1001.61 1596.1,1003.28 1596.4,1003.25 1596.7,986.69 1597,1004.05 1597.3,1005.14 1597.6,999.05 1597.9,1005.04 1598.2,1007.55 1598.5,998.02 1598.8,995.27 1599.1,1003.54 1599.4,1001.63 1599.7,1004.37 1600,1005.66 1600.3,1006.77 1600.6,998.08 1600.9,996.07 1601.2,1002.45 1601.5,1005.97 1601.8,1006.02 1602.1,1005.48 1602.4,1006.64 1602.7,1007.38 1603,995.82 1603.3,997.27 1603.6,998.01 1603.9,1007.4 1604.2,997.74 1604.5,1006.01 1604.8,999.91 1605.1,1005.84 1605.4,1002.49 1605.7,1007.65 1606,990.97 1606.3,1003.24 1606.6,991.62 1606.9,999.79 1607.2,1005.18 1607.5,1003.33 1607.8,1000.82 1608.1,1001.21 1608.4,987.35 1608.7,1003.14 1609,1003.93 1609.3,998.14 1609.6,1001.43 1609.9,1005.94 1610.2,996.24 1610.5,1008.56 1610.8,1001.85 1611.1,996.72 1611.4,1004.61 1611.7,995.47 1612,1006.59 1612.3,1002.01 1612.6,1011.86 1612.9,1005.1 1613.2,1002.59 1613.5,1004.12 1613.8,1000.82 1614.1,1007.37 1614.4,1001.96 1614.7,1008.38 1615,984.05 1615.3,995.34 1615.6,997.53 1615.9,1002.03 1616.2,1000.17 1616.5,1004.67 1616.8,1002.32 1617.1,988.43 1617.4,995.41 1617.7,999.81 1618,989.87 1618.3,998.94 1618.6,1004.37 1618.9,1005.47 1619.2,1008.91 1619.5,1000.46 1619.8,1010.43 1620.1,1002.9 1620.4,999.11 1620.7,999.85 1621,1004.35 1621.3,995.48 1621.6,996.05 1621.9,1003.5 1622.2,997.03 1622.5,1004.78 1622.8,999.19 1623.1,998.89 1623.4,999.08 1623.7,1002.12 1624,996.91 1624.3,1006.93 1624.6,1003.71 1624.9,1002.5 1625.2,1006.97 1625.5,1008.18 1625.8,998.87 1626.1,1001.12 1626.4,990.81 1626.7,1000.08 1627,1002.92 1627.3,1004.79 1627.6,1007.99 1627.9,999.76 1628.2,996.83 1628.5,999.82 1628.8,1004.51 1629.1,995.63 1629.4,1007.62 1629.7,1004.81 1630,1003.5 1630.3,998.17 1630.6,1006.36 1630.9,995.66 1631.2,997.65 1631.5,999.37 1631.8,1007.03 1632.1,1001.08 1632.4,999.81 1632.7,998.13 1633,1006.28 1633.3,990.45 1633.6,995.85 1633.9,1007.68 1634.2,1002.53 1634.5,1007.84 1634.8,1000.18 1635.1,999.25 1635.4,1007.6 1635.7,1004.32 1636,1006.38 1636.3,1002.04 1636.6,1006.44 1636.9,998.02 1637.2,992.08 1637.5,1005.98 1637.8,1006.11 1638.1,1001.58 1638.4,1007.34 1638.7,1002.62 1639,996.15 1639.3,991.71 1639.6,998.28 1639.9,999.68 1640.2,999.73 1640.5,1007.24 1640.8,999.56 1641.1,995.06 1641.4,1004.4 1641.7,987.01 1642,1001.05 1642.3,1006.12 1642.6,1006.38 1642.9,1003.5 1643.2,998.78 1643.5,1001.66 1643.8,985.22 1644.1,1002.99 1644.4,1001.7 1644.7,995.59 1645,997.51 1645.3,1004.69 1645.6,1000.07 1645.9,995.88 1646.2,1004.58 1646.5,1004.62 1646.8,998.29 1647.1,1005.2 1647.4,1003.51 1647.7,1002.44 1648,1004.16 1648.3,1007.74 1648.6,1004.11 1648.9,997.19 1649.2,989.38 1649.5,999.63 1649.8,997.01 1650.1,1005.07 1650.4,1005.25 1650.7,1001.49 1651,1007.97 1651.3,1001.56 1651.6,999.39 1651.9,995.84 1652.2,1004.45 1652.5,1002.09 1652.8,995.51 1653.1,1001.48 1653.4,995.44 1653.7,1003.61 1654,999.99 1654.3,1003.61 1654.6,1006.19 1654.9,1006.27 1655.2,1006.35 1655.5,998.91 1655.8,1005.36 1656.1,996.96 1656.4,1001.26 1656.7,1003.9 1657,999.94 1657.3,987.56 1657.6,996.99 1657.9,997.49 1658.2,996.65 1658.5,1000.96 1658.8,1004.94 1659.1,995.09 1659.4,996.24 1659.7,995.93 1660,1006.83 1660.3,999.95 1660.6,1000.77 1660.9,1005.86 1661.2,990.51 1661.5,996.65 1661.8,1005.66 1662.1,996.16 1662.4,999.8 1662.7,996.97 1663,996.35 1663.3,985.72 1663.6,1008.06 1663.9,998.43 1664.2,999.02 1664.5,1003.25 1664.8,997.32 1665.1,1007.86 1665.4,1006.55 1665.7,1007.04 1666,984.06 1666.3,998.61 1666.6,1003.46 1666.9,1010.89 1667.2,997.28 1667.5,1007.17 1667.8,1004.57 1668.1,1004.7 1668.4,998.2 1668.7,1002.08 1669,1005.3 1669.3,997.76 1669.6,997.78 1669.9,1002.86 1670.2,1008.17 1670.5,998.1 1670.8,995.22 1671.1,1000.07 1671.4,996.19 1671.7,1003.02 1672,1007.57 1672.3,1007.47 1672.6,998.5 1672.9,997.8 1673.2,996.13 1673.5,1001.18 1673.8,1009.41 1674.1,1004.71 1674.4,999.55 1674.7,1005.2 1675,998.36 1675.3,986.7 1675.6,1004.04 1675.9,1000.76 1676.2,997.47 1676.5,1001.12 1676.8,997.73 1677.1,1002.37 1677.4,998.93 1677.7,1003.92 1678,1000.76 1678.3,1000.87 1678.6,998.47 1678.9,1003.17 1679.2,999.3 1679.5,1006.67 1679.8,1003.15 1680.1,1006.95 1680.4,997.24 1680.7,1002.99 1681,998.03 1681.3,1008.22 1681.6,989.6 1681.9,1004.44 1682.2,1005.79 1682.5,1008.39 1682.8,998.89 1683.1,996.93 1683.4,1006.18 1683.7,1007.82 1684,1007.16 1684.3,1001.86 1684.6,1006.89 1684.9,1002.95 1685.2,995.1 1685.5,1004.22 1685.8,1001.18 1686.1,1008.06 1686.4,1001.13 1686.7,999.91 1687,1001.46 1687.3,995.06 1687.6,1000.78 1687.9,997.79 1688.2,1002.63 1688.5,1003.45 1688.8,1001 1689.1,1007.37 1689.4,1005.36 1689.7,999.93 1690,1006.3 1690.3,1007.16 1690.6,992.58 1690.9,995.8 1691.2,995.32 1691.5,999.51 1691.8,1006.22 1692.1,999.65 1692.4,1007.84 1692.7,990.21 1693,1007.22 1693.3,999.62 1693.6,1006.61 1693.9,997.27 1694.2,1005.46 1694.5,1001.28 1694.8,1000.97 1695.1,1001.89 1695.4,1000.02 1695.7,999.42 1696,996.52 1696.3,1000.82 1696.6,999.28 1696.9,989.71 1697.2,1007.17 1697.5,997.31 1697.8,1006.21 1698.1,996.88 1698.4,1002.33 1698.7,1001.86 1699,996.87 1699.3,1000.41 1699.6,997.6 1699.9,1005.89 1700.2,995.54 1700.5,995.37 1700.8,1000.45 1701.1,1011.15 1701.4,1002.54 1701.7,1004.37 1702,1002.2 1702.3,1002.66 1702.6,1001.66 1702.9,1005.93 1703.2,1002.97 1703.5,1001.46 1703.8,1005.74 1704.1,1007.11 1704.4,996.57 1704.7,1004.35 1705,1000.03 1705.3,1001.69 1705.6,995.52 1705.9,1005.48 1706.2,1000.07 1706.5,1004.23 1706.8,999.79 1707.1,1001.41 1707.4,997.9 1707.7,1006.18 1708,998.16 1708.3,997.01 1708.6,999.79 1708.9,992.63 1709.2,993.53 1709.5,993.21 1709.8,1003.78 1710.1,996.21 1710.4,997.92 1710.7,1004.56 1711,1002.08 1711.3,1004.51 1711.6,1006.52 1711.9,1004.56 1712.2,997.04 1712.5,985 1712.8,996.81 1713.1,995.01 1713.4,1007.2 1713.7,1006.06 1714,1003.88 1714.3,997.85 1714.6,995.71 1714.9,1007.36 1715.2,1000.24 1715.5,999.82 1715.8,996.28 1716.1,1001.04 1716.4,1005.04 1716.7,1001.09 1717,1005.23 1717.3,999.26 1717.6,1007.78 1717.9,1005.58 1718.2,997.01 1718.5,1005.5 1718.8,1001.79 1719.1,999.15 1719.4,1006.02 1719.7,1004.42 1720,997.1 1720.3,1002.87 1720.6,1002.11 1720.9,989.53 1721.2,1004.57 1721.5,1006.42 1721.8,1000.88 1722.1,1004.56 1722.4,1000.6 1722.7,1007.27 1723,1003.12 1723.3,1002.76 1723.6,1003.9 1723.9,1008.25 1724.2,1005.8 1724.5,1007.57 1724.8,1001.91 1725.1,1002.59 1725.4,997.22 1725.7,1005.04 1726,1000.18 1726.3,1002.61" fill="none" stroke="#000" stroke-width="2.2" stroke-linejoin="round"/></g><rect x="1205" y="845" width="595" height="172" fill="none" stroke="#000" stroke-width="2"/><path d="M1206 1004.5h3.5M1799 1004.5h-3.5M1206 996.5h3.5M1799 996.5h-3.5M1206 991.5h3.5M1799 991.5h-3.5M1206 986.5h3.5M1799 986.5h-3.5M1206 983.5h3.5M1799 983.5h-3.5M1206 980.5h3.5M1799 980.5h-3.5M1206 978.5h3.5M1799 978.5h-3.5M1206 975.5h3.5M1799 975.5h-3.5M1206 974.5h5.5M1799 974.5h-5.5M1206 961.5h3.5M1799 961.5h-3.5M1206 953.5h3.5M1799 953.5h-3.5M1206 948.5h3.5M1799 948.5h-3.5M1206 943.5h3.5M1799 943.5h-3.5M1206 940.5h3.5M1799 940.5h-3.5M1206 937.5h3.5M1799 937.5h-3.5M1206 935.5h3.5M1799 935.5h-3.5M1206 932.5h3.5M1799 932.5h-3.5M1206 931.5h5.5M1799 931.5h-5.5M1206 918.5h3.5M1799 918.5h-3.5M1206 910.5h3.5M1799 910.5h-3.5M1206 905.5h3.5M1799 905.5h-3.5M1206 900.5h3.5M1799 900.5h-3.5M1206 897.5h3.5M1799 897.5h-3.5M1206 894.5h3.5M1799 894.5h-3.5M1206 892.5h3.5M1799 892.5h-3.5M1206 889.5h3.5M1799 889.5h-3.5M1206 888.5h5.5M1799 888.5h-5.5M1206 875.5h3.5M1799 875.5h-3.5M1206 867.5h3.5M1799 867.5h-3.5M1206 862.5h3.5M1799 862.5h-3.5M1206 857.5h3.5M1799 857.5h-3.5M1206 854.5h3.5M1799 854.5h-3.5M1206 851.5h3.5M1799 851.5h-3.5M1206 849.5h3.5M1799 849.5h-3.5M1206 846.5h3.5M1799 846.5h-3.5M1245.5 1016v-4M1319.5 1016v-4M1394.5 1016v-4M1468.5 1016v-4M1542.5 1016v-4M1617.5 1016v-4M1691.5 1016v-4M1765.5 1016v-4" stroke="#000" stroke-width="1" fill="none"/><text x="1153.51" y="1024.6" font-size="20.6" fill="#000" textLength="25.03" lengthAdjust="spacingAndGlyphs">10</text><text x="1179.02" y="1017.8" font-size="14.4" fill="#000" textLength="19.97" lengthAdjust="spacingAndGlyphs">−1</text><text x="1164.81" y="981.6" font-size="20.6" fill="#000" textLength="25.03" lengthAdjust="spacingAndGlyphs">10</text><text x="1190.62" y="974.8" font-size="14.4" fill="#000" textLength="8.11" lengthAdjust="spacingAndGlyphs">0</text><text x="1164.81" y="938.6" font-size="20.6" fill="#000" textLength="25.03" lengthAdjust="spacingAndGlyphs">10</text><text x="1189.99" y="931.8" font-size="14.4" fill="#000" textLength="8.95" lengthAdjust="spacingAndGlyphs">1</text><text x="1164.81" y="895.6" font-size="20.6" fill="#000" textLength="25.03" lengthAdjust="spacingAndGlyphs">10</text><text x="1190.43" y="888.8" font-size="14.4" fill="#000" textLength="8.56" lengthAdjust="spacingAndGlyphs">2</text><text x="1164.81" y="852.6" font-size="20.6" fill="#000" textLength="25.03" lengthAdjust="spacingAndGlyphs">10</text><text x="1190.61" y="845.8" font-size="14.4" fill="#000" textLength="8.2" lengthAdjust="spacingAndGlyphs">3</text><g transform="translate(1106.8,0) rotate(-90)"><text x="-1057.64" y="0" font-size="25.8" fill="#000" textLength="252.45" lengthAdjust="spacingAndGlyphs">&gt;10 MeV Proton Flux</text></g><g transform="translate(1138.9,0) rotate(-90)"><text x="-1017.58" y="0" font-size="25.8" fill="#000" textLength="6.54" lengthAdjust="spacingAndGlyphs">(</text><text x="-1002.83" y="0" font-size="25.8" fill="#000" textLength="37.5" lengthAdjust="spacingAndGlyphs">cm</text><text x="-965.9" y="-10.3" font-size="17.57" fill="#000" textLength="10.02" lengthAdjust="spacingAndGlyphs">2</text><text x="-949.34" y="0" font-size="25.8" fill="#000" textLength="12.41" lengthAdjust="spacingAndGlyphs">s</text><text x="-937.42" y="-10.3" font-size="17.57" fill="#000" textLength="23.35" lengthAdjust="spacingAndGlyphs">−1</text><text x="-907.58" y="0" font-size="25.8" fill="#000" textLength="21.65" lengthAdjust="spacingAndGlyphs">sr</text><text x="-885.54" y="-10.3" font-size="17.57" fill="#000" textLength="23.79" lengthAdjust="spacingAndGlyphs">−1</text><text x="-850.99" y="0" font-size="25.8" fill="#000" textLength="6.28" lengthAdjust="spacingAndGlyphs">)</text></g><text x="1233.04" y="1037.2" font-size="20.6" fill="#000" textLength="23.8" lengthAdjust="spacingAndGlyphs">18</text><text x="1307.46" y="1037.2" font-size="20.6" fill="#000" textLength="23.81" lengthAdjust="spacingAndGlyphs">19</text><text x="1381.98" y="1037.2" font-size="20.6" fill="#000" textLength="23.84" lengthAdjust="spacingAndGlyphs">20</text><text x="1456.62" y="1037.2" font-size="20.6" fill="#000" textLength="23.54" lengthAdjust="spacingAndGlyphs">21</text><text x="1531.09" y="1037.2" font-size="20.6" fill="#000" textLength="23.44" lengthAdjust="spacingAndGlyphs">22</text><text x="1605.26" y="1037.2" font-size="20.6" fill="#000" textLength="23.64" lengthAdjust="spacingAndGlyphs">23</text><text x="1679.38" y="1037.2" font-size="20.6" fill="#000" textLength="23.93" lengthAdjust="spacingAndGlyphs">24</text><text x="1754.07" y="1037.2" font-size="20.6" fill="#000" textLength="23.53" lengthAdjust="spacingAndGlyphs">25</text><text x="1390.49" y="1065.8" font-size="25.8" fill="#000" textLength="224.37" lengthAdjust="spacingAndGlyphs">October 2019 (UT)</text></svg></body></html>
